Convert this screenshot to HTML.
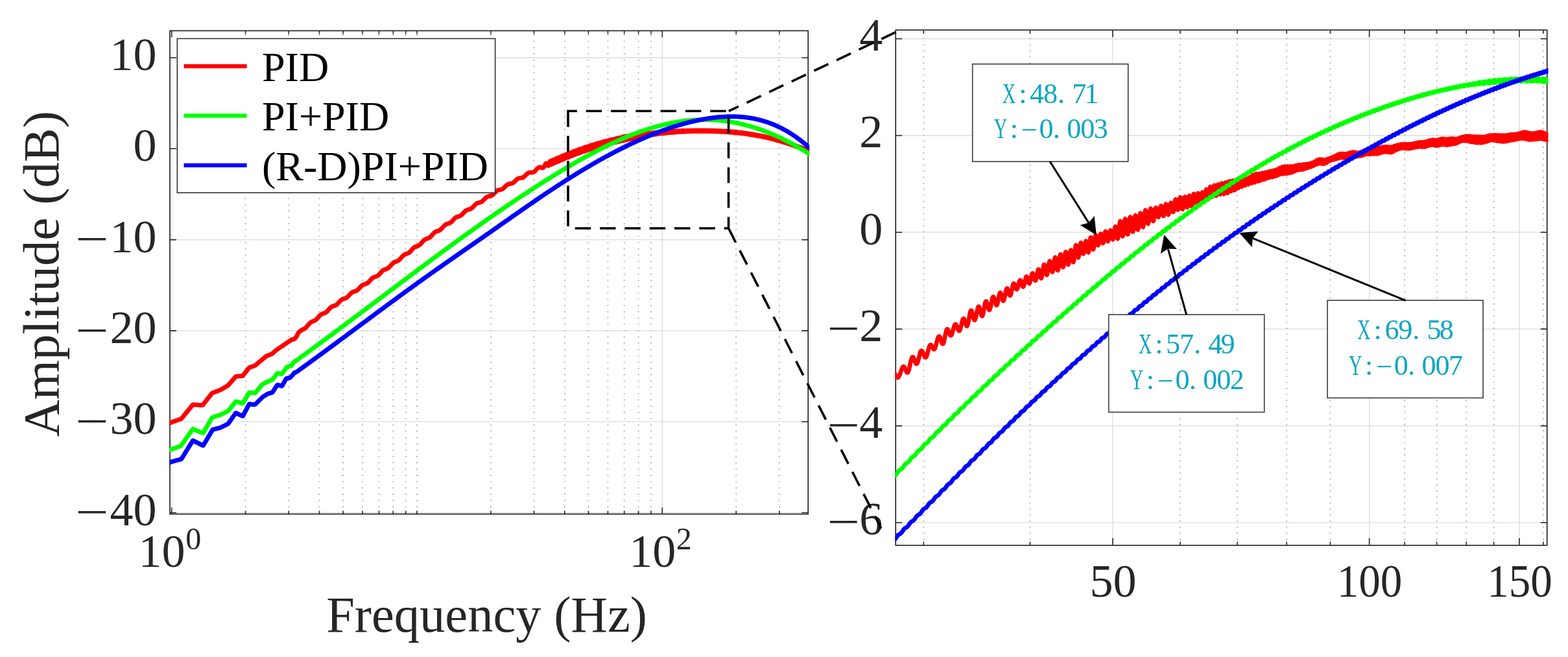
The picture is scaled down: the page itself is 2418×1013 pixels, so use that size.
<!DOCTYPE html>
<html><head><meta charset="utf-8"><title>Amplitude vs Frequency</title>
<style>html,body{margin:0;padding:0;background:#fff;overflow:hidden}svg{display:block}text{font-family:"Liberation Serif","Times New Roman",serif}</style></head><body>
<svg width="2418" height="1013" viewBox="0 0 2418 1013">
<rect x="0" y="0" width="2418" height="1013" fill="#fff"/>
<defs><clipPath id="cl"><rect x="261.2" y="47.4" width="987" height="745.2"/></clipPath>
<clipPath id="cr"><rect x="1380.4" y="46.3" width="1007.1" height="794.5"/></clipPath></defs>
<path d="M262 89H1246.2M262 229.3H1246.2M262 369.6H1246.2M262 509.9H1246.2M262 650.2H1246.2M262 790.5H1246.2M264.7 47.4V792.6M1021.3 47.4V792.6" stroke="#dcdcdc" stroke-width="1.3" fill="none"/>
<path d="M378.6 792.6V47.4M445.2 792.6V47.4M492.5 792.6V47.4M529.1 792.6V47.4M559.1 792.6V47.4M584.4 792.6V47.4M606.3 792.6V47.4M625.7 792.6V47.4M643 792.6V47.4M756.9 792.6V47.4M823.5 792.6V47.4M870.8 792.6V47.4M907.4 792.6V47.4M937.4 792.6V47.4M962.7 792.6V47.4M984.6 792.6V47.4M1004 792.6V47.4M1135.2 792.6V47.4M1201.8 792.6V47.4" stroke="#b4b4b4" stroke-width="1.9" stroke-dasharray="1.9 7.8" stroke-dashoffset="9.2" fill="none"/>
<path d="M264.7 792.6v-10M264.7 47.4v10M1021.3 792.6v-10M1021.3 47.4v10M378.6 792.6v-5M378.6 47.4v5M445.2 792.6v-5M445.2 47.4v5M492.5 792.6v-5M492.5 47.4v5M529.1 792.6v-5M529.1 47.4v5M559.1 792.6v-5M559.1 47.4v5M584.4 792.6v-5M584.4 47.4v5M606.3 792.6v-5M606.3 47.4v5M625.7 792.6v-5M625.7 47.4v5M643 792.6v-5M643 47.4v5M756.9 792.6v-5M756.9 47.4v5M823.5 792.6v-5M823.5 47.4v5M870.8 792.6v-5M870.8 47.4v5M907.4 792.6v-5M907.4 47.4v5M937.4 792.6v-5M937.4 47.4v5M962.7 792.6v-5M962.7 47.4v5M984.6 792.6v-5M984.6 47.4v5M1004 792.6v-5M1004 47.4v5M1135.2 792.6v-5M1135.2 47.4v5M1201.8 792.6v-5M1201.8 47.4v5M262 89h10M1246.2 89h-10M262 229.3h10M1246.2 229.3h-10M262 369.6h10M1246.2 369.6h-10M262 509.9h10M1246.2 509.9h-10M262 650.2h10M1246.2 650.2h-10M262 790.5h10M1246.2 790.5h-10" stroke="#262626" stroke-width="1.6" fill="none"/>
<rect x="262" y="47.4" width="984.2" height="745.2" stroke="#262626" stroke-width="1.7" fill="none"/>
<g clip-path="url(#cl)" fill="none" stroke-width="6.9" stroke-linejoin="round" stroke-linecap="round">
<path d="M260 652.1L260.5 652.1L261 652.1L261.5 652.1L262 652.1L262.5 651.9L263 651.7L263.5 651.5L264 651.3L264.5 651.2L265 651L265.5 650.8L266 650.6L266.5 650.4L267 650.2L267.5 650.1L268 649.9L268.5 649.7L269 649.5L269.5 649.3L270 649.1L270.5 649L271 648.8L271.5 648.6L272 648.4L272.5 648.2L273 648L273.5 647.9L274 647.7L274.5 647.5L275 647.3L275.5 647.1L276 647L276.5 646.8L277 646.6L277.5 646.4L278 646.2L278.5 646L279 645.9L279.5 645.7L280 645.2L280.5 644.6L281 644L281.5 643.4L282 642.8L282.5 642.2L283 641.6L283.5 640.9L284 640.3L284.5 639.7L285 639.1L285.5 638.5L286 637.9L286.5 637.3L287 636.7L287.5 636L288 635.4L288.5 634.8L289 634.2L289.5 633.6L290 633L290.5 632.4L291 631.7L291.5 631.1L292 630.5L292.5 629.9L293 629.3L293.5 628.7L294 628.1L294.5 627.5L295 626.8L295.5 626.2L296 625.6L296.5 625L297 624.4L297.5 623.9L298 623.9L298.5 624L299 624L299.5 624L300 624.1L300.5 624.1L301 624.1L301.5 624.2L302 624.2L302.5 624.2L303 624.3L303.5 624.3L304 624.3L304.5 624.4L305 624.4L305.5 624.4L306 624.5L306.5 624.5L307 624.5L307.5 624.6L308 624.6L308.5 624.6L309 624.7L309.5 624.7L310 624.7L310.5 624.8L311 624.8L311.5 624.8L312 624.9L312.5 624.6L313 624L313.5 623.4L314 622.7L314.5 622.1L315 621.5L315.5 620.8L316 620.2L316.5 619.6L317 618.9L317.5 618.3L318 617.7L318.5 617L319 616.4L319.5 615.8L320 615.1L320.5 614.5L321 613.8L321.5 613.2L322 612.6L322.5 611.9L323 611.3L323.5 610.7L324 610L324.5 609.4L325 608.8L325.5 608.1L326 607.5L326.5 606.9L327 606.2L327.5 605.9L328 605.8L328.5 605.6L329 605.4L329.5 605.2L330 605L330.5 604.8L331 604.6L331.5 604.4L332 604.2L332.5 604L333 603.8L333.5 603.7L334 603.5L334.5 603.3L335 603.1L335.5 602.9L336 602.7L336.5 602.5L337 602.3L337.5 602.1L338 601.9L338.5 601.7L339 601.5L339.5 601.4L340 601.1L340.5 600.8L341 600.6L341.5 600.3L342 600L342.5 599.7L343 599.4L343.5 599.1L344 598.8L344.5 598.5L345 598.2L345.5 597.9L346 597.6L346.5 597.3L347 597L347.5 596.8L348 596.5L348.5 596.2L349 595.9L349.5 595.6L350 595.3L350.5 595L351 594.7L351.5 594.4L352 594L352.5 593.4L353 592.8L353.5 592.2L354 591.6L354.5 591.1L355 590.5L355.5 589.9L356 589.3L356.5 588.7L357 588.2L357.5 587.6L358 587L358.5 586.4L359 585.8L359.5 585.3L360 584.7L360.5 584.1L361 583.5L361.5 582.9L362 582.4L362.5 581.8L363 581.2L363.5 580.6L364 580.5L364.5 580.4L365 580.4L365.5 580.3L366 580.3L366.5 580.2L367 580.2L367.5 580.1L368 580.1L368.5 580L369 580L369.5 580L370 579.9L370.5 579.9L371 579.8L371.5 579.8L372 579.7L372.5 579.7L373 579.6L373.5 579.6L374 579.5L374.5 579.4L375 578.7L375.5 578.1L376 577.4L376.5 576.8L377 576.1L377.5 575.5L378 574.8L378.5 574.2L379 573.6L379.5 572.9L380 572.3L380.5 571.6L381 571L381.5 570.3L382 569.7L382.5 569L383 568.4L383.5 567.7L384 567.1L384.5 566.6L385 566.5L385.5 566.3L386 566.1L386.5 566L387 565.8L387.5 565.6L388 565.5L388.5 565.3L389 565.1L389.5 564.9L390 564.8L390.5 564.6L391 564.4L391.5 564.3L392 564.1L392.5 563.9L393 563.8L393.5 563.5L394 563L394.5 562.6L395 562.2L395.5 561.8L396 561.4L396.5 561L397 560.5L397.5 560.1L398 559.7L398.5 559.3L399 558.9L399.5 558.5L400 558L400.5 557.6L401 557.2L401.5 556.8L402 556.4L402.5 556L403 555.6L403.5 555.1L404 554.7L404.5 554.3L405 553.9L405.5 553.5L406 553.1L406.5 552.6L407 552.2L407.5 551.8L408 551.4L408.5 551L409 550.6L409.5 550.1L410 549.7L410.5 549.3L411 548.9L411.5 548.7L412 548.5L412.5 548.3L413 548.1L413.5 548L414 547.8L414.5 547.6L415 547.4L415.5 547.2L416 547L416.5 546.8L417 546.6L417.5 546.4L418 546.2L418.5 546.1L419 545.8L419.5 545.4L420 545L420.5 544.5L421 544.1L421.5 543.7L422 543.2L422.5 542.8L423 542.4L423.5 542L424 541.5L424.5 541.1L425 540.7L425.5 540.3L426 539.9L426.5 539.5L427 539.2L427.5 538.8L428 538.5L428.5 538.1L429 537.8L429.5 537.5L430 537.1L430.5 536.8L431 536.4L431.5 536.1L432 535.7L432.5 535.4L433 535.1L433.5 534.7L434 534.4L434.5 534L435 533.7L435.5 533.3L436 533L436.5 532.7L437 532.3L437.5 532L438 531.6L438.5 531.3L439 530.9L439.5 530.6L440 530.3L440.5 529.9L441 529.6L441.5 529.2L442 528.9L442.5 528.5L443 528.2L443.5 527.9L444 527.5L444.5 527.2L445 526.8L445.5 526.5L446 526.1L446.5 525.8L447 525.5L447.5 525.1L448 524.8L448.5 524.4L449 524.1L449.5 523.7L450 523.4L450.5 523.4L451 523.4L451.5 523.4L452 523.5L452.5 523.3L453 523L453.5 522.8L454 522.4L454.5 522L455 521.6L455.5 521.1L456 520.5L456.5 519.8L457 519.1L457.5 518.3L458 517.4L458.5 516.5L459 515.5L459.5 514.5L460 513.3L460.5 512.8L461 512.3L461.5 511.8L462 511.3L462.5 510.8L463 510.4L463.5 510L464 509.6L464.5 509.3L465 508.9L465.5 508.7L466 508.4L466.5 508.2L467 507.9L467.5 507.7L468 507.5L468.5 507.3L469 507L469.5 506.7L470 506.5L470.5 506.1L471 505.7L471.5 505.2L472 504.8L472.5 504.2L473 503.7L473.5 503.1L474 502.5L474.5 501.9L475 501.3L475.5 500.7L476 500.1L476.5 499.5L477 499L477.5 498.5L478 498L478.5 497.6L479 497.2L479.5 496.8L480 496.5L480.5 496.2L481 496L481.5 495.8L482 495.6L482.5 495.4L483 495.3L483.5 495.1L484 494.9L484.5 494.7L485 494.5L485.5 494.2L486 493.9L486.5 493.6L487 493.2L487.5 492.8L488 492.3L488.5 491.8L489 491.3L489.5 490.7L490 490.1L490.5 489.6L491 489L491.5 488.4L492 487.8L492.5 487.3L493 486.7L493.5 486.2L494 485.8L494.5 485.4L495 485L495.5 484.7L496 484.4L496.5 484.1L497 483.9L497.5 483.7L498 483.6L498.5 483.4L499 483.2L499.5 483.1L500 482.9L500.5 482.7L501 482.5L501.5 482.3L502 482L502.5 481.7L503 481.3L503.5 480.9L504 480.4L504.5 480L505 479.4L505.5 478.9L506 478.3L506.5 477.8L507 477.2L507.5 476.6L508 476L508.5 475.5L509 475L509.5 474.5L510 474.1L510.5 473.7L511 473.3L511.5 473L512 472.7L512.5 472.5L513 472.3L513.5 472.1L514 472L514.5 471.8L515 471.7L515.5 471.5L516 471.4L516.5 471.2L517 471L517.5 470.8L518 470.5L518.5 470.2L519 469.8L519.5 469.4L520 469L520.5 468.5L521 468L521.5 467.5L522 466.9L522.5 466.3L523 465.8L523.5 465.2L524 464.7L524.5 464.1L525 463.6L525.5 463.2L526 462.7L526.5 462.3L527 462L527.5 461.7L528 461.4L528.5 461.2L529 461L529.5 460.8L530 460.7L530.5 460.5L531 460.4L531.5 460.3L532 460.1L532.5 459.9L533 459.7L533.5 459.5L534 459.2L534.5 458.9L535 458.6L535.5 458.2L536 457.8L536.5 457.3L537 456.8L537.5 456.3L538 455.7L538.5 455.1L539 454.6L539.5 454L540 453.5L540.5 452.9L541 452.4L541.5 452L542 451.5L542.5 451.2L543 450.8L543.5 450.5L544 450.2L544.5 450L545 449.8L545.5 449.6L546 449.5L546.5 449.4L547 449.2L547.5 449.1L548 448.9L548.5 448.8L549 448.6L549.5 448.3L550 448.1L550.5 447.8L551 447.4L551.5 447L552 446.6L552.5 446.1L553 445.6L553.5 445.1L554 444.5L554.5 444L555 443.4L555.5 442.9L556 442.3L556.5 441.8L557 441.3L557.5 440.8L558 440.4L558.5 440L559 439.6L559.5 439.3L560 439.1L560.5 438.8L561 438.6L561.5 438.5L562 438.3L562.5 438.2L563 438L563.5 437.9L564 437.7L564.5 437.6L565 437.4L565.5 437.1L566 436.8L566.5 436.5L567 436.2L567.5 435.8L568 435.3L568.5 434.9L569 434.4L569.5 433.8L570 433.3L570.5 432.7L571 432.1L571.5 431.6L572 431L572.5 430.5L573 430L573.5 429.5L574 429L574.5 428.6L575 428.3L575.5 428L576 427.7L576.5 427.5L577 427.3L577.5 427.1L578 426.9L578.5 426.8L579 426.6L579.5 426.5L580 426.3L580.5 426.1L581 425.9L581.5 425.7L582 425.4L582.5 425.1L583 424.7L583.5 424.3L584 423.9L584.5 423.4L585 422.9L585.5 422.3L586 421.8L586.5 421.2L587 420.6L587.5 420L588 419.5L588.5 418.9L589 418.4L589.5 417.9L590 417.5L590.5 417.1L591 416.7L591.5 416.4L592 416.1L592.5 415.9L593 415.6L593.5 415.5L594 415.3L594.5 415.1L595 415L595.5 414.8L596 414.7L596.5 414.5L597 414.3L597.5 414L598 413.7L598.5 413.4L599 413L599.5 412.6L600 412.2L600.5 411.7L601 411.2L601.5 410.6L602 410L602.5 409.5L603 408.9L603.5 408.3L604 407.7L604.5 407.2L605 406.7L605.5 406.2L606 405.7L606.5 405.3L607 405L607.5 404.6L608 404.3L608.5 404.1L609 403.9L609.5 403.7L610 403.5L610.5 403.4L611 403.2L611.5 403L612 402.9L612.5 402.7L613 402.5L613.5 402.2L614 401.9L614.5 401.6L615 401.2L615.5 400.8L616 400.4L616.5 399.9L617 399.3L617.5 398.8L618 398.2L618.5 397.6L619 397.1L619.5 396.5L620 395.9L620.5 395.4L621 394.8L621.5 394.3L622 393.9L622.5 393.5L623 393.1L623.5 392.8L624 392.5L624.5 392.3L625 392L625.5 391.8L626 391.7L626.5 391.5L627 391.4L627.5 391.2L628 391L628.5 390.8L629 390.6L629.5 390.4L630 390.1L630.5 389.7L631 389.4L631.5 389L632 388.5L632.5 388L633 387.5L633.5 386.9L634 386.4L634.5 385.8L635 385.2L635.5 384.6L636 384.1L636.5 383.5L637 383L637.5 382.5L638 382L638.5 381.6L639 381.3L639.5 380.9L640 380.7L640.5 380.4L641 380.2L641.5 380L642 379.8L642.5 379.7L643 379.5L643.5 379.4L644 379.2L644.5 379L645 378.8L645.5 378.5L646 378.2L646.5 377.9L647 377.5L647.5 377.1L648 376.7L648.5 376.2L649 375.7L649.5 375.1L650 374.6L650.5 374L651 373.4L651.5 372.8L652 372.2L652.5 371.7L653 371.2L653.5 370.7L654 370.3L654.5 369.8L655 369.5L655.5 369.2L656 368.9L656.5 368.6L657 368.4L657.5 368.2L658 368.1L658.5 367.9L659 367.8L659.5 367.6L660 367.4L660.5 367.3L661 367L661.5 366.8L662 366.5L662.5 366.2L663 365.8L663.5 365.4L664 365L664.5 364.5L665 364L665.5 363.4L666 362.9L666.5 362.3L667 361.7L667.5 361.1L668 360.6L668.5 360L669 359.5L669.5 359L670 358.6L670.5 358.2L671 357.8L671.5 357.5L672 357.2L672.5 357L673 356.8L673.5 356.6L674 356.4L674.5 356.3L675 356.2L675.5 356L676 355.9L676.5 355.7L677 355.5L677.5 355.2L678 354.9L678.5 354.6L679 354.3L679.5 353.9L680 353.4L680.5 353L681 352.4L681.5 351.9L682 351.4L682.5 350.8L683 350.2L683.5 349.6L684 349.1L684.5 348.6L685 348.1L685.5 347.6L686 347.1L686.5 346.8L687 346.4L687.5 346.1L688 345.8L688.5 345.6L689 345.4L689.5 345.2L690 345.1L690.5 344.9L691 344.8L691.5 344.7L692 344.5L692.5 344.3L693 344.1L693.5 343.9L694 343.6L694.5 343.3L695 343L695.5 342.6L696 342.1L696.5 341.7L697 341.2L697.5 340.7L698 340.1L698.5 339.5L699 339L699.5 338.4L700 337.9L700.5 337.4L701 336.9L701.5 336.4L702 336L702.5 335.6L703 335.2L703.5 334.9L704 334.7L704.5 334.5L705 334.3L705.5 334.1L706 334L706.5 333.8L707 333.7L707.5 333.6L708 333.4L708.5 333.3L709 333.1L709.5 332.9L710 332.6L710.5 332.3L711 332L711.5 331.6L712 331.1L712.5 330.7L713 330.2L713.5 329.7L714 329.1L714.5 328.6L715 328L715.5 327.5L716 327L716.5 326.4L717 326L717.5 325.5L718 325.1L718.5 324.7L719 324.4L719.5 324.1L720 323.8L720.5 323.6L721 323.4L721.5 323.3L722 323.2L722.5 323L723 322.9L723.5 322.8L724 322.7L724.5 322.5L725 322.3L725.5 322.1L726 321.9L726.5 321.6L727 321.2L727.5 320.9L728 320.5L728.5 320L729 319.5L729.5 319L730 318.5L730.5 318L731 317.4L731.5 316.9L732 316.3L732.5 315.8L733 315.4L733.5 314.9L734 314.5L734.5 314.1L735 313.8L735.5 313.5L736 313.3L736.5 313.1L737 312.9L737.5 312.8L738 312.7L738.5 312.6L739 312.4L739.5 312.3L740 312.2L740.5 312.1L741 311.9L741.5 311.7L742 311.5L742.5 311.2L743 310.9L743.5 310.5L744 310.1L744.5 309.7L745 309.2L745.5 308.7L746 308.2L746.5 307.7L747 307.1L747.5 306.6L748 306.1L748.5 305.6L749 305.1L749.5 304.7L750 304.3L750.5 303.9L751 303.6L751.5 303.4L752 303.1L752.5 302.9L753 302.8L753.5 302.6L754 302.5L754.5 302.4L755 302.3L755.5 302.2L756 302.1L756.5 302L757 301.8L757.5 301.7L758 301.4L758.5 301.2L759 300.8L759.5 300.5L760 300.1L760.5 299.7L761 299.2L761.5 298.7L762 298.2L762.5 297.7L763 297.2L763.5 296.7L764 296.2L764.5 295.7L765 295.2L765.5 294.8L766 294.4L766.5 294.1L767 293.8L767.5 293.5L768 293.3L768.5 293.1L769 293L769.5 292.9L770 292.8L770.5 292.7L771 292.6L771.5 292.5L772 292.4L772.5 292.3L773 292.2L773.5 292L774 291.8L774.5 291.5L775 291.2L775.5 290.9L776 290.5L776.5 290.1L777 289.6L777.5 289.2L778 288.7L778.5 288.2L779 287.7L779.5 287.2L780 286.7L780.5 286.2L781 285.8L781.5 285.3L782 285L782.5 284.6L783 284.4L783.5 284.1L784 283.9L784.5 283.7L785 283.6L785.5 283.5L786 283.4L786.5 283.3L787 283.3L787.5 283.2L788 283.1L788.5 283L789 282.9L789.5 282.7L790 282.5L790.5 282.3L791 282L791.5 281.7L792 281.3L792.5 280.9L793 280.5L793.5 280L794 279.5L794.5 279L795 278.5L795.5 278L796 277.6L796.5 277.1L797 276.7L797.5 276.3L798 275.9L798.5 275.6L799 275.3L799.5 275.1L800 274.9L800.5 274.8L801 274.6L801.5 274.5L802 274.5L802.5 274.4L803 274.4L803.5 274.3L804 274.3L804.5 274.2L805 274.1L805.5 274L806 273.8L806.5 273.6L807 273.3L807.5 273L808 272.6L808.5 272.2L809 271.8L809.5 271.3L810 270.9L810.5 270.3L811 269.8L811.5 269.3L812 268.8L812.5 268.3L813 267.9L813.5 267.5L814 267.1L814.5 266.8L815 266.5L815.5 266.3L816 266.1L816.5 266L817 266L817.5 265.9L818 265.9L818.5 265.9L819 265.9L819.5 266L820 266L820.5 265.9L821 265.9L821.5 265.8L822 265.7L822.5 265.5L823 265.2L823.5 264.9L824 264.6L824.5 264.2L825 263.7L825.5 263.2L826 262.7L826.5 262.1L827 261.6L827.5 261L828 260.5L828.5 260L829 259.5L829.5 259.1L830 258.7L830.5 258.4L831 258.1L831.5 257.9L832 257.8L832.5 257.7L833 257.8L833.5 257.9L834 258.1L834.5 258.3L835 258.5L835.5 258.7L836 258.9L836.5 259L837 258.9L837.5 258.7L838 258.4L838.5 257.8L839 257.1L839.5 256.2L840 255.2L840.5 254.2L841 253.3L841.5 252.5L842 252L842.5 251.9L843 252.2L843.5 252.8L844 253.7L844.5 254.6L845 255.3L845.5 255.5L846 255L846.5 253.7L847 251.8L847.5 250L848 248.9L848.5 249.2L849 251L849.5 253.1L850 253.7L850.5 251.7L851 248.7L851.5 247.1L852 248.2L852.5 250.8L853 252.4L853.5 251.3L854 248.4L854.5 246L855 246.1L855.5 248.4L856 250.6L856.5 250.6L857 248.2L857.5 245.3L858 244.3L858.5 245.9L859 248.5L859.5 249.6L860 248L860.5 244.9L861 243L861.5 243.7L862 246.2L862.5 248.1L863 247.5L863.5 244.8L864 242.1L864.5 241.7L865 243.8L865.5 246.2L866 246.7L866.5 244.6L867 241.6L867.5 240.2L868 241.5L868.5 244.1L869 245.5L869.5 244.3L870 241.4L870.5 239.1L871 239.4L871.5 241.8L872 244L872.5 243.8L873 241.2L873.5 238.4L874 237.7L874.5 239.5L875 242L875.5 242.9L876 241.1L876.5 238.1L877 236.3L877.5 237.3L878 239.9L878.5 241.6L879 240.8L879.5 237.9L880 235.4L880.5 235.4L881 237.7L881.5 240L882 240.2L882.5 237.8L883 234.9L883.5 233.9L884 235.4L884.5 238.1L885 239.2L885.5 237.7L886 234.7L886.5 232.7L887 233.4L887.5 236L888 237.9L888.5 237.3L889 234.6L889.5 232L890 231.7L890.5 233.8L891 236.3L891.5 236.7L892 234.5L892.5 231.6L893 230.3L893.5 231.7L894 234.4L894.5 235.7L895 234.4L895.5 231.4L896 229.3L896.5 229.8L897 232.3L897.5 234.4L898 234.1L898.5 231.4L899 228.7L899.5 228.2L900 230.3L900.5 232.8L901 233.4L901.5 231.4L902 228.4L902.5 227L903 228.3L903.5 231L904 232.5L904.5 231.3L905 228.3L905.5 226.1L906 226.5L906.5 229L907 231.2L907.5 230.9L908 228.3L908.5 225.6L909 225L909.5 227L910 229.6L910.5 230.3L911 228.3L911.5 225.3L912 223.9L912.5 225.1L913 227.8L913.5 229.4L914 228.2L914.5 225.3L915 223.1L915.5 223.4L916 225.9L916.5 228.1L917 227.9L917.5 225.4L918 222.6L918.5 222L919 224L919.5 226.6L920 227.4L920.5 225.4L921 222.4L921.5 221L922 222.2L922.5 224.9L923 226.5L923.5 225.3L924 222.4L924.5 220.2L925 220.6L925.5 223.1L926 225.3L926.5 225.1L927 222.5L927.5 219.8L928 219.3L928.5 221.3L929 223.9L929.5 224.6L930 222.6L930.5 219.6L931 218.3L931.5 219.6L932 222.3L932.5 223.8L933 222.6L933.5 219.6L934 217.5L934.5 218.1L935 220.6L935.5 222.8L936 222.4L936.5 219.8L937 217.1L937.5 216.8L938 218.9L938.5 221.5L939 222L939.5 219.9L940 216.9L940.5 215.7L941 217.3L941.5 220L942 221.3L942.5 219.9L943 217L943.5 215L944 215.8L944.5 218.4L945 220.4L945.5 219.9L946 217.1L946.5 214.6L947 214.5L947.5 216.8L948 219.3L948.5 219.6L949 217.3L949.5 214.4L950 213.5L950.5 215.2L951 217.9L951.5 219L952 217.4L952.5 214.4L953 212.7L953.5 213.7L954 216.4L954.5 218.3L955 217.4L955.5 214.6L956 212.2L956.5 212.5L957 214.9L957.5 217.3L958 217.3L958.5 214.8L959 212L959.5 211.4L960 213.4L960.5 216.1L961 216.9L961.5 215L962 212L962.5 210.6L963 212L963.5 214.7L964 216.3L964.5 215.1L965 212.2L965.5 210.1L966 210.7L966.5 213.3L967 215.5L967.5 215.1L968 212.4L968.5 209.8L969 209.6L969.5 211.9L970 214.4L970.5 214.8L971 212.6L971.5 209.7L972 208.8L972.5 210.5L973 213.3L973.5 214.4L974 212.8L974.5 209.8L975 208.2L975.5 209.2L976 212L976.5 213.8L977 212.9L977.5 210.1L978 207.8L978.5 208.1L979 210.6L979.5 213L980 212.9L980.5 210.3L981 207.7L981.5 207.3L982 209.3L982.5 211.9L983 212.5L983.5 210.5L984 207.8L984.5 206.7L985 208.2L985.5 210.7L986 211.9L986.5 210.6L987 208L987.5 206.4L988 207.2L988.5 209.5L989 211.2L989.5 210.5L990 208.2L990.5 206.3L991 206.4L991.5 208.4L992 210.3L992.5 210.3L993 208.4L993.5 206.3L994 205.8L994.5 207.4L995 209.3L995.5 209.9L996 208.4L996.5 206.3L997 205.4L997.5 206.5L998 208.4L998.5 209.3L999 208.4L999.5 206.4L1000 205.2L1000.5 205.7L1001 207.5L1001.5 208.7L1002 208.2L1002.5 206.5L1003 205.1L1003.5 205.2L1004 206.6L1004.5 208L1005 207.9L1005.5 206.6L1006 205.1L1006.5 204.8L1007 205.8L1007.5 207.2L1008 207.5L1008.5 206.5L1009 205.1L1009.5 204.5L1010 205.2L1010.5 206.5L1011 207.1L1011.5 206.4L1012 205L1012.5 204.2L1013 204.6L1013.5 205.8L1014 206.7L1014.5 206.3L1015 205L1015.5 204L1016 204.1L1016.5 205.2L1017 206.2L1017.5 206.1L1018 205L1018.5 203.8L1019 203.6L1019.5 204.6L1020 205.7L1020.5 205.9L1021 205L1021.5 203.7L1022 203.3L1022.5 204L1023 205.1L1023.5 205.6L1024 204.9L1024.5 203.7L1025 203L1025.5 203.5L1026 204.6L1026.5 205.3L1027 204.9L1027.5 203.7L1028 202.8L1028.5 203L1029 204.1L1029.5 204.9L1030 204.7L1030.5 203.7L1031 202.7L1031.5 202.7L1032 203.6L1032.5 204.5L1033 204.6L1033.5 203.7L1034 202.6L1034.5 202.4L1035 203.1L1035.5 204.1L1036 204.4L1036.5 203.7L1037 202.6L1037.5 202.2L1038 202.7L1038.5 203.7L1039 204.2L1039.5 203.7L1040 202.6L1040.5 202L1041 202.3L1041.5 203.3L1042 203.9L1042.5 203.6L1043 202.7L1043.5 201.9L1044 202L1044.5 202.9L1045 203.6L1045.5 203.5L1046 202.7L1046.5 201.8L1047 201.8L1047.5 202.5L1048 203.3L1048.5 203.4L1049 202.7L1049.5 201.8L1050 201.6L1050.5 202.2L1051 203L1051.5 203.3L1052 202.7L1052.5 201.8L1053 201.4L1053.5 201.9L1054 202.7L1054.5 203.1L1055 202.7L1055.5 201.9L1056 201.4L1056.5 201.6L1057 202.4L1057.5 203L1058 202.7L1058.5 201.9L1059 201.3L1059.5 201.4L1060 202.2L1060.5 202.8L1061 202.7L1061.5 202L1062 201.3L1062.5 201.3L1063 201.9L1063.5 202.6L1064 202.7L1064.5 202.1L1065 201.3L1065.5 201.1L1066 201.7L1066.5 202.4L1067 202.6L1067.5 202.1L1068 201.4L1068.5 201.1L1069 201.5L1069.5 202.3L1070 202.6L1070.5 202.2L1071 201.4L1071.5 201L1072 201.3L1072.5 202.1L1073 202.5L1073.5 202.3L1074 201.5L1074.5 201L1075 201.2L1075.5 201.9L1076 202.5L1076.5 202.3L1077 201.6L1077.5 201L1078 201.1L1078.5 201.8L1079 202.4L1079.5 202.4L1080 201.8L1080.5 201.1L1081 201L1081.5 201.6L1082 202.3L1082.5 202.5L1083 201.9L1083.5 201.2L1084 201L1084.5 201.5L1085 202.3L1085.5 202.5L1086 202L1086.5 201.3L1087 201L1087.5 201.4L1088 202.2L1088.5 202.5L1089 202.2L1089.5 201.4L1090 201L1090.5 201.3L1091 202.1L1091.5 202.6L1092 202.3L1092.5 201.6L1093 201.1L1093.5 201.3L1094 202L1094.5 202.6L1095 202.5L1095.5 201.8L1096 201.2L1096.5 201.3L1097 202L1097.5 202.6L1098 202.6L1098.5 202L1099 201.3L1099.5 201.3L1100 202L1100.5 202.6L1101 202.7L1101.5 202.2L1102 201.5L1102.5 201.4L1103 201.9L1103.5 202.7L1104 202.9L1104.5 202.4L1105 201.7L1105.5 201.5L1106 201.9L1106.5 202.7L1107 203L1107.5 202.6L1108 201.9L1108.5 201.6L1109 202L1109.5 202.7L1110 203.1L1110.5 202.8L1111 202.1L1111.5 201.7L1112 202L1112.5 202.8L1113 203.3L1113.5 203L1114 202.4L1114.5 201.9L1115 202.1L1115.5 202.8L1116 203.4L1116.5 203.3L1117 202.6L1117.5 202.1L1118 202.2L1118.5 202.9L1119 203.6L1119.5 203.5L1120 202.9L1120.5 202.3L1121 202.4L1121.5 203L1122 203.7L1122.5 203.8L1123 203.2L1123.5 202.6L1124 202.6L1124.5 203.2L1125 203.9L1125.5 204L1126 203.5L1126.5 202.9L1127 202.8L1127.5 203.3L1128 204L1128.5 204.3L1129 203.9L1129.5 203.2L1130 203L1130.5 203.5L1131 204.2L1131.5 204.6L1132 204.2L1132.5 203.6L1133 203.3L1133.5 203.7L1134 204.4L1134.5 204.9L1135 204.6L1135.5 203.9L1136 203.6L1136.5 203.9L1137 204.7L1137.5 205.1L1138 204.9L1138.5 204.3L1139 203.9L1139.5 204.2L1140 204.9L1140.5 205.5L1141 205.3L1141.5 204.7L1142 204.3L1142.5 204.5L1143 205.2L1143.5 205.8L1144 205.7L1144.5 205.1L1145 204.6L1145.5 204.8L1146 205.5L1146.5 206.1L1147 206.1L1147.5 205.6L1148 205.1L1148.5 205.1L1149 205.8L1149.5 206.5L1150 206.6L1150.5 206.1L1151 205.5L1151.5 205.5L1152 206.1L1152.5 206.8L1153 207L1153.5 206.6L1154 206L1154.5 205.9L1155 206.5L1155.5 207.2L1156 207.5L1156.5 207.1L1157 206.5L1157.5 206.3L1158 206.9L1158.5 207.6L1159 208L1159.5 207.6L1160 207L1160.5 206.8L1161 207.3L1161.5 208.1L1162 208.4L1162.5 208.1L1163 207.6L1163.5 207.3L1164 207.8L1164.5 208.5L1165 209L1165.5 208.7L1166 208.1L1166.5 207.9L1167 208.3L1167.5 209L1168 209.5L1168.5 209.3L1169 208.7L1169.5 208.4L1170 208.8L1170.5 209.5L1171 210.1L1171.5 209.9L1172 209.4L1172.5 209L1173 209.3L1173.5 210.1L1174 210.6L1174.5 210.6L1175 210L1175.5 209.7L1176 209.9L1176.5 210.7L1177 211.3L1177.5 211.2L1178 210.7L1178.5 210.3L1179 210.5L1179.5 211.3L1180 211.9L1180.5 211.9L1181 211.4L1181.5 211L1182 211.2L1182.5 211.9L1183 212.6L1183.5 212.6L1184 212.2L1184.5 211.7L1185 211.9L1185.5 212.6L1186 213.2L1186.5 213.4L1187 212.9L1187.5 212.5L1188 212.6L1188.5 213.2L1189 214L1189.5 214.1L1190 213.7L1190.5 213.3L1191 213.3L1191.5 214L1192 214.7L1192.5 214.9L1193 214.5L1193.5 214.1L1194 214.1L1194.5 214.7L1195 215.5L1195.5 215.7L1196 215.4L1196.5 214.9L1197 214.9L1197.5 215.5L1198 216.3L1198.5 216.6L1199 216.2L1199.5 215.8L1200 215.7L1200.5 216.3L1201 217.1L1201.5 217.4L1202 217.1L1202.5 216.6L1203 216.6L1203.5 217.2L1204 217.9L1204.5 218.3L1205 218L1205.5 217.6L1206 217.5L1206.5 218L1207 218.8L1207.5 219.2L1208 219L1208.5 218.5L1209 218.4L1209.5 218.9L1210 219.7L1210.5 220.1L1211 219.9L1211.5 219.4L1212 219.3L1212.5 219.9L1213 220.7L1213.5 221.1L1214 220.9L1214.5 220.4L1215 220.3L1215.5 220.8L1216 221.6L1216.5 222.1L1217 221.9L1217.5 221.4L1218 221.3L1218.5 221.8L1219 222.6L1219.5 223.1L1220 222.9L1220.5 222.5L1221 222.3L1221.5 222.8L1222 223.6L1222.5 224.1L1223 223.9L1223.5 223.5L1224 223.3L1224.5 223.8L1225 224.6L1225.5 225.1L1226 225L1226.5 224.6L1227 224.4L1227.5 224.9L1228 225.7L1228.5 226.2L1229 226.1L1229.5 225.6L1230 225.5L1230.5 225.9L1231 226.7L1231.5 227.3L1232 227.2L1232.5 226.7L1233 226.6L1233.5 227L1234 227.8L1234.5 228.4L1235 228.3L1235.5 227.9L1236 227.7L1236.5 228.1L1237 228.9L1237.5 229.5L1238 229.4L1238.5 229L1239 228.8L1239.5 229.3L1240 230.1L1240.5 230.6L1241 230.6L1241.5 230.2L1242 230L1242.5 230.4L1243 231.2L1243.5 231.8L1244 231.7L1244.5 231.3L1245 231.2L1245.5 231.6L1246 232.4L1246.5 232.9L1247 232.9L1247.5 232.5L1248 232.4" stroke="#ff0000"/>
<path d="M260 693.6L260.5 693.6L261 693.6L261.5 693.6L262 693.6L262.5 693.4L263 693.2L263.5 693L264 692.9L264.5 692.7L265 692.5L265.5 692.3L266 692.2L266.5 692L267 691.8L267.5 691.6L268 691.5L268.5 691.3L269 691.1L269.5 690.9L270 690.8L270.5 690.6L271 690.4L271.5 690.2L272 690.1L272.5 689.9L273 689.7L273.5 689.5L274 689.4L274.5 689.2L275 689L275.5 688.8L276 688.6L276.5 688.5L277 688.3L277.5 688.1L278 687.9L278.5 687.8L279 687.3L279.5 686.6L280 685.9L280.5 685.2L281 684.5L281.5 683.8L282 683.1L282.5 682.4L283 681.7L283.5 680.9L284 680.2L284.5 679.5L285 678.8L285.5 678.1L286 677.4L286.5 676.7L287 676L287.5 675.3L288 674.6L288.5 673.9L289 673.2L289.5 672.5L290 671.8L290.5 671.1L291 670.4L291.5 669.7L292 669L292.5 668.3L293 667.6L293.5 666.9L294 666.2L294.5 665.5L295 664.8L295.5 664.1L296 663.4L296.5 662.7L297 662L297.5 661.4L298 661.6L298.5 661.9L299 662.1L299.5 662.3L300 662.5L300.5 662.7L301 662.9L301.5 663.1L302 663.3L302.5 663.5L303 663.7L303.5 663.9L304 664.1L304.5 664.3L305 664.5L305.5 664.7L306 664.9L306.5 665.1L307 665.3L307.5 665.6L308 665.8L308.5 666L309 666.2L309.5 666.4L310 666.6L310.5 666.8L311 667L311.5 667.2L312 667.4L312.5 667.6L313 667.8L313.5 667.4L314 666.5L314.5 665.6L315 664.8L315.5 663.9L316 663L316.5 662.2L317 661.3L317.5 660.4L318 659.5L318.5 658.7L319 657.8L319.5 656.9L320 656.1L320.5 655.2L321 654.3L321.5 653.4L322 652.6L322.5 651.7L323 650.8L323.5 650L324 649.1L324.5 648.2L325 647.4L325.5 646.5L326 645.6L326.5 644.7L327 643.9L327.5 643.6L328 643.4L328.5 643.3L329 643.1L329.5 643L330 642.8L330.5 642.6L331 642.5L331.5 642.3L332 642.2L332.5 642L333 641.9L333.5 641.7L334 641.5L334.5 641.4L335 641.2L335.5 641.1L336 640.9L336.5 640.8L337 640.6L337.5 640.5L338 640.3L338.5 640.1L339 640L339.5 639.8L340 639.6L340.5 639.4L341 639.1L341.5 638.9L342 638.6L342.5 638.4L343 638.1L343.5 637.9L344 637.6L344.5 637.4L345 637.1L345.5 636.9L346 636.6L346.5 636.4L347 636.1L347.5 635.9L348 635.6L348.5 635.4L349 635.1L349.5 634.9L350 634.6L350.5 634.4L351 634.1L351.5 633.9L352 633.4L352.5 632.8L353 632.2L353.5 631.6L354 630.9L354.5 630.3L355 629.7L355.5 629.1L356 628.5L356.5 627.8L357 627.2L357.5 626.6L358 626L358.5 625.3L359 624.7L359.5 624.1L360 623.5L360.5 622.9L361 622.2L361.5 621.6L362 621L362.5 620.4L363 619.7L363.5 619.1L364 619.1L364.5 619.2L365 619.4L365.5 619.5L366 619.6L366.5 619.8L367 619.9L367.5 620L368 620.2L368.5 620.3L369 620.5L369.5 620.6L370 620.7L370.5 620.9L371 621L371.5 621.1L372 621.3L372.5 621.4L373 621.5L373.5 621.7L374 621.8L374.5 621.7L375 620.9L375.5 620L376 619.2L376.5 618.4L377 617.5L377.5 616.7L378 615.8L378.5 615L379 614.1L379.5 613.3L380 612.5L380.5 611.6L381 610.8L381.5 609.9L382 609.1L382.5 608.2L383 607.4L383.5 606.5L384 605.7L384.5 605.2L385 605.3L385.5 605.3L386 605.4L386.5 605.4L387 605.5L387.5 605.5L388 605.6L388.5 605.6L389 605.7L389.5 605.7L390 605.8L390.5 605.8L391 605.9L391.5 605.9L392 606L392.5 606L393 606.1L393.5 605.7L394 605.2L394.5 604.6L395 604L395.5 603.4L396 602.8L396.5 602.2L397 601.7L397.5 601.1L398 600.5L398.5 599.9L399 599.3L399.5 598.7L400 598.1L400.5 597.6L401 597L401.5 596.4L402 595.8L402.5 595.2L403 594.6L403.5 594.1L404 593.5L404.5 592.9L405 592.3L405.5 592.1L406 591.8L406.5 591.6L407 591.3L407.5 591.1L408 590.8L408.5 590.6L409 590.3L409.5 590.1L410 589.8L410.5 589.6L411 589.3L411.5 589.1L412 588.8L412.5 588.6L413 588.4L413.5 588.1L414 587.9L414.5 587.7L415 587.5L415.5 587.3L416 587.1L416.5 586.9L417 586.6L417.5 586.4L418 586.2L418.5 586L419 585.8L419.5 585.6L420 585.3L420.5 584.6L421 584L421.5 583.4L422 582.8L422.5 582.1L423 581.5L423.5 580.9L424 580.3L424.5 579.6L425 579L425.5 578.4L426 577.8L426.5 577.1L427 576.5L427.5 575.9L428 575.5L428.5 575.6L429 575.7L429.5 575.7L430 575.8L430.5 575.9L431 576L431.5 576L432 576.1L432.5 576.2L433 576.3L433.5 576.3L434 576.4L434.5 576.5L435 576.1L435.5 575.4L436 574.7L436.5 574L437 573.4L437.5 572.7L438 572L438.5 571.3L439 570.6L439.5 569.9L440 569.3L440.5 568.6L441 567.9L441.5 567.2L442 566.5L442.5 565.8L443 565.6L443.5 565.4L444 565.3L444.5 565.1L445 565L445.5 564.9L446 564.7L446.5 564.6L447 564.4L447.5 564.3L448 564.1L448.5 564L449 563.8L449.5 563.7L450 563L450.5 562.3L451 561.5L451.5 560.8L452 560.1L452.5 559.4L453 558.7L453.5 558L454 557.4L454.5 556.9L455 556.3L455.5 556.3L456 556.2L456.5 556L457 555.8L457.5 555.5L458 555.2L458.5 554.9L459 554.5L459.5 554.1L460 553.6L460.5 553.3L461 552.9L461.5 552.5L462 552.2L462.5 551.8L463 551.4L463.5 551.1L464 550.7L464.5 550.4L465 550L465.5 549.6L466 549.3L466.5 548.9L467 548.5L467.5 548.2L468 547.8L468.5 547.4L469 547.1L469.5 546.7L470 546.4L470.5 546L471 545.6L471.5 545.3L472 544.9L472.5 544.5L473 544.2L473.5 543.8L474 543.4L474.5 543.1L475 542.7L475.5 542.3L476 542L476.5 541.6L477 541.2L477.5 540.9L478 540.5L478.5 540.1L479 539.8L479.5 539.4L480 539.1L480.5 538.7L481 538.3L481.5 538L482 537.6L482.5 537.2L483 536.9L483.5 536.5L484 536.1L484.5 535.8L485 535.4L485.5 535L486 534.7L486.5 534.3L487 533.9L487.5 533.5L488 533.2L488.5 532.8L489 532.4L489.5 532.1L490 531.7L490.5 531.3L491 531L491.5 530.6L492 530.2L492.5 529.9L493 529.5L493.5 529.1L494 528.8L494.5 528.4L495 528L495.5 527.7L496 527.3L496.5 526.9L497 526.6L497.5 526.2L498 525.8L498.5 525.4L499 525.1L499.5 524.7L500 524.3L500.5 524L501 523.6L501.5 523.2L502 522.9L502.5 522.5L503 522.1L503.5 521.7L504 521.4L504.5 521L505 520.6L505.5 520.3L506 519.9L506.5 519.5L507 519.2L507.5 518.8L508 518.4L508.5 518L509 517.7L509.5 517.3L510 516.9L510.5 516.6L511 516.2L511.5 515.8L512 515.4L512.5 515.1L513 514.7L513.5 514.3L514 514L514.5 513.6L515 513.2L515.5 512.8L516 512.5L516.5 512.1L517 511.7L517.5 511.4L518 511L518.5 510.6L519 510.2L519.5 509.9L520 509.5L520.5 509.1L521 508.7L521.5 508.4L522 508L522.5 507.6L523 507.3L523.5 506.9L524 506.5L524.5 506.1L525 505.8L525.5 505.4L526 505L526.5 504.6L527 504.3L527.5 503.9L528 503.5L528.5 503.2L529 502.8L529.5 502.4L530 502L530.5 501.7L531 501.3L531.5 500.9L532 500.5L532.5 500.2L533 499.8L533.5 499.4L534 499L534.5 498.7L535 498.3L535.5 497.9L536 497.6L536.5 497.2L537 496.8L537.5 496.4L538 496.1L538.5 495.7L539 495.3L539.5 494.9L540 494.6L540.5 494.2L541 493.8L541.5 493.4L542 493.1L542.5 492.7L543 492.3L543.5 491.9L544 491.6L544.5 491.2L545 490.8L545.5 490.4L546 490.1L546.5 489.7L547 489.3L547.5 488.9L548 488.6L548.5 488.2L549 487.8L549.5 487.4L550 487.1L550.5 486.7L551 486.3L551.5 485.9L552 485.6L552.5 485.2L553 484.8L553.5 484.4L554 484.1L554.5 483.7L555 483.3L555.5 482.9L556 482.6L556.5 482.2L557 481.8L557.5 481.4L558 481.1L558.5 480.7L559 480.3L559.5 479.9L560 479.6L560.5 479.2L561 478.8L561.5 478.4L562 478.1L562.5 477.7L563 477.3L563.5 476.9L564 476.5L564.5 476.2L565 475.8L565.5 475.4L566 475L566.5 474.7L567 474.3L567.5 473.9L568 473.5L568.5 473.2L569 472.8L569.5 472.4L570 472L570.5 471.7L571 471.3L571.5 470.9L572 470.5L572.5 470.2L573 469.8L573.5 469.4L574 469L574.5 468.7L575 468.3L575.5 467.9L576 467.5L576.5 467.1L577 466.8L577.5 466.4L578 466L578.5 465.6L579 465.3L579.5 464.9L580 464.5L580.5 464.1L581 463.8L581.5 463.4L582 463L582.5 462.6L583 462.3L583.5 461.9L584 461.5L584.5 461.1L585 460.8L585.5 460.4L586 460L586.5 459.6L587 459.3L587.5 458.9L588 458.5L588.5 458.1L589 457.7L589.5 457.4L590 457L590.5 456.6L591 456.2L591.5 455.9L592 455.5L592.5 455.1L593 454.7L593.5 454.4L594 454L594.5 453.6L595 453.2L595.5 452.9L596 452.5L596.5 452.1L597 451.7L597.5 451.4L598 451L598.5 450.6L599 450.2L599.5 449.8L600 449.5L600.5 449.1L601 448.7L601.5 448.3L602 448L602.5 447.6L603 447.2L603.5 446.8L604 446.5L604.5 446.1L605 445.7L605.5 445.3L606 445L606.5 444.6L607 444.2L607.5 443.8L608 443.5L608.5 443.1L609 442.7L609.5 442.3L610 442L610.5 441.6L611 441.2L611.5 440.8L612 440.5L612.5 440.1L613 439.7L613.5 439.3L614 439L614.5 438.6L615 438.2L615.5 437.8L616 437.5L616.5 437.1L617 436.7L617.5 436.3L618 436L618.5 435.6L619 435.2L619.5 434.8L620 434.5L620.5 434.1L621 433.7L621.5 433.3L622 433L622.5 432.6L623 432.2L623.5 431.8L624 431.5L624.5 431.1L625 430.7L625.5 430.3L626 430L626.5 429.6L627 429.2L627.5 428.8L628 428.5L628.5 428.1L629 427.7L629.5 427.3L630 427L630.5 426.6L631 426.2L631.5 425.8L632 425.5L632.5 425.1L633 424.7L633.5 424.3L634 424L634.5 423.6L635 423.2L635.5 422.8L636 422.5L636.5 422.1L637 421.7L637.5 421.4L638 421L638.5 420.6L639 420.2L639.5 419.9L640 419.5L640.5 419.1L641 418.7L641.5 418.4L642 418L642.5 417.6L643 417.2L643.5 416.9L644 416.5L644.5 416.1L645 415.8L645.5 415.4L646 415L646.5 414.6L647 414.3L647.5 413.9L648 413.5L648.5 413.1L649 412.8L649.5 412.4L650 412L650.5 411.7L651 411.3L651.5 410.9L652 410.5L652.5 410.2L653 409.8L653.5 409.4L654 409.1L654.5 408.7L655 408.3L655.5 407.9L656 407.6L656.5 407.2L657 406.8L657.5 406.5L658 406.1L658.5 405.7L659 405.3L659.5 405L660 404.6L660.5 404.2L661 403.9L661.5 403.5L662 403.1L662.5 402.7L663 402.4L663.5 402L664 401.6L664.5 401.3L665 400.9L665.5 400.5L666 400.2L666.5 399.8L667 399.4L667.5 399L668 398.7L668.5 398.3L669 397.9L669.5 397.6L670 397.2L670.5 396.8L671 396.5L671.5 396.1L672 395.7L672.5 395.4L673 395L673.5 394.6L674 394.2L674.5 393.9L675 393.5L675.5 393.1L676 392.8L676.5 392.4L677 392L677.5 391.7L678 391.3L678.5 390.9L679 390.6L679.5 390.2L680 389.8L680.5 389.5L681 389.1L681.5 388.7L682 388.4L682.5 388L683 387.6L683.5 387.3L684 386.9L684.5 386.5L685 386.2L685.5 385.8L686 385.4L686.5 385.1L687 384.7L687.5 384.3L688 384L688.5 383.6L689 383.2L689.5 382.9L690 382.5L690.5 382.1L691 381.8L691.5 381.4L692 381L692.5 380.7L693 380.3L693.5 379.9L694 379.6L694.5 379.2L695 378.8L695.5 378.5L696 378.1L696.5 377.8L697 377.4L697.5 377L698 376.7L698.5 376.3L699 375.9L699.5 375.6L700 375.2L700.5 374.8L701 374.5L701.5 374.1L702 373.7L702.5 373.4L703 373L703.5 372.7L704 372.3L704.5 371.9L705 371.6L705.5 371.2L706 370.8L706.5 370.5L707 370.1L707.5 369.8L708 369.4L708.5 369L709 368.7L709.5 368.3L710 368L710.5 367.6L711 367.2L711.5 366.9L712 366.5L712.5 366.1L713 365.8L713.5 365.4L714 365.1L714.5 364.7L715 364.3L715.5 364L716 363.6L716.5 363.3L717 362.9L717.5 362.5L718 362.2L718.5 361.8L719 361.5L719.5 361.1L720 360.7L720.5 360.4L721 360L721.5 359.7L722 359.3L722.5 359L723 358.6L723.5 358.2L724 357.9L724.5 357.5L725 357.2L725.5 356.8L726 356.4L726.5 356.1L727 355.7L727.5 355.4L728 355L728.5 354.7L729 354.3L729.5 353.9L730 353.6L730.5 353.2L731 352.9L731.5 352.5L732 352.2L732.5 351.8L733 351.5L733.5 351.1L734 350.7L734.5 350.4L735 350L735.5 349.7L736 349.3L736.5 349L737 348.6L737.5 348.3L738 347.9L738.5 347.6L739 347.2L739.5 346.8L740 346.5L740.5 346.1L741 345.8L741.5 345.4L742 345.1L742.5 344.7L743 344.4L743.5 344L744 343.7L744.5 343.3L745 343L745.5 342.6L746 342.3L746.5 341.9L747 341.6L747.5 341.2L748 340.9L748.5 340.5L749 340.2L749.5 339.8L750 339.5L750.5 339.1L751 338.7L751.5 338.4L752 338L752.5 337.7L753 337.3L753.5 337L754 336.7L754.5 336.3L755 336L755.5 335.6L756 335.3L756.5 334.9L757 334.6L757.5 334.2L758 333.9L758.5 333.5L759 333.2L759.5 332.8L760 332.5L760.5 332.1L761 331.8L761.5 331.4L762 331.1L762.5 330.7L763 330.4L763.5 330L764 329.7L764.5 329.4L765 329L765.5 328.7L766 328.3L766.5 328L767 327.6L767.5 327.3L768 326.9L768.5 326.6L769 326.2L769.5 325.9L770 325.6L770.5 325.2L771 324.9L771.5 324.5L772 324.2L772.5 323.8L773 323.5L773.5 323.2L774 322.8L774.5 322.5L775 322.1L775.5 321.8L776 321.4L776.5 321.1L777 320.8L777.5 320.4L778 320.1L778.5 319.7L779 319.4L779.5 319.1L780 318.7L780.5 318.4L781 318L781.5 317.7L782 317.3L782.5 317L783 316.7L783.5 316.3L784 316L784.5 315.7L785 315.3L785.5 315L786 314.6L786.5 314.3L787 314L787.5 313.6L788 313.3L788.5 312.9L789 312.6L789.5 312.3L790 311.9L790.5 311.6L791 311.3L791.5 310.9L792 310.6L792.5 310.3L793 309.9L793.5 309.6L794 309.2L794.5 308.9L795 308.6L795.5 308.2L796 307.9L796.5 307.6L797 307.2L797.5 306.9L798 306.6L798.5 306.2L799 305.9L799.5 305.6L800 305.2L800.5 304.9L801 304.6L801.5 304.2L802 303.9L802.5 303.6L803 303.2L803.5 302.9L804 302.6L804.5 302.3L805 301.9L805.5 301.6L806 301.3L806.5 300.9L807 300.6L807.5 300.3L808 299.9L808.5 299.6L809 299.3L809.5 299L810 298.6L810.5 298.3L811 298L811.5 297.6L812 297.3L812.5 297L813 296.7L813.5 296.3L814 296L814.5 295.7L815 295.3L815.5 295L816 294.7L816.5 294.4L817 294L817.5 293.7L818 293.4L818.5 293.1L819 292.7L819.5 292.4L820 292.1L820.5 291.8L821 291.4L821.5 291.1L822 290.8L822.5 290.5L823 290.2L823.5 289.8L824 289.5L824.5 289.2L825 288.9L825.5 288.5L826 288.2L826.5 287.9L827 287.6L827.5 287.3L828 286.9L828.5 286.6L829 286.3L829.5 286L830 285.6L830.5 285.3L831 285L831.5 284.7L832 284.4L832.5 284.1L833 283.7L833.5 283.4L834 283.1L834.5 282.8L835 282.5L835.5 282.1L836 281.8L836.5 281.5L837 281.2L837.5 280.9L838 280.6L838.5 280.2L839 279.9L839.5 279.6L840 279.3L840.5 279L841 278.7L841.5 278.4L842 278L842.5 277.7L843 277.4L843.5 277.1L844 276.8L844.5 276.5L845 276.2L845.5 275.8L846 275.5L846.5 275.2L847 274.9L847.5 274.6L848 274.3L848.5 274L849 273.7L849.5 273.4L850 273L850.5 272.7L851 272.4L851.5 272.1L852 271.8L852.5 271.5L853 271.2L853.5 270.9L854 270.6L854.5 270.3L855 269.9L855.5 269.6L856 269.3L856.5 269L857 268.7L857.5 268.4L858 268.1L858.5 267.8L859 267.5L859.5 267.2L860 266.9L860.5 266.6L861 266.3L861.5 266L862 265.7L862.5 265.4L863 265.1L863.5 264.8L864 264.5L864.5 264.1L865 263.8L865.5 263.5L866 263.2L866.5 262.9L867 262.6L867.5 262.3L868 262L868.5 261.7L869 261.4L869.5 261.1L870 260.8L870.5 260.5L871 260.2L871.5 259.9L872 259.6L872.5 259.3L873 259.1L873.5 258.8L874 258.5L874.5 258.2L875 257.9L875.5 257.6L876 257.3L876.5 257L877 256.7L877.5 256.4L878 256.1L878.5 255.8L879 255.5L879.5 255.2L880 254.9L880.5 254.6L881 254.3L881.5 254L882 253.8L882.5 253.5L883 253.2L883.5 252.9L884 252.6L884.5 252.3L885 252L885.5 251.7L886 251.4L886.5 251.2L887 250.9L887.5 250.6L888 250.3L888.5 250L889 249.7L889.5 249.4L890 249.1L890.5 248.9L891 248.6L891.5 248.3L892 248L892.5 247.7L893 247.4L893.5 247.2L894 246.9L894.5 246.6L895 246.3L895.5 246L896 245.8L896.5 245.5L897 245.2L897.5 244.9L898 244.6L898.5 244.4L899 244.1L899.5 243.8L900 243.5L900.5 243.2L901 243L901.5 242.7L902 242.4L902.5 242.1L903 241.9L903.5 241.6L904 241.3L904.5 241.1L905 240.8L905.5 240.5L906 240.2L906.5 240L907 239.7L907.5 239.4L908 239.1L908.5 238.9L909 238.6L909.5 238.3L910 238.1L910.5 237.8L911 237.5L911.5 237.3L912 237L912.5 236.7L913 236.5L913.5 236.2L914 235.9L914.5 235.7L915 235.4L915.5 235.2L916 234.9L916.5 234.6L917 234.4L917.5 234.1L918 233.8L918.5 233.6L919 233.3L919.5 233.1L920 232.8L920.5 232.5L921 232.3L921.5 232L922 231.8L922.5 231.5L923 231.3L923.5 231L924 230.7L924.5 230.5L925 230.2L925.5 230L926 229.7L926.5 229.5L927 229.2L927.5 229L928 228.7L928.5 228.5L929 228.2L929.5 228L930 227.7L930.5 227.5L931 227.2L931.5 227L932 226.7L932.5 226.5L933 226.2L933.5 226L934 225.8L934.5 225.5L935 225.3L935.5 225L936 224.8L936.5 224.5L937 224.3L937.5 224.1L938 223.8L938.5 223.6L939 223.3L939.5 223.1L940 222.9L940.5 222.6L941 222.4L941.5 222.2L942 221.9L942.5 221.7L943 221.4L943.5 221.2L944 221L944.5 220.7L945 220.5L945.5 220.3L946 220.1L946.5 219.8L947 219.6L947.5 219.4L948 219.1L948.5 218.9L949 218.7L949.5 218.5L950 218.2L950.5 218L951 217.8L951.5 217.6L952 217.3L952.5 217.1L953 216.9L953.5 216.7L954 216.4L954.5 216.2L955 216L955.5 215.8L956 215.6L956.5 215.3L957 215.1L957.5 214.9L958 214.7L958.5 214.5L959 214.3L959.5 214L960 213.8L960.5 213.6L961 213.4L961.5 213.2L962 213L962.5 212.8L963 212.6L963.5 212.3L964 212.1L964.5 211.9L965 211.7L965.5 211.5L966 211.3L966.5 211.1L967 210.9L967.5 210.7L968 210.5L968.5 210.3L969 210.1L969.5 209.9L970 209.7L970.5 209.5L971 209.3L971.5 209.1L972 208.9L972.5 208.7L973 208.5L973.5 208.3L974 208.1L974.5 207.9L975 207.7L975.5 207.5L976 207.3L976.5 207.1L977 206.9L977.5 206.7L978 206.5L978.5 206.4L979 206.2L979.5 206L980 205.8L980.5 205.6L981 205.4L981.5 205.2L982 205L982.5 204.9L983 204.7L983.5 204.5L984 204.3L984.5 204.1L985 204L985.5 203.8L986 203.6L986.5 203.4L987 203.2L987.5 203.1L988 202.9L988.5 202.7L989 202.5L989.5 202.4L990 202.2L990.5 202L991 201.8L991.5 201.7L992 201.5L992.5 201.3L993 201.2L993.5 201L994 200.8L994.5 200.7L995 200.5L995.5 200.3L996 200.2L996.5 200L997 199.8L997.5 199.7L998 199.5L998.5 199.4L999 199.2L999.5 199L1000 198.9L1000.5 198.7L1001 198.6L1001.5 198.4L1002 198.2L1002.5 198.1L1003 197.9L1003.5 197.8L1004 197.6L1004.5 197.5L1005 197.3L1005.5 197.2L1006 197L1006.5 196.9L1007 196.7L1007.5 196.6L1008 196.4L1008.5 196.3L1009 196.2L1009.5 196L1010 195.9L1010.5 195.7L1011 195.6L1011.5 195.4L1012 195.3L1012.5 195.2L1013 195L1013.5 194.9L1014 194.8L1014.5 194.6L1015 194.5L1015.5 194.4L1016 194.2L1016.5 194.1L1017 194L1017.5 193.8L1018 193.7L1018.5 193.6L1019 193.4L1019.5 193.3L1020 193.2L1020.5 193.1L1021 192.9L1021.5 192.8L1022 192.7L1022.5 192.6L1023 192.4L1023.5 192.3L1024 192.2L1024.5 192.1L1025 192L1025.5 191.9L1026 191.7L1026.5 191.6L1027 191.5L1027.5 191.4L1028 191.3L1028.5 191.2L1029 191.1L1029.5 190.9L1030 190.8L1030.5 190.7L1031 190.6L1031.5 190.5L1032 190.4L1032.5 190.3L1033 190.2L1033.5 190.1L1034 190L1034.5 189.9L1035 189.8L1035.5 189.7L1036 189.6L1036.5 189.5L1037 189.4L1037.5 189.3L1038 189.2L1038.5 189.1L1039 189L1039.5 188.9L1040 188.8L1040.5 188.8L1041 188.7L1041.5 188.6L1042 188.5L1042.5 188.4L1043 188.3L1043.5 188.2L1044 188.1L1044.5 188.1L1045 188L1045.5 187.9L1046 187.8L1046.5 187.7L1047 187.7L1047.5 187.6L1048 187.5L1048.5 187.4L1049 187.4L1049.5 187.3L1050 187.2L1050.5 187.1L1051 187.1L1051.5 187L1052 186.9L1052.5 186.9L1053 186.8L1053.5 186.7L1054 186.7L1054.5 186.6L1055 186.5L1055.5 186.5L1056 186.4L1056.5 186.3L1057 186.3L1057.5 186.2L1058 186.2L1058.5 186.1L1059 186.1L1059.5 186L1060 185.9L1060.5 185.9L1061 185.8L1061.5 185.8L1062 185.7L1062.5 185.7L1063 185.6L1063.5 185.6L1064 185.5L1064.5 185.5L1065 185.5L1065.5 185.4L1066 185.4L1066.5 185.3L1067 185.3L1067.5 185.3L1068 185.2L1068.5 185.2L1069 185.1L1069.5 185.1L1070 185.1L1070.5 185L1071 185L1071.5 185L1072 185L1072.5 184.9L1073 184.9L1073.5 184.9L1074 184.8L1074.5 184.8L1075 184.8L1075.5 184.8L1076 184.7L1076.5 184.7L1077 184.7L1077.5 184.7L1078 184.7L1078.5 184.7L1079 184.6L1079.5 184.6L1080 184.6L1080.5 184.6L1081 184.6L1081.5 184.6L1082 184.6L1082.5 184.6L1083 184.6L1083.5 184.5L1084 184.5L1084.5 184.5L1085 184.5L1085.5 184.5L1086 184.5L1086.5 184.5L1087 184.5L1087.5 184.5L1088 184.5L1088.5 184.5L1089 184.5L1089.5 184.6L1090 184.6L1090.5 184.6L1091 184.6L1091.5 184.6L1092 184.6L1092.5 184.6L1093 184.6L1093.5 184.6L1094 184.7L1094.5 184.7L1095 184.7L1095.5 184.7L1096 184.7L1096.5 184.7L1097 184.8L1097.5 184.8L1098 184.8L1098.5 184.8L1099 184.9L1099.5 184.9L1100 184.9L1100.5 185L1101 185L1101.5 185L1102 185L1102.5 185.1L1103 185.1L1103.5 185.1L1104 185.2L1104.5 185.2L1105 185.3L1105.5 185.3L1106 185.3L1106.5 185.4L1107 185.4L1107.5 185.5L1108 185.5L1108.5 185.6L1109 185.6L1109.5 185.6L1110 185.7L1110.5 185.7L1111 185.8L1111.5 185.8L1112 185.9L1112.5 186L1113 186L1113.5 186.1L1114 186.1L1114.5 186.2L1115 186.2L1115.5 186.3L1116 186.4L1116.5 186.4L1117 186.5L1117.5 186.5L1118 186.6L1118.5 186.7L1119 186.7L1119.5 186.8L1120 186.9L1120.5 186.9L1121 187L1121.5 187.1L1122 187.2L1122.5 187.2L1123 187.3L1123.5 187.4L1124 187.5L1124.5 187.5L1125 187.6L1125.5 187.7L1126 187.8L1126.5 187.9L1127 187.9L1127.5 188L1128 188.1L1128.5 188.2L1129 188.3L1129.5 188.4L1130 188.5L1130.5 188.6L1131 188.6L1131.5 188.7L1132 188.8L1132.5 188.9L1133 189L1133.5 189.1L1134 189.2L1134.5 189.3L1135 189.4L1135.5 189.5L1136 189.6L1136.5 189.7L1137 189.8L1137.5 189.9L1138 190L1138.5 190.1L1139 190.2L1139.5 190.4L1140 190.5L1140.5 190.6L1141 190.7L1141.5 190.8L1142 190.9L1142.5 191L1143 191.1L1143.5 191.3L1144 191.4L1144.5 191.5L1145 191.6L1145.5 191.7L1146 191.9L1146.5 192L1147 192.1L1147.5 192.2L1148 192.4L1148.5 192.5L1149 192.6L1149.5 192.7L1150 192.9L1150.5 193L1151 193.1L1151.5 193.3L1152 193.4L1152.5 193.5L1153 193.7L1153.5 193.8L1154 193.9L1154.5 194.1L1155 194.2L1155.5 194.4L1156 194.5L1156.5 194.6L1157 194.8L1157.5 194.9L1158 195.1L1158.5 195.2L1159 195.4L1159.5 195.5L1160 195.7L1160.5 195.8L1161 196L1161.5 196.1L1162 196.3L1162.5 196.4L1163 196.6L1163.5 196.7L1164 196.9L1164.5 197.1L1165 197.2L1165.5 197.4L1166 197.5L1166.5 197.7L1167 197.9L1167.5 198L1168 198.2L1168.5 198.4L1169 198.5L1169.5 198.7L1170 198.9L1170.5 199L1171 199.2L1171.5 199.4L1172 199.6L1172.5 199.7L1173 199.9L1173.5 200.1L1174 200.3L1174.5 200.5L1175 200.6L1175.5 200.8L1176 201L1176.5 201.2L1177 201.4L1177.5 201.5L1178 201.7L1178.5 201.9L1179 202.1L1179.5 202.3L1180 202.5L1180.5 202.7L1181 202.9L1181.5 203.1L1182 203.3L1182.5 203.5L1183 203.6L1183.5 203.8L1184 204L1184.5 204.2L1185 204.4L1185.5 204.6L1186 204.8L1186.5 205L1187 205.2L1187.5 205.5L1188 205.7L1188.5 205.9L1189 206.1L1189.5 206.3L1190 206.5L1190.5 206.7L1191 206.9L1191.5 207.1L1192 207.3L1192.5 207.6L1193 207.8L1193.5 208L1194 208.2L1194.5 208.4L1195 208.6L1195.5 208.9L1196 209.1L1196.5 209.3L1197 209.5L1197.5 209.8L1198 210L1198.5 210.2L1199 210.4L1199.5 210.7L1200 210.9L1200.5 211.1L1201 211.4L1201.5 211.6L1202 211.8L1202.5 212.1L1203 212.3L1203.5 212.5L1204 212.8L1204.5 213L1205 213.2L1205.5 213.5L1206 213.7L1206.5 214L1207 214.2L1207.5 214.5L1208 214.7L1208.5 215L1209 215.2L1209.5 215.4L1210 215.7L1210.5 215.9L1211 216.2L1211.5 216.5L1212 216.7L1212.5 217L1213 217.2L1213.5 217.5L1214 217.7L1214.5 218L1215 218.2L1215.5 218.5L1216 218.8L1216.5 219L1217 219.3L1217.5 219.6L1218 219.8L1218.5 220.1L1219 220.4L1219.5 220.6L1220 220.9L1220.5 221.2L1221 221.4L1221.5 221.7L1222 222L1222.5 222.3L1223 222.5L1223.5 222.8L1224 223.1L1224.5 223.4L1225 223.6L1225.5 223.9L1226 224.2L1226.5 224.5L1227 224.8L1227.5 225L1228 225.3L1228.5 225.6L1229 225.9L1229.5 226.2L1230 226.5L1230.5 226.8L1231 227.1L1231.5 227.4L1232 227.6L1232.5 227.9L1233 228.2L1233.5 228.5L1234 228.8L1234.5 229.1L1235 229.4L1235.5 229.7L1236 230L1236.5 230.3L1237 230.6L1237.5 230.9L1238 231.2L1238.5 231.5L1239 231.8L1239.5 232.1L1240 232.5L1240.5 232.8L1241 233.1L1241.5 233.4L1242 233.7L1242.5 234L1243 234.3L1243.5 234.6L1244 235L1244.5 235.3L1245 235.6L1245.5 235.9L1246 236.2L1246.5 236.6L1247 236.9L1247.5 237.2L1248 237.5" stroke="#00ff00"/>
<path d="M260 712.8L260.5 712.8L261 712.8L261.5 712.8L262 712.8L262.5 712.6L263 712.5L263.5 712.4L264 712.2L264.5 712.1L265 711.9L265.5 711.8L266 711.6L266.5 711.5L267 711.4L267.5 711.2L268 711.1L268.5 710.9L269 710.8L269.5 710.7L270 710.5L270.5 710.4L271 710.2L271.5 710.1L272 710L272.5 709.8L273 709.7L273.5 709.5L274 709.4L274.5 709.3L275 709.1L275.5 709L276 708.8L276.5 708.7L277 708.6L277.5 708.4L278 708.3L278.5 708.1L279 708L279.5 707.9L280 707.3L280.5 706.5L281 705.7L281.5 704.9L282 704.1L282.5 703.3L283 702.5L283.5 701.7L284 700.9L284.5 700L285 699.2L285.5 698.4L286 697.6L286.5 696.8L287 696L287.5 695.2L288 694.4L288.5 693.6L289 692.8L289.5 692L290 691.2L290.5 690.3L291 689.5L291.5 688.7L292 687.9L292.5 687.1L293 686.3L293.5 685.5L294 684.7L294.5 683.9L295 683.1L295.5 682.3L296 681.5L296.5 680.7L297 679.8L297.5 679.2L298 679.5L298.5 679.8L299 680L299.5 680.2L300 680.5L300.5 680.8L301 681L301.5 681.2L302 681.5L302.5 681.8L303 682L303.5 682.2L304 682.5L304.5 682.8L305 683L305.5 683.2L306 683.5L306.5 683.8L307 684L307.5 684.2L308 684.5L308.5 684.8L309 685L309.5 685.2L310 685.5L310.5 685.8L311 686L311.5 686.2L312 686.5L312.5 686.8L313 687L313.5 686.6L314 685.8L314.5 684.9L315 684.1L315.5 683.3L316 682.4L316.5 681.6L317 680.8L317.5 679.9L318 679.1L318.5 678.3L319 677.4L319.5 676.6L320 675.8L320.5 674.9L321 674.1L321.5 673.2L322 672.4L322.5 671.6L323 670.7L323.5 669.9L324 669.1L324.5 668.2L325 667.4L325.5 666.6L326 665.7L326.5 664.9L327 664.1L327.5 663.2L328 662.4L328.5 662.3L329 662.1L329.5 662L330 661.9L330.5 661.8L331 661.6L331.5 661.5L332 661.4L332.5 661.3L333 661.1L333.5 661L334 660.9L334.5 660.8L335 660.6L335.5 660.5L336 660.4L336.5 660.3L337 660.1L337.5 660L338 659.9L338.5 659.8L339 659.6L339.5 659.5L340 659.4L340.5 659.1L341 658.9L341.5 658.6L342 658.4L342.5 658.1L343 657.9L343.5 657.6L344 657.4L344.5 657.1L345 656.9L345.5 656.6L346 656.4L346.5 656.1L347 655.9L347.5 655.6L348 655.4L348.5 655.1L349 654.9L349.5 654.6L350 654.4L350.5 654.1L351 653.9L351.5 653.6L352 653.1L352.5 652.4L353 651.7L353.5 651L354 650.3L354.5 649.5L355 648.8L355.5 648.1L356 647.4L356.5 646.7L357 646L357.5 645.3L358 644.6L358.5 643.9L359 643.2L359.5 642.5L360 641.8L360.5 641.1L361 640.4L361.5 639.7L362 639L362.5 638.3L363 637.5L363.5 636.8L364 636.9L364.5 637.1L365 637.3L365.5 637.6L366 637.8L366.5 638L367 638.3L367.5 638.5L368 638.7L368.5 639L369 639.2L369.5 639.4L370 639.7L370.5 639.9L371 640.1L371.5 640.4L372 640.6L372.5 640.8L373 641.1L373.5 641.3L374 641.5L374.5 641.5L375 640.6L375.5 639.6L376 638.7L376.5 637.7L377 636.8L377.5 635.8L378 634.9L378.5 633.9L379 633L379.5 632L380 631.1L380.5 630.1L381 629.2L381.5 628.2L382 627.3L382.5 626.3L383 625.4L383.5 624.4L384 623.5L384.5 622.9L385 623L385.5 623L386 623.1L386.5 623.1L387 623.2L387.5 623.3L388 623.3L388.5 623.4L389 623.4L389.5 623.5L390 623.5L390.5 623.6L391 623.7L391.5 623.7L392 623.8L392.5 623.8L393 623.9L393.5 623.6L394 623.1L394.5 622.6L395 622.1L395.5 621.6L396 621.1L396.5 620.6L397 620.1L397.5 619.6L398 619.1L398.5 618.6L399 618.1L399.5 617.6L400 617.1L400.5 616.6L401 616.1L401.5 615.6L402 615.1L402.5 614.6L403 614.1L403.5 613.6L404 613.1L404.5 612.6L405 612.1L405.5 611.8L406 611.5L406.5 611.2L407 610.8L407.5 610.5L408 610.2L408.5 609.9L409 609.6L409.5 609.3L410 608.9L410.5 608.6L411 608.3L411.5 608L412 607.7L412.5 607.4L413 607.1L413.5 606.9L414 606.8L414.5 606.7L415 606.5L415.5 606.4L416 606.3L416.5 606.1L417 606L417.5 605.9L418 605.7L418.5 605.6L419 605.4L419.5 605.3L420 605L420.5 604.3L421 603.5L421.5 602.8L422 602L422.5 601.3L423 600.5L423.5 599.8L424 599L424.5 598.3L425 597.5L425.5 596.8L426 596L426.5 595.3L427 594.5L427.5 593.8L428 593.4L428.5 593.5L429 593.6L429.5 593.8L430 593.9L430.5 594.1L431 594.2L431.5 594.4L432 594.5L432.5 594.7L433 594.8L433.5 595L434 595.1L434.5 595.2L435 594.8L435.5 593.9L436 593.1L436.5 592.2L437 591.3L437.5 590.5L438 589.6L438.5 588.7L439 587.9L439.5 587L440 586.2L440.5 585.3L441 584.4L441.5 583.6L442 583.3L442.5 583.2L443 583.2L443.5 583.1L444 583L444.5 582.9L445 582.8L445.5 582.7L446 582.7L446.5 582.6L447 582.5L447.5 582.4L448 581.8L448.5 581.2L449 580.6L449.5 580.1L450 579.5L450.5 578.9L451 578.3L451.5 577.7L452 577.1L452.5 576.6L453 576L453.5 575.5L454 575L454.5 574.6L455 574.2L455.5 574.1L456 574L456.5 573.8L457 573.6L457.5 573.4L458 573.1L458.5 572.8L459 572.4L459.5 572L460 571.5L460.5 571.1L461 570.8L461.5 570.4L462 570.1L462.5 569.7L463 569.3L463.5 569L464 568.6L464.5 568.3L465 567.9L465.5 567.5L466 567.2L466.5 566.8L467 566.5L467.5 566.1L468 565.7L468.5 565.4L469 565L469.5 564.6L470 564.3L470.5 563.9L471 563.6L471.5 563.2L472 562.8L472.5 562.5L473 562.1L473.5 561.8L474 561.4L474.5 561L475 560.7L475.5 560.3L476 559.9L476.5 559.6L477 559.2L477.5 558.8L478 558.5L478.5 558.1L479 557.8L479.5 557.4L480 557L480.5 556.7L481 556.3L481.5 555.9L482 555.6L482.5 555.2L483 554.8L483.5 554.5L484 554.1L484.5 553.8L485 553.4L485.5 553L486 552.7L486.5 552.3L487 551.9L487.5 551.6L488 551.2L488.5 550.8L489 550.5L489.5 550.1L490 549.7L490.5 549.4L491 549L491.5 548.6L492 548.3L492.5 547.9L493 547.5L493.5 547.2L494 546.8L494.5 546.4L495 546.1L495.5 545.7L496 545.3L496.5 545L497 544.6L497.5 544.2L498 543.9L498.5 543.5L499 543.1L499.5 542.8L500 542.4L500.5 542L501 541.7L501.5 541.3L502 540.9L502.5 540.6L503 540.2L503.5 539.8L504 539.5L504.5 539.1L505 538.7L505.5 538.4L506 538L506.5 537.6L507 537.3L507.5 536.9L508 536.5L508.5 536.1L509 535.8L509.5 535.4L510 535L510.5 534.7L511 534.3L511.5 533.9L512 533.6L512.5 533.2L513 532.8L513.5 532.5L514 532.1L514.5 531.7L515 531.4L515.5 531L516 530.6L516.5 530.2L517 529.9L517.5 529.5L518 529.1L518.5 528.8L519 528.4L519.5 528L520 527.7L520.5 527.3L521 526.9L521.5 526.5L522 526.2L522.5 525.8L523 525.4L523.5 525.1L524 524.7L524.5 524.3L525 524L525.5 523.6L526 523.2L526.5 522.8L527 522.5L527.5 522.1L528 521.7L528.5 521.4L529 521L529.5 520.6L530 520.3L530.5 519.9L531 519.5L531.5 519.1L532 518.8L532.5 518.4L533 518L533.5 517.7L534 517.3L534.5 516.9L535 516.5L535.5 516.2L536 515.8L536.5 515.4L537 515.1L537.5 514.7L538 514.3L538.5 514L539 513.6L539.5 513.2L540 512.8L540.5 512.5L541 512.1L541.5 511.7L542 511.4L542.5 511L543 510.6L543.5 510.2L544 509.9L544.5 509.5L545 509.1L545.5 508.8L546 508.4L546.5 508L547 507.6L547.5 507.3L548 506.9L548.5 506.5L549 506.2L549.5 505.8L550 505.4L550.5 505L551 504.7L551.5 504.3L552 503.9L552.5 503.6L553 503.2L553.5 502.8L554 502.4L554.5 502.1L555 501.7L555.5 501.3L556 501L556.5 500.6L557 500.2L557.5 499.8L558 499.5L558.5 499.1L559 498.7L559.5 498.4L560 498L560.5 497.6L561 497.2L561.5 496.9L562 496.5L562.5 496.1L563 495.8L563.5 495.4L564 495L564.5 494.7L565 494.3L565.5 493.9L566 493.5L566.5 493.2L567 492.8L567.5 492.4L568 492.1L568.5 491.7L569 491.3L569.5 490.9L570 490.6L570.5 490.2L571 489.8L571.5 489.5L572 489.1L572.5 488.7L573 488.3L573.5 488L574 487.6L574.5 487.2L575 486.9L575.5 486.5L576 486.1L576.5 485.8L577 485.4L577.5 485L578 484.6L578.5 484.3L579 483.9L579.5 483.5L580 483.2L580.5 482.8L581 482.4L581.5 482.1L582 481.7L582.5 481.3L583 480.9L583.5 480.6L584 480.2L584.5 479.8L585 479.5L585.5 479.1L586 478.7L586.5 478.4L587 478L587.5 477.6L588 477.2L588.5 476.9L589 476.5L589.5 476.1L590 475.8L590.5 475.4L591 475L591.5 474.7L592 474.3L592.5 473.9L593 473.6L593.5 473.2L594 472.8L594.5 472.4L595 472.1L595.5 471.7L596 471.3L596.5 471L597 470.6L597.5 470.2L598 469.9L598.5 469.5L599 469.1L599.5 468.8L600 468.4L600.5 468L601 467.7L601.5 467.3L602 466.9L602.5 466.6L603 466.2L603.5 465.8L604 465.5L604.5 465.1L605 464.7L605.5 464.4L606 464L606.5 463.6L607 463.3L607.5 462.9L608 462.5L608.5 462.2L609 461.8L609.5 461.4L610 461.1L610.5 460.7L611 460.3L611.5 460L612 459.6L612.5 459.2L613 458.9L613.5 458.5L614 458.1L614.5 457.8L615 457.4L615.5 457L616 456.7L616.5 456.3L617 455.9L617.5 455.6L618 455.2L618.5 454.8L619 454.5L619.5 454.1L620 453.7L620.5 453.4L621 453L621.5 452.6L622 452.3L622.5 451.9L623 451.6L623.5 451.2L624 450.8L624.5 450.5L625 450.1L625.5 449.7L626 449.4L626.5 449L627 448.6L627.5 448.3L628 447.9L628.5 447.6L629 447.2L629.5 446.8L630 446.5L630.5 446.1L631 445.7L631.5 445.4L632 445L632.5 444.7L633 444.3L633.5 443.9L634 443.6L634.5 443.2L635 442.8L635.5 442.5L636 442.1L636.5 441.8L637 441.4L637.5 441L638 440.7L638.5 440.3L639 440L639.5 439.6L640 439.2L640.5 438.9L641 438.5L641.5 438.2L642 437.8L642.5 437.4L643 437.1L643.5 436.7L644 436.4L644.5 436L645 435.6L645.5 435.3L646 434.9L646.5 434.6L647 434.2L647.5 433.8L648 433.5L648.5 433.1L649 432.8L649.5 432.4L650 432.1L650.5 431.7L651 431.3L651.5 431L652 430.6L652.5 430.3L653 429.9L653.5 429.6L654 429.2L654.5 428.8L655 428.5L655.5 428.1L656 427.8L656.5 427.4L657 427.1L657.5 426.7L658 426.4L658.5 426L659 425.6L659.5 425.3L660 424.9L660.5 424.6L661 424.2L661.5 423.9L662 423.5L662.5 423.2L663 422.8L663.5 422.5L664 422.1L664.5 421.7L665 421.4L665.5 421L666 420.7L666.5 420.3L667 420L667.5 419.6L668 419.3L668.5 418.9L669 418.6L669.5 418.2L670 417.9L670.5 417.5L671 417.1L671.5 416.8L672 416.4L672.5 416.1L673 415.7L673.5 415.4L674 415L674.5 414.7L675 414.3L675.5 414L676 413.6L676.5 413.3L677 412.9L677.5 412.6L678 412.2L678.5 411.9L679 411.5L679.5 411.2L680 410.8L680.5 410.5L681 410.1L681.5 409.8L682 409.4L682.5 409.1L683 408.7L683.5 408.4L684 408L684.5 407.7L685 407.3L685.5 407L686 406.6L686.5 406.3L687 405.9L687.5 405.6L688 405.2L688.5 404.9L689 404.5L689.5 404.2L690 403.8L690.5 403.5L691 403.1L691.5 402.8L692 402.4L692.5 402.1L693 401.7L693.5 401.4L694 401L694.5 400.7L695 400.3L695.5 400L696 399.6L696.5 399.3L697 398.9L697.5 398.6L698 398.2L698.5 397.9L699 397.5L699.5 397.2L700 396.8L700.5 396.5L701 396.1L701.5 395.8L702 395.4L702.5 395.1L703 394.7L703.5 394.4L704 394L704.5 393.7L705 393.3L705.5 393L706 392.7L706.5 392.3L707 392L707.5 391.6L708 391.3L708.5 390.9L709 390.6L709.5 390.2L710 389.9L710.5 389.5L711 389.2L711.5 388.8L712 388.5L712.5 388.1L713 387.8L713.5 387.4L714 387.1L714.5 386.7L715 386.4L715.5 386L716 385.7L716.5 385.3L717 385L717.5 384.7L718 384.3L718.5 384L719 383.6L719.5 383.3L720 382.9L720.5 382.6L721 382.2L721.5 381.9L722 381.5L722.5 381.2L723 380.8L723.5 380.5L724 380.1L724.5 379.8L725 379.4L725.5 379.1L726 378.7L726.5 378.4L727 378.1L727.5 377.7L728 377.4L728.5 377L729 376.7L729.5 376.3L730 376L730.5 375.6L731 375.3L731.5 374.9L732 374.6L732.5 374.2L733 373.9L733.5 373.5L734 373.2L734.5 372.8L735 372.5L735.5 372.1L736 371.8L736.5 371.4L737 371.1L737.5 370.8L738 370.4L738.5 370.1L739 369.7L739.5 369.4L740 369L740.5 368.7L741 368.3L741.5 368L742 367.6L742.5 367.3L743 366.9L743.5 366.6L744 366.2L744.5 365.9L745 365.5L745.5 365.2L746 364.8L746.5 364.5L747 364.1L747.5 363.8L748 363.4L748.5 363.1L749 362.7L749.5 362.4L750 362L750.5 361.7L751 361.3L751.5 361L752 360.6L752.5 360.3L753 360L753.5 359.6L754 359.3L754.5 358.9L755 358.6L755.5 358.2L756 357.9L756.5 357.5L757 357.2L757.5 356.8L758 356.5L758.5 356.1L759 355.8L759.5 355.4L760 355.1L760.5 354.7L761 354.4L761.5 354L762 353.7L762.5 353.3L763 353L763.5 352.6L764 352.3L764.5 351.9L765 351.6L765.5 351.2L766 350.9L766.5 350.5L767 350.2L767.5 349.8L768 349.5L768.5 349.1L769 348.8L769.5 348.4L770 348L770.5 347.7L771 347.3L771.5 347L772 346.6L772.5 346.3L773 345.9L773.5 345.6L774 345.2L774.5 344.9L775 344.5L775.5 344.2L776 343.8L776.5 343.5L777 343.1L777.5 342.8L778 342.4L778.5 342.1L779 341.7L779.5 341.4L780 341L780.5 340.7L781 340.3L781.5 340L782 339.6L782.5 339.3L783 338.9L783.5 338.6L784 338.2L784.5 337.9L785 337.5L785.5 337.2L786 336.8L786.5 336.5L787 336.1L787.5 335.8L788 335.4L788.5 335.1L789 334.7L789.5 334.4L790 334L790.5 333.7L791 333.3L791.5 333L792 332.6L792.5 332.3L793 331.9L793.5 331.6L794 331.2L794.5 330.9L795 330.5L795.5 330.2L796 329.8L796.5 329.5L797 329.1L797.5 328.8L798 328.4L798.5 328.1L799 327.7L799.5 327.4L800 327L800.5 326.7L801 326.3L801.5 326L802 325.6L802.5 325.3L803 324.9L803.5 324.6L804 324.2L804.5 323.9L805 323.5L805.5 323.2L806 322.8L806.5 322.5L807 322.1L807.5 321.8L808 321.5L808.5 321.1L809 320.8L809.5 320.4L810 320.1L810.5 319.7L811 319.4L811.5 319L812 318.7L812.5 318.3L813 318L813.5 317.6L814 317.3L814.5 316.9L815 316.6L815.5 316.3L816 315.9L816.5 315.6L817 315.2L817.5 314.9L818 314.5L818.5 314.2L819 313.8L819.5 313.5L820 313.2L820.5 312.8L821 312.5L821.5 312.1L822 311.8L822.5 311.4L823 311.1L823.5 310.8L824 310.4L824.5 310.1L825 309.7L825.5 309.4L826 309L826.5 308.7L827 308.4L827.5 308L828 307.7L828.5 307.3L829 307L829.5 306.7L830 306.3L830.5 306L831 305.6L831.5 305.3L832 305L832.5 304.6L833 304.3L833.5 303.9L834 303.6L834.5 303.3L835 302.9L835.5 302.6L836 302.2L836.5 301.9L837 301.6L837.5 301.2L838 300.9L838.5 300.6L839 300.2L839.5 299.9L840 299.5L840.5 299.2L841 298.9L841.5 298.5L842 298.2L842.5 297.9L843 297.5L843.5 297.2L844 296.9L844.5 296.5L845 296.2L845.5 295.9L846 295.5L846.5 295.2L847 294.9L847.5 294.5L848 294.2L848.5 293.9L849 293.5L849.5 293.2L850 292.9L850.5 292.5L851 292.2L851.5 291.9L852 291.6L852.5 291.2L853 290.9L853.5 290.6L854 290.2L854.5 289.9L855 289.6L855.5 289.3L856 288.9L856.5 288.6L857 288.3L857.5 287.9L858 287.6L858.5 287.3L859 287L859.5 286.6L860 286.3L860.5 286L861 285.7L861.5 285.3L862 285L862.5 284.7L863 284.4L863.5 284L864 283.7L864.5 283.4L865 283.1L865.5 282.7L866 282.4L866.5 282.1L867 281.8L867.5 281.5L868 281.1L868.5 280.8L869 280.5L869.5 280.2L870 279.9L870.5 279.5L871 279.2L871.5 278.9L872 278.6L872.5 278.3L873 277.9L873.5 277.6L874 277.3L874.5 277L875 276.7L875.5 276.4L876 276L876.5 275.7L877 275.4L877.5 275.1L878 274.8L878.5 274.5L879 274.2L879.5 273.8L880 273.5L880.5 273.2L881 272.9L881.5 272.6L882 272.3L882.5 272L883 271.7L883.5 271.4L884 271L884.5 270.7L885 270.4L885.5 270.1L886 269.8L886.5 269.5L887 269.2L887.5 268.9L888 268.6L888.5 268.3L889 268L889.5 267.6L890 267.3L890.5 267L891 266.7L891.5 266.4L892 266.1L892.5 265.8L893 265.5L893.5 265.2L894 264.9L894.5 264.6L895 264.3L895.5 264L896 263.7L896.5 263.4L897 263.1L897.5 262.8L898 262.5L898.5 262.2L899 261.9L899.5 261.6L900 261.3L900.5 261L901 260.7L901.5 260.4L902 260.1L902.5 259.8L903 259.5L903.5 259.2L904 258.9L904.5 258.6L905 258.3L905.5 258L906 257.7L906.5 257.4L907 257.1L907.5 256.8L908 256.5L908.5 256.2L909 255.9L909.5 255.7L910 255.4L910.5 255.1L911 254.8L911.5 254.5L912 254.2L912.5 253.9L913 253.6L913.5 253.3L914 253L914.5 252.8L915 252.5L915.5 252.2L916 251.9L916.5 251.6L917 251.3L917.5 251L918 250.7L918.5 250.5L919 250.2L919.5 249.9L920 249.6L920.5 249.3L921 249L921.5 248.7L922 248.5L922.5 248.2L923 247.9L923.5 247.6L924 247.3L924.5 247.1L925 246.8L925.5 246.5L926 246.2L926.5 245.9L927 245.7L927.5 245.4L928 245.1L928.5 244.8L929 244.5L929.5 244.3L930 244L930.5 243.7L931 243.4L931.5 243.2L932 242.9L932.5 242.6L933 242.3L933.5 242.1L934 241.8L934.5 241.5L935 241.3L935.5 241L936 240.7L936.5 240.4L937 240.2L937.5 239.9L938 239.6L938.5 239.4L939 239.1L939.5 238.8L940 238.6L940.5 238.3L941 238L941.5 237.8L942 237.5L942.5 237.2L943 237L943.5 236.7L944 236.4L944.5 236.2L945 235.9L945.5 235.6L946 235.4L946.5 235.1L947 234.9L947.5 234.6L948 234.3L948.5 234.1L949 233.8L949.5 233.6L950 233.3L950.5 233L951 232.8L951.5 232.5L952 232.3L952.5 232L953 231.7L953.5 231.5L954 231.2L954.5 231L955 230.7L955.5 230.5L956 230.2L956.5 230L957 229.7L957.5 229.5L958 229.2L958.5 229L959 228.7L959.5 228.5L960 228.2L960.5 228L961 227.7L961.5 227.5L962 227.2L962.5 227L963 226.7L963.5 226.5L964 226.2L964.5 226L965 225.7L965.5 225.5L966 225.3L966.5 225L967 224.8L967.5 224.5L968 224.3L968.5 224L969 223.8L969.5 223.6L970 223.3L970.5 223.1L971 222.8L971.5 222.6L972 222.4L972.5 222.1L973 221.9L973.5 221.6L974 221.4L974.5 221.2L975 220.9L975.5 220.7L976 220.5L976.5 220.2L977 220L977.5 219.8L978 219.5L978.5 219.3L979 219.1L979.5 218.8L980 218.6L980.5 218.4L981 218.2L981.5 217.9L982 217.7L982.5 217.5L983 217.2L983.5 217L984 216.8L984.5 216.6L985 216.3L985.5 216.1L986 215.9L986.5 215.7L987 215.4L987.5 215.2L988 215L988.5 214.8L989 214.6L989.5 214.3L990 214.1L990.5 213.9L991 213.7L991.5 213.5L992 213.2L992.5 213L993 212.8L993.5 212.6L994 212.4L994.5 212.2L995 211.9L995.5 211.7L996 211.5L996.5 211.3L997 211.1L997.5 210.9L998 210.7L998.5 210.5L999 210.2L999.5 210L1000 209.8L1000.5 209.6L1001 209.4L1001.5 209.2L1002 209L1002.5 208.8L1003 208.6L1003.5 208.4L1004 208.2L1004.5 208L1005 207.8L1005.5 207.6L1006 207.4L1006.5 207.2L1007 207L1007.5 206.8L1008 206.6L1008.5 206.4L1009 206.2L1009.5 206L1010 205.8L1010.5 205.6L1011 205.4L1011.5 205.2L1012 205L1012.5 204.8L1013 204.6L1013.5 204.4L1014 204.2L1014.5 204L1015 203.8L1015.5 203.6L1016 203.4L1016.5 203.3L1017 203.1L1017.5 202.9L1018 202.7L1018.5 202.5L1019 202.3L1019.5 202.1L1020 201.9L1020.5 201.8L1021 201.6L1021.5 201.4L1022 201.2L1022.5 201L1023 200.8L1023.5 200.7L1024 200.5L1024.5 200.3L1025 200.1L1025.5 199.9L1026 199.8L1026.5 199.6L1027 199.4L1027.5 199.2L1028 199.1L1028.5 198.9L1029 198.7L1029.5 198.5L1030 198.4L1030.5 198.2L1031 198L1031.5 197.9L1032 197.7L1032.5 197.5L1033 197.4L1033.5 197.2L1034 197L1034.5 196.9L1035 196.7L1035.5 196.5L1036 196.4L1036.5 196.2L1037 196L1037.5 195.9L1038 195.7L1038.5 195.5L1039 195.4L1039.5 195.2L1040 195.1L1040.5 194.9L1041 194.8L1041.5 194.6L1042 194.4L1042.5 194.3L1043 194.1L1043.5 194L1044 193.8L1044.5 193.7L1045 193.5L1045.5 193.4L1046 193.2L1046.5 193.1L1047 192.9L1047.5 192.8L1048 192.6L1048.5 192.5L1049 192.3L1049.5 192.2L1050 192L1050.5 191.9L1051 191.8L1051.5 191.6L1052 191.5L1052.5 191.3L1053 191.2L1053.5 191.1L1054 190.9L1054.5 190.8L1055 190.6L1055.5 190.5L1056 190.4L1056.5 190.2L1057 190.1L1057.5 190L1058 189.8L1058.5 189.7L1059 189.6L1059.5 189.4L1060 189.3L1060.5 189.2L1061 189L1061.5 188.9L1062 188.8L1062.5 188.7L1063 188.5L1063.5 188.4L1064 188.3L1064.5 188.2L1065 188.1L1065.5 187.9L1066 187.8L1066.5 187.7L1067 187.6L1067.5 187.5L1068 187.3L1068.5 187.2L1069 187.1L1069.5 187L1070 186.9L1070.5 186.8L1071 186.7L1071.5 186.5L1072 186.4L1072.5 186.3L1073 186.2L1073.5 186.1L1074 186L1074.5 185.9L1075 185.8L1075.5 185.7L1076 185.6L1076.5 185.5L1077 185.4L1077.5 185.3L1078 185.2L1078.5 185.1L1079 185L1079.5 184.9L1080 184.8L1080.5 184.7L1081 184.6L1081.5 184.5L1082 184.4L1082.5 184.3L1083 184.2L1083.5 184.1L1084 184L1084.5 183.9L1085 183.8L1085.5 183.7L1086 183.7L1086.5 183.6L1087 183.5L1087.5 183.4L1088 183.3L1088.5 183.2L1089 183.2L1089.5 183.1L1090 183L1090.5 182.9L1091 182.8L1091.5 182.8L1092 182.7L1092.5 182.6L1093 182.5L1093.5 182.5L1094 182.4L1094.5 182.3L1095 182.2L1095.5 182.2L1096 182.1L1096.5 182L1097 182L1097.5 181.9L1098 181.8L1098.5 181.8L1099 181.7L1099.5 181.6L1100 181.6L1100.5 181.5L1101 181.4L1101.5 181.4L1102 181.3L1102.5 181.3L1103 181.2L1103.5 181.2L1104 181.1L1104.5 181L1105 181L1105.5 180.9L1106 180.9L1106.5 180.8L1107 180.8L1107.5 180.7L1108 180.7L1108.5 180.6L1109 180.6L1109.5 180.6L1110 180.5L1110.5 180.5L1111 180.4L1111.5 180.4L1112 180.4L1112.5 180.3L1113 180.3L1113.5 180.2L1114 180.2L1114.5 180.2L1115 180.1L1115.5 180.1L1116 180.1L1116.5 180.1L1117 180L1117.5 180L1118 180L1118.5 180L1119 179.9L1119.5 179.9L1120 179.9L1120.5 179.9L1121 179.9L1121.5 179.8L1122 179.8L1122.5 179.8L1123 179.8L1123.5 179.8L1124 179.8L1124.5 179.8L1125 179.7L1125.5 179.7L1126 179.7L1126.5 179.7L1127 179.7L1127.5 179.7L1128 179.7L1128.5 179.7L1129 179.7L1129.5 179.7L1130 179.7L1130.5 179.7L1131 179.7L1131.5 179.7L1132 179.8L1132.5 179.8L1133 179.8L1133.5 179.8L1134 179.8L1134.5 179.8L1135 179.8L1135.5 179.9L1136 179.9L1136.5 179.9L1137 179.9L1137.5 179.9L1138 180L1138.5 180L1139 180L1139.5 180L1140 180.1L1140.5 180.1L1141 180.1L1141.5 180.2L1142 180.2L1142.5 180.2L1143 180.3L1143.5 180.3L1144 180.4L1144.5 180.4L1145 180.5L1145.5 180.5L1146 180.5L1146.5 180.6L1147 180.6L1147.5 180.7L1148 180.7L1148.5 180.8L1149 180.9L1149.5 180.9L1150 181L1150.5 181L1151 181.1L1151.5 181.2L1152 181.2L1152.5 181.3L1153 181.4L1153.5 181.4L1154 181.5L1154.5 181.6L1155 181.6L1155.5 181.7L1156 181.8L1156.5 181.9L1157 182L1157.5 182L1158 182.1L1158.5 182.2L1159 182.3L1159.5 182.4L1160 182.5L1160.5 182.6L1161 182.6L1161.5 182.7L1162 182.8L1162.5 182.9L1163 183L1163.5 183.1L1164 183.2L1164.5 183.3L1165 183.4L1165.5 183.6L1166 183.7L1166.5 183.8L1167 183.9L1167.5 184L1168 184.1L1168.5 184.2L1169 184.3L1169.5 184.5L1170 184.6L1170.5 184.7L1171 184.8L1171.5 185L1172 185.1L1172.5 185.2L1173 185.4L1173.5 185.5L1174 185.6L1174.5 185.8L1175 185.9L1175.5 186L1176 186.2L1176.5 186.3L1177 186.5L1177.5 186.6L1178 186.8L1178.5 186.9L1179 187.1L1179.5 187.2L1180 187.4L1180.5 187.6L1181 187.7L1181.5 187.9L1182 188L1182.5 188.2L1183 188.4L1183.5 188.5L1184 188.7L1184.5 188.9L1185 189.1L1185.5 189.2L1186 189.4L1186.5 189.6L1187 189.8L1187.5 190L1188 190.2L1188.5 190.3L1189 190.5L1189.5 190.7L1190 190.9L1190.5 191.1L1191 191.3L1191.5 191.5L1192 191.7L1192.5 191.9L1193 192.1L1193.5 192.3L1194 192.5L1194.5 192.8L1195 193L1195.5 193.2L1196 193.4L1196.5 193.6L1197 193.8L1197.5 194.1L1198 194.3L1198.5 194.5L1199 194.7L1199.5 195L1200 195.2L1200.5 195.4L1201 195.7L1201.5 195.9L1202 196.2L1202.5 196.4L1203 196.6L1203.5 196.9L1204 197.1L1204.5 197.4L1205 197.6L1205.5 197.9L1206 198.2L1206.5 198.4L1207 198.7L1207.5 198.9L1208 199.2L1208.5 199.5L1209 199.8L1209.5 200L1210 200.3L1210.5 200.6L1211 200.9L1211.5 201.1L1212 201.4L1212.5 201.7L1213 202L1213.5 202.3L1214 202.6L1214.5 202.9L1215 203.2L1215.5 203.5L1216 203.8L1216.5 204.1L1217 204.4L1217.5 204.7L1218 205L1218.5 205.3L1219 205.6L1219.5 205.9L1220 206.2L1220.5 206.6L1221 206.9L1221.5 207.2L1222 207.5L1222.5 207.9L1223 208.2L1223.5 208.5L1224 208.9L1224.5 209.2L1225 209.5L1225.5 209.9L1226 210.2L1226.5 210.6L1227 210.9L1227.5 211.3L1228 211.6L1228.5 212L1229 212.3L1229.5 212.7L1230 213.1L1230.5 213.4L1231 213.8L1231.5 214.2L1232 214.5L1232.5 214.9L1233 215.3L1233.5 215.7L1234 216.1L1234.5 216.4L1235 216.8L1235.5 217.2L1236 217.6L1236.5 218L1237 218.4L1237.5 218.8L1238 219.2L1238.5 219.6L1239 220L1239.5 220.4L1240 220.8L1240.5 221.3L1241 221.7L1241.5 222.1L1242 222.5L1242.5 222.9L1243 223.4L1243.5 223.8L1244 224.2L1244.5 224.6L1245 225.1L1245.5 225.5L1246 226L1246.5 226.4L1247 226.9L1247.5 227.3L1248 227.7" stroke="#0000ff"/>
</g>
<path d="M876 171.3V352H1123.5V171.3Z" stroke="#000" stroke-width="3.6" fill="none" stroke-dasharray="24.4 13.9" stroke-linecap="butt"/>
<rect x="273.3" y="59.5" width="490.3" height="237.7" fill="#fff" stroke="#262626" stroke-width="1.5"/>
<path d="M283.6 102.1H380.6" stroke="#ff0000" stroke-width="6.3"/>
<path d="M283.6 178.3H380.6" stroke="#00ff00" stroke-width="6.3"/>
<path d="M283.6 254.8H380.6" stroke="#0000ff" stroke-width="6.3"/>
<g font-size="64" fill="#000">
<text x="404" y="125">PID</text>
<text x="404" y="201.4">PI+PID</text>
<text x="404" y="278">(R-D)PI+PID</text>
</g>
<g fill="#262626" font-size="72" text-anchor="end">
<text x="241.4" y="108">10</text>
<text x="241.4" y="248.3">0</text>
<text x="241.4" y="388.6">10</text>
<text x="241.4" y="528.9">20</text>
<text x="241.4" y="669.2">30</text>
<text x="241.4" y="809.5">40</text>
</g>
<text x="0" y="0" font-size="70" fill="#262626" transform="translate(141.8 392.4) scale(1.3 1)" text-anchor="middle">&#8722;</text>
<text x="0" y="0" font-size="70" fill="#262626" transform="translate(141.8 532.6) scale(1.3 1)" text-anchor="middle">&#8722;</text>
<text x="0" y="0" font-size="70" fill="#262626" transform="translate(141.8 673) scale(1.3 1)" text-anchor="middle">&#8722;</text>
<text x="0" y="0" font-size="70" fill="#262626" transform="translate(141.8 813.2) scale(1.3 1)" text-anchor="middle">&#8722;</text>
<text x="285.6" y="874.4" fill="#262626" font-size="72" text-anchor="end">10</text>
<text x="286.2" y="847" fill="#262626" font-size="48" text-anchor="start">0</text>
<text x="1042.2" y="874.4" fill="#262626" font-size="72" text-anchor="end">10</text>
<text x="1042.8" y="847" fill="#262626" font-size="48" text-anchor="start">2</text>
<text x="750.6" y="974.2" font-size="78.5" fill="#262626" text-anchor="middle">Frequency (Hz)</text>
<text transform="translate(89.6 422.2) rotate(-90)" x="0" y="0" font-size="79" fill="#262626" text-anchor="middle">Amplitude (dB)</text>
<path d="M1381.2 59.8H2385.7M1381.2 209H2385.7M1381.2 358.2H2385.7M1381.2 507.4H2385.7M1381.2 656.6H2385.7M1381.2 805.8H2385.7M1715.9 46.3V840.8M2111.6 46.3V840.8M2343 46.3V840.8" stroke="#dcdcdc" stroke-width="1.3" fill="none"/>
<path d="M1424.3 840.8V46.3M1588.5 840.8V46.3M1820 840.8V46.3M1908 840.8V46.3M1984.2 840.8V46.3M2051.4 840.8V46.3M2166 840.8V46.3M2215.6 840.8V46.3M2261.3 840.8V46.3M2303.6 840.8V46.3M2379.9 840.8V46.3" stroke="#b4b4b4" stroke-width="1.9" stroke-dasharray="1.9 7.4" stroke-dashoffset="0.9" fill="none"/>
<path d="M1715.9 840.8v-11M1715.9 46.3v11M2111.6 840.8v-11M2111.6 46.3v11M2343 840.8v-11M2343 46.3v11M1424.3 840.8v-5.5M1424.3 46.3v5.5M1588.5 840.8v-5.5M1588.5 46.3v5.5M1820 840.8v-5.5M1820 46.3v5.5M1908 840.8v-5.5M1908 46.3v5.5M1984.2 840.8v-5.5M1984.2 46.3v5.5M2051.4 840.8v-5.5M2051.4 46.3v5.5M2166 840.8v-5.5M2166 46.3v5.5M2215.6 840.8v-5.5M2215.6 46.3v5.5M2261.3 840.8v-5.5M2261.3 46.3v5.5M2303.6 840.8v-5.5M2303.6 46.3v5.5M2379.9 840.8v-5.5M2379.9 46.3v5.5M1381.2 59.8h10M2385.7 59.8h-10M1381.2 209h10M2385.7 209h-10M1381.2 358.2h10M2385.7 358.2h-10M1381.2 507.4h10M2385.7 507.4h-10M1381.2 656.6h10M2385.7 656.6h-10M1381.2 805.8h10M2385.7 805.8h-10" stroke="#262626" stroke-width="1.6" fill="none"/>
<rect x="1381.2" y="46.3" width="1004.5" height="794.5" stroke="#262626" stroke-width="1.7" fill="none"/>
<g clip-path="url(#cr)" fill="none" stroke-width="6.6" stroke-linejoin="round" stroke-linecap="round">
<path d="M1379.2 575.6L1379.6 576.1L1380 576.6L1380.4 577.3L1380.8 578L1381.2 578.7L1381.6 579.4L1382 580.1L1382.4 580.7L1382.8 581.3L1383.2 581.7L1383.6 582L1384 582.2L1384.4 582.2L1384.8 582L1385.2 581.8L1385.6 581.3L1386 580.8L1386.4 580.1L1386.8 579.3L1387.2 578.4L1387.6 577.4L1388 576.3L1388.4 575.2L1388.8 574.1L1389.2 572.9L1389.6 571.8L1390 570.6L1390.4 569.6L1390.8 568.5L1391.2 567.6L1391.6 566.8L1392 566.1L1392.4 565.6L1392.8 565.2L1393.2 565.1L1393.6 565.1L1394 565.3L1394.4 565.7L1394.8 566.2L1395.2 567L1395.6 567.8L1396 568.7L1396.4 569.7L1396.8 570.7L1397.2 571.7L1397.6 572.6L1398 573.4L1398.4 574L1398.8 574.5L1399.2 574.6L1399.6 574.6L1400 574.3L1400.4 573.7L1400.8 572.8L1401.2 571.7L1401.6 570.3L1402 568.8L1402.4 567L1402.8 565.2L1403.2 563.3L1403.6 561.4L1404 559.5L1404.4 557.7L1404.8 556L1405.2 554.4L1405.6 553.1L1406 552L1406.4 551.2L1406.8 550.6L1407.2 550.3L1407.6 550.3L1408 550.5L1408.4 551L1408.8 551.6L1409.2 552.5L1409.6 553.5L1410 554.6L1410.4 555.7L1410.8 556.8L1411.2 557.9L1411.6 558.9L1412 559.8L1412.4 560.5L1412.8 560.9L1413.2 561.1L1413.6 561.1L1414 560.8L1414.4 560.3L1414.8 559.5L1415.2 558.4L1415.6 557.2L1416 555.8L1416.4 554.2L1416.8 552.6L1417.2 550.9L1417.6 549.2L1418 547.6L1418.4 546L1418.8 544.6L1419.2 543.4L1419.6 542.3L1420 541.5L1420.4 541L1420.8 540.7L1421.2 540.6L1421.6 540.8L1422 541.2L1422.4 541.8L1422.8 542.6L1423.2 543.5L1423.6 544.5L1424 545.6L1424.4 546.7L1424.8 547.7L1425.2 548.7L1425.6 549.5L1426 550.2L1426.4 550.8L1426.8 551.1L1427.2 551.2L1427.6 551L1428 550.7L1428.4 550.1L1428.8 549.3L1429.2 548.2L1429.6 547L1430 545.7L1430.4 544.2L1430.8 542.7L1431.2 541.1L1431.6 539.5L1432 538L1432.4 536.6L1432.8 535.3L1433.2 534.2L1433.6 533.2L1434 532.5L1434.4 532L1434.8 531.7L1435.2 531.7L1435.6 531.8L1436 532.2L1436.4 532.7L1436.8 533.4L1437.2 534.2L1437.6 535L1438 535.8L1438.4 536.6L1438.8 537.3L1439.2 537.9L1439.6 538.4L1440 538.6L1440.4 538.7L1440.8 538.5L1441.2 538.1L1441.6 537.5L1442 536.7L1442.4 535.6L1442.8 534.4L1443.2 533L1443.6 531.5L1444 529.9L1444.4 528.3L1444.8 526.6L1445.2 525.1L1445.6 523.6L1446 522.2L1446.4 521L1446.8 520L1447.2 519.3L1447.6 518.8L1448 518.5L1448.4 518.5L1448.8 518.8L1449.2 519.4L1449.6 520.1L1450 521.1L1450.4 522.3L1450.8 523.5L1451.2 524.8L1451.6 526.1L1452 527.3L1452.4 528.4L1452.8 529.3L1453.2 529.9L1453.6 530.3L1454 530.3L1454.4 530L1454.8 529.3L1455.2 528.3L1455.6 526.9L1456 525.3L1456.4 523.4L1456.8 521.4L1457.2 519.3L1457.6 517.2L1458 515.1L1458.4 513.2L1458.8 511.5L1459.2 510L1459.6 508.8L1460 508L1460.4 507.5L1460.8 507.3L1461.2 507.5L1461.6 508L1462 508.7L1462.4 509.6L1462.8 510.7L1463.2 511.8L1463.6 513L1464 514.1L1464.4 515.1L1464.8 516L1465.2 516.7L1465.6 517.1L1466 517.4L1466.4 517.3L1466.8 517.1L1467.2 516.5L1467.6 515.8L1468 514.8L1468.4 513.6L1468.8 512.3L1469.2 510.9L1469.6 509.4L1470 507.8L1470.4 506.3L1470.8 504.9L1471.2 503.6L1471.6 502.4L1472 501.4L1472.4 500.6L1472.8 500.1L1473.2 499.9L1473.6 499.8L1474 500.1L1474.4 500.6L1474.8 501.3L1475.2 502.1L1475.6 503.1L1476 504.2L1476.4 505.4L1476.8 506.5L1477.2 507.6L1477.6 508.5L1478 509.3L1478.4 509.9L1478.8 510.2L1479.2 510.3L1479.6 510.1L1480 509.6L1480.4 508.8L1480.8 507.7L1481.2 506.4L1481.6 504.9L1482 503.2L1482.4 501.5L1482.8 499.7L1483.2 497.9L1483.6 496.2L1484 494.7L1484.4 493.4L1484.8 492.3L1485.2 491.6L1485.6 491.2L1486 491.1L1486.4 491.3L1486.8 491.9L1487.2 492.8L1487.6 493.9L1488 495.2L1488.4 496.5L1488.8 498L1489.2 499.3L1489.6 500.6L1490 501.6L1490.4 502.4L1490.8 502.8L1491.2 502.9L1491.6 502.5L1492 501.8L1492.4 500.6L1492.8 499.1L1493.2 497.3L1493.6 495.2L1494 493L1494.4 490.6L1494.8 488.2L1495.2 485.9L1495.6 483.9L1496 482L1496.4 480.5L1496.8 479.4L1497.2 478.8L1497.6 478.6L1498 478.8L1498.4 479.4L1498.8 480.4L1499.2 481.8L1499.6 483.3L1500 485L1500.4 486.8L1500.8 488.5L1501.2 490.1L1501.6 491.5L1502 492.6L1502.4 493.3L1502.8 493.7L1503.2 493.6L1503.6 493.1L1504 492.3L1504.4 491L1504.8 489.4L1505.2 487.6L1505.6 485.6L1506 483.5L1506.4 481.4L1506.8 479.3L1507.2 477.4L1507.6 475.7L1508 474.4L1508.4 473.4L1508.8 472.7L1509.2 472.5L1509.6 472.8L1510 473.4L1510.4 474.4L1510.8 475.7L1511.2 477.2L1511.6 478.9L1512 480.7L1512.4 482.4L1512.8 484.1L1513.2 485.4L1513.6 486.5L1514 487.2L1514.4 487.5L1514.8 487.3L1515.2 486.7L1515.6 485.6L1516 484.1L1516.4 482.2L1516.8 480.1L1517.2 477.8L1517.6 475.4L1518 473L1518.4 470.8L1518.8 468.8L1519.2 467.1L1519.6 465.8L1520 464.9L1520.4 464.5L1520.8 464.5L1521.2 465L1521.6 465.8L1522 467L1522.4 468.5L1522.8 470.1L1523.2 471.8L1523.6 473.4L1524 474.9L1524.4 476.2L1524.8 477.2L1525.2 477.9L1525.6 478.1L1526 477.9L1526.4 477.3L1526.8 476.3L1527.2 474.9L1527.6 473.3L1528 471.3L1528.4 469.3L1528.8 467.1L1529.2 465L1529.6 463L1530 461.2L1530.4 459.7L1530.8 458.6L1531.2 457.8L1531.6 457.5L1532 457.6L1532.4 458.1L1532.8 458.9L1533.2 460.1L1533.6 461.5L1534 463.1L1534.4 464.7L1534.8 466.3L1535.2 467.8L1535.6 469L1536 470L1536.4 470.6L1536.8 470.7L1537.2 470.5L1537.6 469.8L1538 468.6L1538.4 467.1L1538.8 465.3L1539.2 463.3L1539.6 461.2L1540 459L1540.4 457L1540.8 455.1L1541.2 453.5L1541.6 452.3L1542 451.5L1542.4 451.2L1542.8 451.4L1543.2 451.9L1543.6 452.9L1544 454.3L1544.4 455.8L1544.8 457.5L1545.2 459.2L1545.6 460.8L1546 462.1L1546.4 463.2L1546.8 463.9L1547.2 464.1L1547.6 463.9L1548 463.2L1548.4 462.1L1548.8 460.6L1549.2 458.8L1549.6 456.8L1550 454.7L1550.4 452.5L1550.8 450.5L1551.2 448.6L1551.6 447L1552 445.8L1552.4 445L1552.8 444.6L1553.2 444.6L1553.6 445.1L1554 445.9L1554.4 447L1554.8 448.3L1555.2 449.8L1555.6 451.3L1556 452.7L1556.4 453.9L1556.8 454.9L1557.2 455.5L1557.6 455.7L1558 455.5L1558.4 454.9L1558.8 453.9L1559.2 452.5L1559.6 450.8L1560 448.9L1560.4 446.9L1560.8 444.8L1561.2 442.9L1561.6 441.1L1562 439.6L1562.4 438.4L1562.8 437.5L1563.2 437.1L1563.6 437.1L1564 437.5L1564.4 438.2L1564.8 439.1L1565.2 440.3L1565.6 441.5L1566 442.8L1566.4 444L1566.8 445L1567.2 445.8L1567.6 446.2L1568 446.3L1568.4 446.1L1568.8 445.4L1569.2 444.5L1569.6 443.2L1570 441.7L1570.4 440L1570.8 438.3L1571.2 436.6L1571.6 435.1L1572 433.8L1572.4 432.8L1572.8 432.1L1573.2 431.9L1573.6 432.1L1574 432.6L1574.4 433.5L1574.8 434.7L1575.2 436L1575.6 437.5L1576 438.9L1576.4 440.2L1576.8 441.2L1577.2 442L1577.6 442.4L1578 442.3L1578.4 441.8L1578.8 440.9L1579.2 439.6L1579.6 438L1580 436.2L1580.4 434.3L1580.8 432.3L1581.2 430.5L1581.6 428.9L1582 427.7L1582.4 426.8L1582.8 426.4L1583.2 426.5L1583.6 427.1L1584 428L1584.4 429.3L1584.8 430.8L1585.2 432.3L1585.6 433.9L1586 435.2L1586.4 436.3L1586.8 437L1587.2 437.2L1587.6 436.9L1588 436.2L1588.4 435L1588.8 433.5L1589.2 431.6L1589.6 429.7L1590 427.7L1590.4 425.8L1590.8 424.1L1591.2 422.7L1591.6 421.8L1592 421.4L1592.4 421.4L1592.8 421.8L1593.2 422.7L1593.6 424L1594 425.5L1594.4 427.1L1594.8 428.7L1595.2 430.2L1595.6 431.5L1596 432.3L1596.4 432.8L1596.8 432.7L1597.2 432.1L1597.6 431L1598 429.5L1598.4 427.5L1598.8 425.3L1599.2 423.1L1599.6 420.8L1600 418.8L1600.4 417.1L1600.8 415.9L1601.2 415.3L1601.6 415.3L1602 416L1602.4 417.2L1602.8 418.8L1603.2 420.8L1603.6 422.9L1604 425L1604.4 426.8L1604.8 428.3L1605.2 429.1L1605.6 429.3L1606 428.8L1606.4 427.5L1606.8 425.6L1607.2 423.2L1607.6 420.5L1608 417.5L1608.4 414.7L1608.8 412.1L1609.2 410L1609.6 408.6L1610 407.8L1610.4 407.9L1610.8 408.7L1611.2 410.2L1611.6 412.2L1612 414.6L1612.4 417.1L1612.8 419.5L1613.2 421.6L1613.6 423.1L1614 424L1614.4 424.1L1614.8 423.4L1615.2 421.9L1615.6 419.8L1616 417.1L1616.4 414.2L1616.8 411.2L1617.2 408.4L1617.6 406L1618 404.1L1618.4 403L1618.8 402.6L1619.2 403L1619.6 404.2L1620 406L1620.4 408.2L1620.8 410.7L1621.2 413.3L1621.6 415.6L1622 417.5L1622.4 418.8L1622.8 419.4L1623.2 419.1L1623.6 418L1624 416L1624.4 413.5L1624.8 410.4L1625.2 407.2L1625.6 404L1626 401.1L1626.4 398.8L1626.8 397.3L1627.2 396.7L1627.6 397.1L1628 398.4L1628.4 400.6L1628.8 403.4L1629.2 406.5L1629.6 409.7L1630 412.6L1630.4 414.9L1630.8 416.4L1631.2 416.9L1631.6 416.4L1632 414.8L1632.4 412.4L1632.8 409.2L1633.2 405.6L1633.6 401.9L1634 398.5L1634.4 395.6L1634.8 393.4L1635.2 392.3L1635.6 392.2L1636 393.1L1636.4 395L1636.8 397.6L1637.2 400.6L1637.6 403.8L1638 406.8L1638.4 409.3L1638.8 411.1L1639.2 412L1639.6 411.8L1640 410.6L1640.4 408.4L1640.8 405.4L1641.2 402L1641.6 398.4L1642 395L1642.4 392L1642.8 389.8L1643.2 388.6L1643.6 388.4L1644 389.3L1644.4 391.1L1644.8 393.7L1645.2 396.8L1645.6 400L1646 403L1646.4 405.5L1646.8 407.2L1647.2 408L1647.6 407.7L1648 406.4L1648.4 404.2L1648.8 401.2L1649.2 397.9L1649.6 394.4L1650 391.2L1650.4 388.5L1650.8 386.5L1651.2 385.6L1651.6 385.7L1652 386.8L1652.4 388.8L1652.8 391.5L1653.2 394.6L1653.6 397.7L1654 400.5L1654.4 402.7L1654.8 404L1655.2 404.2L1655.6 403.3L1656 401.2L1656.4 398.2L1656.8 394.5L1657.2 390.5L1657.6 386.5L1658 383L1658.4 380.2L1658.8 378.5L1659.2 377.9L1659.6 378.6L1660 380.4L1660.4 383L1660.8 386.2L1661.2 389.5L1661.6 392.6L1662 395.1L1662.4 396.7L1662.8 397.2L1663.2 396.6L1663.6 394.8L1664 392.2L1664.4 388.9L1664.8 385.3L1665.2 381.7L1665.6 378.6L1666 376.2L1666.4 374.7L1666.8 374.2L1667.2 374.8L1667.6 376.2L1668 378.5L1668.4 381.2L1668.8 384L1669.2 386.8L1669.6 389.1L1670 390.7L1670.4 391.5L1670.8 391.4L1671.2 390.3L1671.6 388.3L1672 385.8L1672.4 382.7L1672.8 379.6L1673.2 376.6L1673.6 374.1L1674 372.4L1674.4 371.5L1674.8 371.6L1675.2 372.7L1675.6 374.7L1676 377.3L1676.4 380.3L1676.8 383.3L1677.2 386L1677.6 388.1L1678 389.2L1678.4 389.3L1678.8 388.2L1679.2 386L1679.6 383L1680 379.5L1680.4 375.7L1680.8 372.1L1681.2 369.1L1681.6 367L1682 366L1682.4 366.1L1682.8 367.4L1683.2 369.6L1683.6 372.5L1684 375.8L1684.4 379L1684.8 381.7L1685.2 383.7L1685.6 384.6L1686 384.5L1686.4 383.2L1686.8 380.9L1687.2 377.9L1687.6 374.5L1688 371L1688.4 367.8L1688.8 365.3L1689.2 363.5L1689.6 362.7L1690 363L1690.4 364.2L1690.8 366.2L1691.2 368.7L1691.6 371.4L1692 374L1692.4 376.1L1692.8 377.7L1693.2 378.4L1693.6 378.3L1694 377.2L1694.4 375.4L1694.8 372.9L1695.2 370.1L1695.6 367.3L1696 364.6L1696.4 362.5L1696.8 361L1697.2 360.4L1697.6 360.7L1698 361.8L1698.4 363.6L1698.8 365.9L1699.2 368.5L1699.6 371L1700 373L1700.4 374.5L1700.8 375.1L1701.2 374.8L1701.6 373.6L1702 371.6L1702.4 369L1702.8 366.1L1703.2 363.1L1703.6 360.5L1704 358.4L1704.4 357.2L1704.8 356.8L1705.2 357.4L1705.6 358.8L1706 360.9L1706.4 363.5L1706.8 366.1L1707.2 368.5L1707.6 370.5L1708 371.7L1708.4 372.2L1708.8 371.7L1709.2 370.4L1709.6 368.4L1710 366L1710.4 363.3L1710.8 360.6L1711.2 358.3L1711.6 356.4L1712 355.4L1712.4 355.1L1712.8 355.6L1713.2 356.9L1713.6 358.7L1714 361L1714.4 363.4L1714.8 365.7L1715.2 367.5L1715.6 368.8L1716 369.3L1716.4 368.9L1716.8 367.6L1717.2 365.5L1717.6 362.9L1718 359.8L1718.4 356.7L1718.8 353.8L1719.2 351.5L1719.6 349.9L1720 349.3L1720.4 349.8L1720.8 351.3L1721.2 353.7L1721.6 356.6L1722 359.9L1722.4 363L1722.8 365.6L1723.2 367.4L1723.6 368.1L1724 367.6L1724.4 365.8L1724.8 363L1725.2 359.3L1725.6 355.1L1726 350.8L1726.4 346.9L1726.8 343.8L1727.2 341.8L1727.6 341L1728 341.6L1728.4 343.5L1728.8 346.5L1729.2 350.1L1729.6 354.1L1730 357.9L1730.4 361.1L1730.8 363.3L1731.2 364.4L1731.6 364.1L1732 362.4L1732.4 359.6L1732.8 355.9L1733.2 351.7L1733.6 347.4L1734 343.4L1734.4 340.3L1734.8 338.2L1735.2 337.3L1735.6 337.9L1736 339.7L1736.4 342.6L1736.8 346.2L1737.2 350.2L1737.6 354.1L1738 357.6L1738.4 360.1L1738.8 361.5L1739.2 361.5L1739.6 360.3L1740 357.8L1740.4 354.3L1740.8 350.2L1741.2 345.9L1741.6 341.8L1742 338.3L1742.4 335.8L1742.8 334.6L1743.2 334.6L1743.6 335.9L1744 338.4L1744.4 341.6L1744.8 345.3L1745.2 349.1L1745.6 352.6L1746 355.3L1746.4 356.9L1746.8 357.5L1747.2 356.7L1747.6 354.8L1748 351.9L1748.4 348.3L1748.8 344.4L1749.2 340.5L1749.6 337L1750 334.3L1750.4 332.6L1750.8 332L1751.2 332.7L1751.6 334.4L1752 337.1L1752.4 340.4L1752.8 344L1753.2 347.5L1753.6 350.5L1754 352.9L1754.4 354.1L1754.8 354.3L1755.2 353.2L1755.6 351L1756 347.9L1756.4 344.1L1756.8 340.1L1757.2 336.2L1757.6 332.9L1758 330.3L1758.4 328.8L1758.8 328.6L1759.2 329.5L1759.6 331.6L1760 334.5L1760.4 338L1760.8 341.7L1761.2 345.1L1761.6 347.9L1762 349.7L1762.4 350.4L1762.8 349.9L1763.2 348.1L1763.6 345.3L1764 341.8L1764.4 337.8L1764.8 333.7L1765.2 330L1765.6 327L1766 325L1766.4 324L1766.8 324.3L1767.2 325.7L1767.6 328L1768 331L1768.4 334.4L1768.8 337.8L1769.2 340.8L1769.6 343.2L1770 344.7L1770.4 345.1L1770.8 344.4L1771.2 342.8L1771.6 340.2L1772 337L1772.4 333.4L1772.8 329.8L1773.2 326.6L1773.6 324L1774 322.2L1774.4 321.5L1774.8 321.8L1775.2 323.1L1775.6 325.3L1776 328.1L1776.4 331.3L1776.8 334.4L1777.2 337.2L1777.6 339.3L1778 340.6L1778.4 340.9L1778.8 340.2L1779.2 338.6L1779.6 336.1L1780 333.2L1780.4 330L1780.8 326.9L1781.2 324.1L1781.6 322L1782 320.6L1782.4 320.1L1782.8 320.4L1783.2 321.6L1783.6 323.4L1784 325.7L1784.4 328.1L1784.8 330.4L1785.2 332.5L1785.6 333.9L1786 334.7L1786.4 334.8L1786.8 334L1787.2 332.6L1787.6 330.5L1788 328.1L1788.4 325.5L1788.8 322.9L1789.2 320.6L1789.6 318.8L1790 317.7L1790.4 317.4L1790.8 317.9L1791.2 319.2L1791.6 321.2L1792 323.6L1792.4 326.2L1792.8 328.7L1793.2 330.8L1793.6 332.4L1794 333.1L1794.4 333L1794.8 331.9L1795.2 330L1795.6 327.5L1796 324.5L1796.4 321.6L1796.8 318.8L1797.2 316.6L1797.6 315.2L1798 314.7L1798.4 315.2L1798.8 316.6L1799.2 318.7L1799.6 321.3L1800 324.1L1800.4 326.8L1800.8 329L1801.2 330.5L1801.6 331.2L1802 330.8L1802.4 329.5L1802.8 327.4L1803.2 324.8L1803.6 321.8L1804 318.8L1804.4 316.2L1804.8 314.2L1805.2 312.9L1805.6 312.6L1806 313.1L1806.4 314.5L1806.8 316.6L1807.2 319L1807.6 321.6L1808 323.9L1808.4 325.7L1808.8 326.8L1809.2 326.9L1809.6 326.2L1810 324.5L1810.4 322L1810.8 319.1L1811.2 315.9L1811.6 312.8L1812 310.2L1812.4 308.3L1812.8 307.3L1813.2 307.3L1813.6 308.4L1814 310.3L1814.4 312.9L1814.8 315.8L1815.2 318.7L1815.6 321.1L1816 322.9L1816.4 323.6L1816.8 323.2L1817.2 321.8L1817.6 319.4L1818 316.3L1818.4 313L1818.8 309.7L1819.2 307L1819.6 305.1L1820 304.2L1820.4 304.6L1820.8 306.1L1821.2 308.5L1821.6 311.6L1822 314.9L1822.4 318L1822.8 320.6L1823.2 322.2L1823.6 322.7L1824 322L1824.4 320.2L1824.8 317.5L1825.2 314.3L1825.6 311L1826 307.9L1826.4 305.4L1826.8 303.9L1827.2 303.4L1827.6 304.1L1828 305.7L1828.4 308.2L1828.8 311.1L1829.2 314.1L1829.6 316.7L1830 318.7L1830.4 319.7L1830.8 319.6L1831.2 318.4L1831.6 316.3L1832 313.4L1832.4 310.2L1832.8 307L1833.2 304.3L1833.6 302.5L1834 301.6L1834.4 302L1834.8 303.4L1835.2 305.8L1835.6 308.8L1836 311.9L1836.4 314.7L1836.8 316.8L1837.2 318L1837.6 317.9L1838 316.6L1838.4 314.3L1838.8 311.2L1839.2 307.7L1839.6 304.4L1840 301.6L1840.4 299.8L1840.8 299L1841.2 299.4L1841.6 300.9L1842 303.2L1842.4 305.9L1842.8 308.6L1843.2 310.9L1843.6 312.5L1844 313.1L1844.4 312.6L1844.8 311.2L1845.2 309L1845.6 306.3L1846 303.5L1846.4 301L1846.8 299L1847.2 298L1847.6 297.9L1848 298.7L1848.4 300.4L1848.8 302.7L1849.2 305.2L1849.6 307.5L1850 309.4L1850.4 310.6L1850.8 310.8L1851.2 310L1851.6 308.3L1852 306L1852.4 303.3L1852.8 300.7L1853.2 298.5L1853.6 297.1L1854 296.6L1854.4 297.2L1854.8 298.8L1855.2 301L1855.6 303.7L1856 306.3L1856.4 308.4L1856.8 309.6L1857.2 309.6L1857.6 308.5L1858 306.4L1858.4 303.4L1858.8 300.1L1859.2 296.8L1859.6 294.1L1860 292.4L1860.4 291.9L1860.8 292.6L1861.2 294.4L1861.6 296.9L1862 299.7L1862.4 302.4L1862.8 304.4L1863.2 305.4L1863.6 305.2L1864 303.7L1864.4 301.2L1864.8 298L1865.2 294.6L1865.6 291.5L1866 289.2L1866.4 288L1866.8 288.2L1867.2 289.7L1867.6 292.2L1868 295.3L1868.4 298.5L1868.8 301.2L1869.2 303L1869.6 303.4L1870 302.5L1870.4 300.3L1870.8 297.1L1871.2 293.5L1871.6 290L1872 287.3L1872.4 285.8L1872.8 285.6L1873.2 287L1873.6 289.5L1874 292.8L1874.4 296.2L1874.8 299.2L1875.2 301.2L1875.6 301.8L1876 300.9L1876.4 298.7L1876.8 295.5L1877.2 291.9L1877.6 288.5L1878 285.8L1878.4 284.3L1878.8 284.3L1879.2 285.6L1879.6 288.2L1880 291.4L1880.4 294.7L1880.8 297.5L1881.2 299.2L1881.6 299.6L1882 298.5L1882.4 296.1L1882.8 292.8L1883.2 289.1L1883.6 285.8L1884 283.4L1884.4 282.3L1884.8 282.8L1885.2 284.7L1885.6 287.8L1886 291.5L1886.4 295L1886.8 297.7L1887.2 299.1L1887.6 298.8L1888 296.9L1888.4 293.8L1888.8 289.9L1889.2 286L1889.6 282.8L1890 281.1L1890.4 281L1890.8 282.6L1891.2 285.5L1891.6 289.3L1892 293.1L1892.4 296.1L1892.8 297.8L1893.2 297.7L1893.6 295.9L1894 292.7L1894.4 288.7L1894.8 284.7L1895.2 281.4L1895.6 279.4L1896 279.2L1896.4 280.6L1896.8 283.4L1897.2 287L1897.6 290.6L1898 293.4L1898.4 294.9L1898.8 294.8L1899.2 293L1899.6 290L1900 286.4L1900.4 282.8L1900.8 280L1901.2 278.5L1901.6 278.7L1902 280.4L1902.4 283.3L1902.8 286.7L1903.2 289.9L1903.6 292.3L1904 293.3L1904.4 292.6L1904.8 290.5L1905.2 287.3L1905.6 283.6L1906 280.3L1906.4 278L1906.8 277.1L1907.2 277.9L1907.6 280L1908 283.1L1908.4 286.3L1908.8 288.9L1909.2 290.4L1909.6 290.3L1910 288.7L1910.4 285.9L1910.8 282.5L1911.2 279.2L1911.6 276.8L1912 275.7L1912.4 276.2L1912.8 278L1913.2 280.8L1913.6 283.7L1914 286.3L1914.4 287.8L1914.8 287.9L1915.2 286.8L1915.6 284.5L1916 281.8L1916.4 279.1L1916.8 277.2L1917.2 276.3L1917.6 276.7L1918 278.2L1918.4 280.5L1918.8 282.9L1919.2 284.9L1919.6 286L1920 286L1920.4 284.8L1920.8 282.8L1921.2 280.3L1921.6 277.9L1922 276.2L1922.4 275.6L1922.8 276.1L1923.2 277.6L1923.6 279.7L1924 281.9L1924.4 283.7L1924.8 284.4L1925.2 284L1925.6 282.3L1926 279.8L1926.4 277L1926.8 274.6L1927.2 273.2L1927.6 273L1928 274.1L1928.4 276.3L1928.8 278.9L1929.2 281.3L1929.6 282.7L1930 282.7L1930.4 281.2L1930.8 278.6L1931.2 275.3L1931.6 272.3L1932 270.3L1932.4 269.8L1932.8 270.8L1933.2 273.2L1933.6 276.3L1934 279.1L1934.4 281L1934.8 281.3L1935.2 279.8L1935.6 277.1L1936 273.7L1936.4 270.5L1936.8 268.4L1937.2 268L1937.6 269.3L1938 271.9L1938.4 275.1L1938.8 278L1939.2 279.8L1939.6 279.8L1940 278.2L1940.4 275.4L1940.8 272L1941.2 269.1L1941.6 267.5L1942 267.5L1942.4 269.1L1942.8 271.8L1943.2 274.9L1943.6 277.4L1944 278.5L1944.4 278L1944.8 276L1945.2 273L1945.6 269.9L1946 267.6L1946.4 266.8L1946.8 267.5L1947.2 269.7L1947.6 272.5L1948 275.2L1948.4 276.8L1948.8 277L1949.2 275.5L1949.6 272.9L1950 269.8L1950.4 267.3L1950.8 265.9L1951.2 266L1951.6 267.6L1952 270.2L1952.4 272.7L1952.8 274.6L1953.2 275.1L1953.6 274L1954 271.7L1954.4 268.9L1954.8 266.3L1955.2 264.7L1955.6 264.6L1956 265.9L1956.4 268.3L1956.8 271L1957.2 273.1L1957.6 273.9L1958 273.2L1958.4 271.2L1958.8 268.4L1959.2 265.8L1959.6 264.1L1960 263.8L1960.4 265L1960.8 267.3L1961.2 270L1961.6 272.2L1962 273.2L1962.4 272.6L1962.8 270.7L1963.2 267.9L1963.6 265.1L1964 263.3L1964.4 262.8L1964.8 263.9L1965.2 266.2L1965.6 268.8L1966 271L1966.4 272L1966.8 271.4L1967.2 269.4L1967.6 266.6L1968 263.8L1968.4 261.9L1968.8 261.4L1969.2 262.4L1969.6 264.6L1970 267.2L1970.4 269.3L1970.8 270.2L1971.2 269.5L1971.6 267.4L1972 264.4L1972.4 261.5L1972.8 259.5L1973.2 259L1973.6 260.2L1974 262.6L1974.4 265.4L1974.8 267.6L1975.2 268.5L1975.6 267.7L1976 265.4L1976.4 262.2L1976.8 259.2L1977.2 257.4L1977.6 257.2L1978 258.9L1978.4 261.7L1978.8 264.9L1979.2 267.2L1979.6 268L1980 266.9L1980.4 264.3L1980.8 261L1981.2 258.1L1981.6 256.5L1982 256.8L1982.4 258.9L1982.8 262.1L1983.2 265.3L1983.6 267.4L1984 267.7L1984.4 266.1L1984.8 263.2L1985.2 259.9L1985.6 257.3L1986 256.3L1986.4 257.1L1986.8 259.5L1987.2 262.7L1987.6 265.5L1988 267L1988.4 266.7L1988.8 264.8L1989.2 261.9L1989.6 258.9L1990 256.9L1990.4 256.5L1990.8 257.8L1991.2 260.3L1991.6 263.2L1992 265.3L1992.4 266.1L1992.8 265.2L1993.2 263L1993.6 260.2L1994 257.6L1994.4 256.3L1994.8 256.4L1995.2 258L1995.6 260.4L1996 262.6L1996.4 264L1996.8 264L1997.2 262.6L1997.6 260.1L1998 257.5L1998.4 255.6L1998.8 254.9L1999.2 255.6L1999.6 257.5L2000 259.7L2000.4 261.6L2000.8 262.3L2001.2 261.7L2001.6 259.9L2002 257.5L2002.4 255.4L2002.8 254.2L2003.2 254.3L2003.6 255.8L2004 258L2004.4 260.2L2004.8 261.6L2005.2 261.7L2005.6 260.5L2006 258.3L2006.4 256L2006.8 254.3L2007.2 253.9L2007.6 254.8L2008 256.8L2008.4 259L2008.8 260.8L2009.2 261.4L2009.6 260.6L2010 258.6L2010.4 256.3L2010.8 254.2L2011.2 253.3L2011.6 253.7L2012 255.3L2012.4 257.4L2012.8 259.2L2013.2 260.1L2013.6 259.7L2014 258.2L2014.4 256L2014.8 254L2015.2 252.8L2015.6 252.8L2016 253.9L2016.4 255.7L2016.8 257.5L2017.2 258.6L2017.6 258.5L2018 257.4L2018.4 255.6L2018.8 253.7L2019.2 252.4L2019.6 252.1L2020 252.9L2020.4 254.4L2020.8 256L2021.2 257.1L2021.6 257.3L2022 256.4L2022.4 254.8L2022.8 252.9L2023.2 251.5L2023.6 251L2024 251.5L2024.4 252.7L2024.8 254.2L2025.2 255.3L2025.6 255.5L2026 254.8L2026.4 253.1L2026.8 251.2L2027.2 249.6L2027.6 248.9L2028 249.2L2028.4 250.4L2028.8 252L2029.2 253.2L2029.6 253.6L2030 252.9L2030.4 251.2L2030.8 249.1L2031.2 247.3L2031.6 246.5L2032 246.9L2032.4 248.3L2032.8 250.2L2033.2 251.7L2033.6 252.3L2034 251.7L2034.4 250L2034.8 247.8L2035.2 246.1L2035.6 245.4L2036 246.1L2036.4 247.8L2036.8 249.9L2037.2 251.7L2037.6 252.4L2038 251.8L2038.4 250.1L2038.8 248.1L2039.2 246.5L2039.6 246L2040 246.8L2040.4 248.5L2040.8 250.6L2041.2 252.2L2041.6 252.6L2042 251.9L2042.4 250.1L2042.8 248.1L2043.2 246.6L2043.6 246.2L2044 246.9L2044.4 248.4L2044.8 250.1L2045.2 251.2L2045.6 251.2L2046 250.2L2046.4 248.4L2046.8 246.6L2047.2 245.3L2047.6 245L2048 245.7L2048.4 247L2048.8 248.2L2049.2 248.9L2049.6 248.7L2050 247.6L2050.4 246L2050.8 244.5L2051.2 243.5L2051.6 243.5L2052 244.3L2052.4 245.5L2052.8 246.6L2053.2 247.1L2053.6 246.8L2054 245.6L2054.4 244.1L2054.8 242.7L2055.2 242L2055.6 242.2L2056 243.3L2056.4 244.7L2056.8 245.8L2057.2 246.1L2057.6 245.5L2058 244L2058.4 242.2L2058.8 240.7L2059.2 240.3L2059.6 240.9L2060 242.4L2060.4 244L2060.8 245.1L2061.2 245L2061.6 243.7L2062 241.6L2062.4 239.6L2062.8 238.4L2063.2 238.4L2063.6 239.7L2064 241.6L2064.4 243.3L2064.8 244L2065.2 243.3L2065.6 241.5L2066 239.2L2066.4 237.5L2066.8 236.9L2067.2 237.8L2067.6 239.7L2068 241.7L2068.4 243.1L2068.8 243.2L2069.2 242L2069.6 239.9L2070 237.9L2070.4 236.9L2070.8 237.2L2071.2 238.7L2071.6 240.9L2072 242.8L2072.4 243.6L2072.8 243L2073.2 241.2L2073.6 239.1L2074 237.5L2074.4 237.2L2074.8 238.3L2075.2 240.4L2075.6 242.6L2076 243.9L2076.4 243.7L2076.8 242.1L2077.2 239.8L2077.6 237.6L2078 236.6L2078.4 237.2L2078.8 239L2079.2 241.3L2079.6 243L2080 243.3L2080.4 241.9L2080.8 239.4L2081.2 236.9L2081.6 235.4L2082 235.4L2082.4 237L2082.8 239.3L2083.2 241.3L2083.6 242L2084 241.1L2084.4 238.9L2084.8 236.3L2085.2 234.6L2085.6 234.4L2086 235.8L2086.4 238.1L2086.8 240.3L2087.2 241.4L2087.6 240.9L2088 239.1L2088.4 236.8L2088.8 235.1L2089.2 234.8L2089.6 235.9L2090 238L2090.4 240.1L2090.8 241.3L2091.2 241.1L2091.6 239.6L2092 237.6L2092.4 236L2092.8 235.4L2093.2 236.2L2093.6 237.9L2094 239.8L2094.4 241L2094.8 241L2095.2 239.7L2095.6 237.7L2096 236L2096.4 235.2L2096.8 235.8L2097.2 237.4L2097.6 239.3L2098 240.5L2098.4 240.5L2098.8 239.1L2099.2 236.9L2099.6 234.9L2100 234L2100.4 234.5L2100.8 236.1L2101.2 238.2L2101.6 239.5L2102 239.4L2102.4 237.8L2102.8 235.3L2103.2 233.1L2103.6 232.1L2104 232.6L2104.4 234.5L2104.8 236.7L2105.2 238.2L2105.6 238.1L2106 236.5L2106.4 234L2106.8 231.9L2107.2 231L2107.6 231.8L2108 233.8L2108.4 236.2L2108.8 237.8L2109.2 237.8L2109.6 236.2L2110 233.9L2110.4 231.8L2110.8 231.1L2111.2 231.9L2111.6 234L2112 236.4L2112.4 237.9L2112.8 237.8L2113.2 236.1L2113.6 233.6L2114 231.4L2114.4 230.6L2114.8 231.4L2115.2 233.6L2115.6 236L2116 237.5L2116.4 237.2L2116.8 235.3L2117.2 232.5L2117.6 230.1L2118 229.3L2118.4 230.4L2118.8 232.9L2119.2 235.6L2119.6 237.3L2120 237L2120.4 234.8L2120.8 231.8L2121.2 229.4L2121.6 228.7L2122 230.1L2122.4 232.9L2122.8 235.8L2123.2 237.4L2123.6 236.9L2124 234.4L2124.4 231.3L2124.8 228.8L2125.2 228.2L2125.6 229.8L2126 232.6L2126.4 235.3L2126.8 236.6L2127.2 235.8L2127.6 233.2L2128 230L2128.4 227.8L2128.8 227.4L2129.2 229L2129.6 231.7L2130 234.2L2130.4 235.3L2130.8 234.3L2131.2 231.8L2131.6 228.8L2132 226.8L2132.4 226.7L2132.8 228.5L2133.2 231.2L2133.6 233.5L2134 234.4L2134.4 233.3L2134.8 230.8L2135.2 228L2135.6 226.3L2136 226.4L2136.4 228.4L2136.8 231.2L2137.2 233.5L2137.6 234.2L2138 233L2138.4 230.4L2138.8 227.7L2139.2 226.2L2139.6 226.8L2140 229L2140.4 232L2140.8 234.3L2141.2 234.9L2141.6 233.4L2142 230.6L2142.4 227.9L2142.8 226.7L2143.2 227.5L2143.6 230L2144 233L2144.4 235L2144.8 235.1L2145.2 233.2L2145.6 230.2L2146 227.5L2146.4 226.5L2146.8 227.5L2147.2 230L2147.6 232.7L2148 234.2L2148.4 233.8L2148.8 231.5L2149.2 228.5L2149.6 226.1L2150 225.3L2150.4 226.5L2150.8 228.8L2151.2 231.1L2151.6 232.1L2152 231.4L2152.4 229.1L2152.8 226.4L2153.2 224.4L2153.6 224.1L2154 225.4L2154.4 227.6L2154.8 229.6L2155.2 230.3L2155.6 229.4L2156 227.2L2156.4 224.9L2156.8 223.4L2157.2 223.4L2157.6 224.9L2158 227L2158.4 228.8L2158.8 229.2L2159.2 228.1L2159.6 225.9L2160 223.8L2160.4 222.6L2160.8 223L2161.2 224.7L2161.6 226.9L2162 228.5L2162.4 228.6L2162.8 227.3L2163.2 225.1L2163.6 223.1L2164 222.3L2164.4 223L2164.8 225L2165.2 227.3L2165.6 228.7L2166 228.6L2166.4 226.9L2166.8 224.6L2167.2 222.7L2167.6 222.3L2168 223.5L2168.4 225.7L2168.8 228L2169.2 229.2L2169.6 228.6L2170 226.6L2170.4 224.1L2170.8 222.4L2171.2 222.4L2171.6 223.9L2172 226.4L2172.4 228.5L2172.8 229.2L2173.2 228.2L2173.6 225.9L2174 223.4L2174.4 222.1L2174.8 222.4L2175.2 224.3L2175.6 226.7L2176 228.4L2176.4 228.6L2176.8 227.1L2177.2 224.7L2177.6 222.5L2178 221.6L2178.4 222.3L2178.8 224.3L2179.2 226.5L2179.6 227.8L2180 227.5L2180.4 225.7L2180.8 223.3L2181.2 221.4L2181.6 220.9L2182 222L2182.4 224.1L2182.8 226.1L2183.2 227L2183.6 226.2L2184 224.1L2184.4 221.7L2184.8 220.1L2185.2 220.1L2185.6 221.7L2186 224L2186.4 225.9L2186.8 226.4L2187.2 225.1L2187.6 222.8L2188 220.4L2188.4 219.3L2188.8 219.9L2189.2 222L2189.6 224.5L2190 226.2L2190.4 226.2L2190.8 224.5L2191.2 221.9L2191.6 219.8L2192 219.2L2192.4 220.4L2192.8 222.9L2193.2 225.4L2193.6 226.7L2194 226L2194.4 223.8L2194.8 221.1L2195.2 219.3L2195.6 219.2L2196 221L2196.4 223.7L2196.8 225.9L2197.2 226.5L2197.6 225.1L2198 222.4L2198.4 219.7L2198.8 218.3L2199.2 218.9L2199.6 221.1L2200 223.7L2200.4 225.4L2200.8 225.2L2201.2 223.2L2201.6 220.3L2202 218L2202.4 217.2L2202.8 218.4L2203.2 220.8L2203.6 223.2L2204 224.3L2204.4 223.4L2204.8 221L2205.2 218.2L2205.6 216.3L2206 216.3L2206.4 218.1L2206.8 220.7L2207.2 222.9L2207.6 223.4L2208 221.9L2208.4 219.3L2208.8 216.7L2209.2 215.6L2209.6 216.5L2210 219L2210.4 221.8L2210.8 223.7L2211.2 223.5L2211.6 221.5L2212 218.6L2212.4 216.4L2212.8 216L2213.2 217.8L2213.6 220.8L2214 223.6L2214.4 224.8L2214.8 223.7L2215.2 220.9L2215.6 217.8L2216 216L2216.4 216.4L2216.8 218.9L2217.2 222L2217.6 224.3L2218 224.4L2218.4 222.2L2218.8 218.8L2219.2 215.9L2219.6 214.8L2220 216.1L2220.4 219.1L2220.8 222L2221.2 223.5L2221.6 222.5L2222 219.6L2222.4 216.3L2222.8 214L2223.2 214.1L2223.6 216.3L2224 219.6L2224.4 222.2L2224.8 222.7L2225.2 221L2225.6 217.9L2226 215L2226.4 213.8L2226.8 215L2227.2 218L2227.6 221.3L2228 223.2L2228.4 222.8L2228.8 220.3L2229.2 217.1L2229.6 214.8L2230 214.7L2230.4 216.9L2230.8 220.2L2231.2 222.9L2231.6 223.8L2232 222.2L2232.4 219.1L2232.8 215.9L2233.2 214.4L2233.6 215.3L2234 218.1L2234.4 221.3L2234.8 223.2L2235.2 222.8L2235.6 220.2L2236 216.8L2236.4 214.2L2236.8 213.8L2237.2 215.7L2237.6 218.9L2238 221.6L2238.4 222.5L2238.8 221.1L2239.2 218L2239.6 215L2240 213.5L2240.4 214.4L2240.8 217L2241.2 220.1L2241.6 222L2242 221.7L2242.4 219.6L2242.8 216.6L2243.2 214.5L2243.6 214.2L2244 215.9L2244.4 218.5L2244.8 220.8L2245.2 221.5L2245.6 220.2L2246 217.7L2246.4 215.3L2246.8 214L2247.2 214.5L2247.6 216.4L2248 218.6L2248.4 219.8L2248.8 219.4L2249.2 217.6L2249.6 215.1L2250 213.2L2250.4 212.9L2250.8 214L2251.2 216L2251.6 217.7L2252 218.1L2252.4 217L2252.8 214.8L2253.2 212.6L2253.6 211.6L2254 212.1L2254.4 213.9L2254.8 216L2255.2 217.2L2255.6 216.9L2256 215.1L2256.4 212.7L2256.8 211L2257.2 210.8L2257.6 212.2L2258 214.5L2258.4 216.5L2258.8 217.1L2259.2 215.8L2259.6 213.3L2260 210.9L2260.4 209.9L2260.8 210.7L2261.2 213.1L2261.6 215.8L2262 217.3L2262.4 216.8L2262.8 214.5L2263.2 211.7L2263.6 209.8L2264 210L2264.4 212.1L2264.8 215.2L2265.2 217.6L2265.6 218L2266 216.3L2266.4 213.4L2266.8 210.8L2267.2 210L2267.6 211.5L2268 214.6L2268.4 217.6L2268.8 219L2269.2 218.1L2269.6 215.3L2270 212.3L2270.4 210.5L2270.8 211.1L2271.2 213.7L2271.6 217L2272 219.3L2272.4 219.3L2272.8 217L2273.2 213.8L2273.6 211.2L2274 210.7L2274.4 212.7L2274.8 216L2275.2 218.9L2275.6 219.9L2276 218.3L2276.4 215.1L2276.8 211.9L2277.2 210.5L2277.6 211.6L2278 214.6L2278.4 218L2278.8 220L2279.2 219.3L2279.6 216.5L2280 213L2280.4 210.8L2280.8 211L2281.2 213.5L2281.6 217.1L2282 219.7L2282.4 220.1L2282.8 217.9L2283.2 214.5L2283.6 211.7L2284 210.9L2284.4 212.7L2284.8 215.9L2285.2 219L2285.6 220.2L2286 218.9L2286.4 215.8L2286.8 212.6L2287.2 211L2287.6 211.8L2288 214.5L2288.4 217.7L2288.8 219.5L2289.2 219L2289.6 216.4L2290 213.1L2290.4 210.8L2290.8 210.7L2291.2 212.8L2291.6 215.8L2292 218.1L2292.4 218.3L2292.8 216.3L2293.2 213.1L2293.6 210.4L2294 209.5L2294.4 210.9L2294.8 213.7L2295.2 216.3L2295.6 217.2L2296 216L2296.4 213.1L2296.8 210.2L2297.2 208.7L2297.6 209.5L2298 211.9L2298.4 214.7L2298.8 216.3L2299.2 215.8L2299.6 213.5L2300 210.6L2300.4 208.6L2300.8 208.7L2301.2 210.8L2301.6 213.6L2302 215.7L2302.4 216L2302.8 214.2L2303.2 211.3L2303.6 208.9L2304 208.4L2304.4 210L2304.8 212.9L2305.2 215.5L2305.6 216.5L2306 215.2L2306.4 212.4L2306.8 209.6L2307.2 208.4L2307.6 209.5L2308 212.5L2308.4 215.7L2308.8 217.4L2309.2 216.6L2309.6 213.9L2310 210.6L2310.4 208.6L2310.8 209.1L2311.2 211.9L2311.6 215.4L2312 217.8L2312.4 217.7L2312.8 215.1L2313.2 211.5L2313.6 208.8L2314 208.7L2314.4 211.1L2314.8 214.7L2315.2 217.6L2315.6 218.2L2316 216.1L2316.4 212.5L2316.8 209.5L2317.2 208.6L2317.6 210.5L2318 214L2318.4 217.2L2318.8 218.4L2319.2 216.9L2319.6 213.5L2320 210.2L2320.4 208.7L2320.8 209.9L2321.2 213.1L2321.6 216.5L2322 218.2L2322.4 217.2L2322.8 214.1L2323.2 210.6L2323.6 208.5L2324 209L2324.4 211.8L2324.8 215.2L2325.2 217.4L2325.6 217L2326 214.2L2326.4 210.5L2326.8 207.9L2327.2 207.9L2327.6 210.3L2328 213.7L2328.4 216.3L2328.8 216.5L2329.2 214.1L2329.6 210.6L2330 207.8L2330.4 207.2L2330.8 209.2L2331.2 212.6L2331.6 215.4L2332 216.1L2332.4 214.3L2332.8 211.1L2333.2 208.1L2333.6 207.2L2334 208.7L2334.4 211.8L2334.8 214.6L2335.2 215.7L2335.6 214.4L2336 211.4L2336.4 208.4L2336.8 207L2337.2 208L2337.6 210.7L2338 213.6L2338.4 215L2338.8 214.1L2339.2 211.3L2339.6 208.2L2340 206.4L2340.4 206.9L2340.8 209.4L2341.2 212.4L2341.6 214.2L2342 213.7L2342.4 211L2342.8 207.7L2343.2 205.5L2343.6 205.7L2344 208.1L2344.4 211.3L2344.8 213.6L2345.2 213.4L2345.6 210.9L2346 207.3L2346.4 204.7L2346.8 204.5L2347.2 206.8L2347.6 210.4L2348 213.2L2348.4 213.5L2348.8 211.1L2349.2 207.3L2349.6 204.3L2350 203.7L2350.4 206L2350.8 209.9L2351.2 213.2L2351.6 214L2352 211.8L2352.4 208L2352.8 204.6L2353.2 203.8L2353.6 206L2354 210L2354.4 213.6L2354.8 214.8L2355.2 212.9L2355.6 209.2L2356 205.7L2356.4 204.6L2356.8 206.5L2357.2 210.4L2357.6 214L2358 215.5L2358.4 213.9L2358.8 210.3L2359.2 206.8L2359.6 205.4L2360 206.9L2360.4 210.4L2360.8 214L2361.2 215.5L2361.6 214.2L2362 210.8L2362.4 207.3L2362.8 205.6L2363.2 206.8L2363.6 210L2364 213.4L2364.4 215.1L2364.8 214L2365.2 210.8L2365.6 207.3L2366 205.4L2366.4 206.3L2366.8 209.4L2367.2 212.9L2367.6 214.8L2368 213.9L2368.4 210.8L2368.8 207L2369.2 204.9L2369.6 205.6L2370 208.7L2370.4 212.4L2370.8 214.6L2371.2 213.8L2371.6 210.5L2372 206.5L2372.4 204.1L2372.8 204.6L2373.2 207.8L2373.6 211.7L2374 214.1L2374.4 213.5L2374.8 210.1L2375.2 205.9L2375.6 203.4L2376 203.9L2376.4 207.2L2376.8 211.3L2377.2 213.9L2377.6 213.4L2378 210.3L2378.4 206.3L2378.8 203.9L2379.2 204.4L2379.6 207.7L2380 211.8L2380.4 214.5L2380.8 214.3L2381.2 211.4L2381.6 207.7L2382 205.4L2382.4 205.9L2382.8 209L2383.2 213L2383.6 215.5L2384 215.3L2384.4 212.6L2384.8 209L2385.2 206.7L2385.6 207.1L2386 210L2386.4 213.7L2386.8 216.1L2387.2 215.8L2387.6 213" stroke="#ff0000"/>
<path d="M1379.2 734.1L1379.6 733.8L1380 733.6L1380.4 733.3L1380.8 733L1381.2 732.6L1381.6 732.1L1382 731.7L1382.4 731.1L1382.8 730.6L1383.2 730L1383.6 729.4L1384 728.8L1384.4 728.2L1384.8 727.6L1385.2 727L1385.6 726.5L1386 726L1386.4 725.6L1386.8 725.2L1387.2 724.9L1387.6 724.6L1388 724.4L1388.4 724.1L1388.8 723.9L1389.2 723.7L1389.6 723.5L1390 723.2L1390.4 722.9L1390.8 722.6L1391.2 722.2L1391.6 721.8L1392 721.3L1392.4 720.8L1392.8 720.2L1393.2 719.6L1393.6 719L1394 718.4L1394.4 717.8L1394.8 717.2L1395.2 716.7L1395.6 716.1L1396 715.7L1396.4 715.3L1396.8 714.9L1397.2 714.6L1397.6 714.3L1398 714.1L1398.4 713.9L1398.8 713.7L1399.2 713.5L1399.6 713.2L1400 713L1400.4 712.7L1400.8 712.3L1401.2 711.9L1401.6 711.5L1402 711L1402.4 710.4L1402.8 709.9L1403.2 709.3L1403.6 708.6L1404 708L1404.4 707.4L1404.8 706.9L1405.2 706.3L1405.6 705.9L1406 705.4L1406.4 705L1406.8 704.7L1407.2 704.4L1407.6 704.2L1408 704L1408.4 703.8L1408.8 703.6L1409.2 703.3L1409.6 703.1L1410 702.8L1410.4 702.5L1410.8 702.1L1411.2 701.7L1411.6 701.2L1412 700.7L1412.4 700.1L1412.8 699.5L1413.2 698.9L1413.6 698.3L1414 697.7L1414.4 697.1L1414.8 696.6L1415.2 696.1L1415.6 695.6L1416 695.3L1416.4 694.9L1416.8 694.6L1417.2 694.4L1417.6 694.1L1418 693.9L1418.4 693.7L1418.8 693.5L1419.2 693.3L1419.6 693L1420 692.7L1420.4 692.4L1420.8 692L1421.2 691.5L1421.6 691L1422 690.4L1422.4 689.8L1422.8 689.2L1423.2 688.6L1423.6 688L1424 687.4L1424.4 686.9L1424.8 686.4L1425.2 685.9L1425.6 685.5L1426 685.2L1426.4 684.9L1426.8 684.7L1427.2 684.4L1427.6 684.2L1428 684L1428.4 683.8L1428.8 683.6L1429.2 683.4L1429.6 683L1430 682.7L1430.4 682.3L1430.8 681.8L1431.2 681.3L1431.6 680.7L1432 680.1L1432.4 679.5L1432.8 678.9L1433.2 678.3L1433.6 677.7L1434 677.2L1434.4 676.7L1434.8 676.3L1435.2 675.9L1435.6 675.6L1436 675.3L1436.4 675L1436.8 674.8L1437.2 674.6L1437.6 674.4L1438 674.2L1438.4 674L1438.8 673.7L1439.2 673.4L1439.6 673.1L1440 672.6L1440.4 672.2L1440.8 671.6L1441.2 671.1L1441.6 670.5L1442 669.9L1442.4 669.2L1442.8 668.6L1443.2 668.1L1443.6 667.6L1444 667.1L1444.4 666.7L1444.8 666.3L1445.2 666L1445.6 665.7L1446 665.5L1446.4 665.3L1446.8 665.1L1447.2 665L1447.6 664.7L1448 664.5L1448.4 664.2L1448.8 663.9L1449.2 663.5L1449.6 663L1450 662.5L1450.4 662L1450.8 661.4L1451.2 660.8L1451.6 660.2L1452 659.6L1452.4 659L1452.8 658.5L1453.2 658L1453.6 657.5L1454 657.2L1454.4 656.8L1454.8 656.6L1455.2 656.3L1455.6 656.1L1456 655.9L1456.4 655.8L1456.8 655.6L1457.2 655.3L1457.6 655.1L1458 654.8L1458.4 654.4L1458.8 654L1459.2 653.5L1459.6 652.9L1460 652.4L1460.4 651.8L1460.8 651.1L1461.2 650.5L1461.6 650L1462 649.4L1462.4 648.9L1462.8 648.5L1463.2 648.1L1463.6 647.7L1464 647.4L1464.4 647.2L1464.8 647L1465.2 646.8L1465.6 646.7L1466 646.5L1466.4 646.3L1466.8 646L1467.2 645.7L1467.6 645.3L1468 644.9L1468.4 644.4L1468.8 643.9L1469.2 643.3L1469.6 642.7L1470 642.1L1470.4 641.5L1470.8 640.9L1471.2 640.4L1471.6 639.9L1472 639.4L1472.4 639L1472.8 638.7L1473.2 638.4L1473.6 638.2L1474 638L1474.4 637.8L1474.8 637.7L1475.2 637.5L1475.6 637.3L1476 637L1476.4 636.7L1476.8 636.3L1477.2 635.9L1477.6 635.4L1478 634.9L1478.4 634.3L1478.8 633.7L1479.2 633.1L1479.6 632.5L1480 631.9L1480.4 631.4L1480.8 630.9L1481.2 630.4L1481.6 630.1L1482 629.8L1482.4 629.5L1482.8 629.3L1483.2 629.1L1483.6 628.9L1484 628.8L1484.4 628.6L1484.8 628.3L1485.2 628.1L1485.6 627.8L1486 627.4L1486.4 626.9L1486.8 626.4L1487.2 625.9L1487.6 625.3L1488 624.7L1488.4 624.1L1488.8 623.5L1489.2 622.9L1489.6 622.4L1490 621.9L1490.4 621.5L1490.8 621.2L1491.2 620.9L1491.6 620.6L1492 620.5L1492.4 620.3L1492.8 620.1L1493.2 619.9L1493.6 619.7L1494 619.5L1494.4 619.2L1494.8 618.9L1495.2 618.5L1495.6 618L1496 617.5L1496.4 616.9L1496.8 616.3L1497.2 615.7L1497.6 615.1L1498 614.5L1498.4 614L1498.8 613.5L1499.2 613L1499.6 612.7L1500 612.4L1500.4 612.1L1500.8 611.9L1501.2 611.7L1501.6 611.6L1502 611.4L1502.4 611.2L1502.8 611L1503.2 610.7L1503.6 610.4L1504 610L1504.4 609.6L1504.8 609L1505.2 608.5L1505.6 607.9L1506 607.3L1506.4 606.7L1506.8 606.1L1507.2 605.5L1507.6 605L1508 604.6L1508.4 604.2L1508.8 603.9L1509.2 603.7L1509.6 603.4L1510 603.3L1510.4 603.1L1510.8 603L1511.2 602.8L1511.6 602.6L1512 602.3L1512.4 602L1512.8 601.6L1513.2 601.2L1513.6 600.6L1514 600.1L1514.4 599.5L1514.8 598.9L1515.2 598.3L1515.6 597.7L1516 597.1L1516.4 596.6L1516.8 596.2L1517.2 595.8L1517.6 595.5L1518 595.3L1518.4 595.1L1518.8 594.9L1519.2 594.8L1519.6 594.6L1520 594.4L1520.4 594.2L1520.8 593.9L1521.2 593.6L1521.6 593.2L1522 592.8L1522.4 592.3L1522.8 591.7L1523.2 591.1L1523.6 590.5L1524 589.9L1524.4 589.3L1524.8 588.8L1525.2 588.3L1525.6 587.9L1526 587.5L1526.4 587.2L1526.8 587L1527.2 586.8L1527.6 586.6L1528 586.5L1528.4 586.3L1528.8 586.2L1529.2 585.9L1529.6 585.6L1530 585.3L1530.4 584.9L1530.8 584.4L1531.2 583.9L1531.6 583.3L1532 582.7L1532.4 582.1L1532.8 581.5L1533.2 580.9L1533.6 580.4L1534 580L1534.4 579.6L1534.8 579.2L1535.2 579L1535.6 578.8L1536 578.6L1536.4 578.5L1536.8 578.3L1537.2 578.1L1537.6 578L1538 577.7L1538.4 577.4L1538.8 577L1539.2 576.6L1539.6 576.1L1540 575.5L1540.4 574.9L1540.8 574.3L1541.2 573.7L1541.6 573.1L1542 572.6L1542.4 572.1L1542.8 571.7L1543.2 571.3L1543.6 571.1L1544 570.8L1544.4 570.7L1544.8 570.5L1545.2 570.4L1545.6 570.2L1546 570L1546.4 569.8L1546.8 569.5L1547.2 569.2L1547.6 568.8L1548 568.3L1548.4 567.7L1548.8 567.1L1549.2 566.5L1549.6 565.9L1550 565.3L1550.4 564.8L1550.8 564.3L1551.2 563.9L1551.6 563.5L1552 563.2L1552.4 563L1552.8 562.8L1553.2 562.6L1553.6 562.5L1554 562.4L1554.4 562.2L1554.8 562L1555.2 561.7L1555.6 561.4L1556 561L1556.4 560.5L1556.8 559.9L1557.2 559.3L1557.6 558.7L1558 558.1L1558.4 557.5L1558.8 557L1559.2 556.5L1559.6 556.1L1560 555.7L1560.4 555.4L1560.8 555.2L1561.2 555L1561.6 554.9L1562 554.7L1562.4 554.6L1562.8 554.4L1563.2 554.2L1563.6 553.9L1564 553.6L1564.4 553.2L1564.8 552.7L1565.2 552.1L1565.6 551.6L1566 550.9L1566.4 550.3L1566.8 549.8L1567.2 549.2L1567.6 548.7L1568 548.3L1568.4 548L1568.8 547.7L1569.2 547.5L1569.6 547.3L1570 547.2L1570.4 547.1L1570.8 546.9L1571.2 546.7L1571.6 546.5L1572 546.2L1572.4 545.9L1572.8 545.4L1573.2 544.9L1573.6 544.4L1574 543.8L1574.4 543.1L1574.8 542.5L1575.2 542L1575.6 541.4L1576 541L1576.4 540.6L1576.8 540.3L1577.2 540L1577.6 539.8L1578 539.7L1578.4 539.6L1578.8 539.5L1579.2 539.3L1579.6 539.1L1580 538.9L1580.4 538.5L1580.8 538.1L1581.2 537.7L1581.6 537.1L1582 536.6L1582.4 536L1582.8 535.3L1583.2 534.8L1583.6 534.2L1584 533.7L1584.4 533.3L1584.8 532.9L1585.2 532.7L1585.6 532.5L1586 532.3L1586.4 532.2L1586.8 532.1L1587.2 531.9L1587.6 531.8L1588 531.5L1588.4 531.2L1588.8 530.9L1589.2 530.4L1589.6 529.9L1590 529.3L1590.4 528.7L1590.8 528.1L1591.2 527.5L1591.6 527L1592 526.5L1592.4 526L1592.8 525.7L1593.2 525.4L1593.6 525.2L1594 525L1594.4 524.9L1594.8 524.8L1595.2 524.6L1595.6 524.5L1596 524.3L1596.4 524L1596.8 523.6L1597.2 523.2L1597.6 522.7L1598 522.1L1598.4 521.5L1598.8 520.9L1599.2 520.3L1599.6 519.8L1600 519.2L1600.4 518.8L1600.8 518.4L1601.2 518.1L1601.6 517.9L1602 517.8L1602.4 517.6L1602.8 517.5L1603.2 517.4L1603.6 517.2L1604 517L1604.4 516.8L1604.8 516.4L1605.2 516L1605.6 515.5L1606 514.9L1606.4 514.3L1606.8 513.7L1607.2 513.1L1607.6 512.5L1608 512L1608.4 511.6L1608.8 511.2L1609.2 510.9L1609.6 510.7L1610 510.6L1610.4 510.5L1610.8 510.4L1611.2 510.2L1611.6 510.1L1612 509.9L1612.4 509.6L1612.8 509.2L1613.2 508.8L1613.6 508.3L1614 507.7L1614.4 507.1L1614.8 506.5L1615.2 505.9L1615.6 505.3L1616 504.8L1616.4 504.4L1616.8 504.1L1617.2 503.8L1617.6 503.6L1618 503.5L1618.4 503.4L1618.8 503.3L1619.2 503.1L1619.6 503L1620 502.7L1620.4 502.4L1620.8 502.1L1621.2 501.6L1621.6 501.1L1622 500.5L1622.4 499.9L1622.8 499.3L1623.2 498.7L1623.6 498.2L1624 497.7L1624.4 497.3L1624.8 497L1625.2 496.7L1625.6 496.6L1626 496.4L1626.4 496.3L1626.8 496.2L1627.2 496.1L1627.6 495.9L1628 495.7L1628.4 495.3L1628.8 494.9L1629.2 494.4L1629.6 493.9L1630 493.3L1630.4 492.7L1630.8 492.1L1631.2 491.5L1631.6 491L1632 490.6L1632.4 490.2L1632.8 489.9L1633.2 489.7L1633.6 489.6L1634 489.5L1634.4 489.4L1634.8 489.2L1635.2 489.1L1635.6 488.9L1636 488.6L1636.4 488.2L1636.8 487.8L1637.2 487.3L1637.6 486.7L1638 486.1L1638.4 485.5L1638.8 484.9L1639.2 484.4L1639.6 483.9L1640 483.5L1640.4 483.2L1640.8 482.9L1641.2 482.8L1641.6 482.6L1642 482.5L1642.4 482.4L1642.8 482.3L1643.2 482.1L1643.6 481.9L1644 481.6L1644.4 481.1L1644.8 480.7L1645.2 480.1L1645.6 479.5L1646 478.9L1646.4 478.3L1646.8 477.7L1647.2 477.2L1647.6 476.8L1648 476.5L1648.4 476.2L1648.8 476L1649.2 475.9L1649.6 475.8L1650 475.7L1650.4 475.6L1650.8 475.4L1651.2 475.2L1651.6 474.9L1652 474.5L1652.4 474L1652.8 473.5L1653.2 472.9L1653.6 472.3L1654 471.7L1654.4 471.1L1654.8 470.6L1655.2 470.2L1655.6 469.8L1656 469.5L1656.4 469.3L1656.8 469.2L1657.2 469.1L1657.6 469L1658 468.9L1658.4 468.8L1658.8 468.6L1659.2 468.3L1659.6 467.9L1660 467.4L1660.4 466.9L1660.8 466.3L1661.2 465.7L1661.6 465.1L1662 464.5L1662.4 464L1662.8 463.6L1663.2 463.2L1663.6 462.9L1664 462.7L1664.4 462.6L1664.8 462.5L1665.2 462.4L1665.6 462.3L1666 462.2L1666.4 462L1666.8 461.7L1667.2 461.3L1667.6 460.9L1668 460.3L1668.4 459.8L1668.8 459.2L1669.2 458.5L1669.6 458L1670 457.4L1670.4 457L1670.8 456.6L1671.2 456.3L1671.6 456.1L1672 456L1672.4 455.9L1672.8 455.8L1673.2 455.7L1673.6 455.6L1674 455.4L1674.4 455.1L1674.8 454.7L1675.2 454.3L1675.6 453.8L1676 453.2L1676.4 452.6L1676.8 452L1677.2 451.4L1677.6 450.9L1678 450.4L1678.4 450.1L1678.8 449.8L1679.2 449.6L1679.6 449.5L1680 449.4L1680.4 449.3L1680.8 449.2L1681.2 449.1L1681.6 448.9L1682 448.6L1682.4 448.2L1682.8 447.7L1683.2 447.2L1683.6 446.6L1684 446L1684.4 445.4L1684.8 444.9L1685.2 444.4L1685.6 443.9L1686 443.6L1686.4 443.3L1686.8 443.2L1687.2 443.1L1687.6 443L1688 442.9L1688.4 442.8L1688.8 442.6L1689.2 442.4L1689.6 442.1L1690 441.7L1690.4 441.2L1690.8 440.7L1691.2 440.1L1691.6 439.5L1692 438.9L1692.4 438.3L1692.8 437.8L1693.2 437.5L1693.6 437.1L1694 436.9L1694.4 436.8L1694.8 436.7L1695.2 436.6L1695.6 436.5L1696 436.4L1696.4 436.2L1696.8 436L1697.2 435.6L1697.6 435.2L1698 434.7L1698.4 434.1L1698.8 433.5L1699.2 432.9L1699.6 432.3L1700 431.8L1700.4 431.4L1700.8 431L1701.2 430.8L1701.6 430.6L1702 430.5L1702.4 430.4L1702.8 430.3L1703.2 430.2L1703.6 430.1L1704 429.9L1704.4 429.6L1704.8 429.2L1705.2 428.7L1705.6 428.2L1706 427.6L1706.4 427L1706.8 426.4L1707.2 425.9L1707.6 425.4L1708 425L1708.4 424.7L1708.8 424.5L1709.2 424.3L1709.6 424.2L1710 424.2L1710.4 424.1L1710.8 424L1711.2 423.8L1711.6 423.6L1712 423.2L1712.4 422.8L1712.8 422.3L1713.2 421.7L1713.6 421.1L1714 420.5L1714.4 419.9L1714.8 419.4L1715.2 419L1715.6 418.6L1716 418.4L1716.4 418.2L1716.8 418.2L1717.2 418.1L1717.6 418L1718 417.9L1718.4 417.8L1718.8 417.6L1719.2 417.2L1719.6 416.8L1720 416.3L1720.4 415.8L1720.8 415.2L1721.2 414.6L1721.6 414L1722 413.5L1722.4 413L1722.8 412.7L1723.2 412.4L1723.6 412.2L1724 412.1L1724.4 412.1L1724.8 412L1725.2 411.9L1725.6 411.8L1726 411.6L1726.4 411.3L1726.8 410.9L1727.2 410.4L1727.6 409.9L1728 409.3L1728.4 408.7L1728.8 408.1L1729.2 407.6L1729.6 407.1L1730 406.7L1730.4 406.5L1730.8 406.3L1731.2 406.2L1731.6 406.1L1732 406.1L1732.4 406L1732.8 405.9L1733.2 405.7L1733.6 405.4L1734 405L1734.4 404.5L1734.8 404L1735.2 403.4L1735.6 402.8L1736 402.2L1736.4 401.7L1736.8 401.2L1737.2 400.9L1737.6 400.6L1738 400.4L1738.4 400.3L1738.8 400.3L1739.2 400.2L1739.6 400.1L1740 400L1740.4 399.8L1740.8 399.5L1741.2 399.1L1741.6 398.7L1742 398.1L1742.4 397.5L1742.8 396.9L1743.2 396.3L1743.6 395.8L1744 395.4L1744.4 395L1744.8 394.8L1745.2 394.6L1745.6 394.5L1746 394.5L1746.4 394.4L1746.8 394.3L1747.2 394.2L1747.6 394L1748 393.7L1748.4 393.3L1748.8 392.8L1749.2 392.3L1749.6 391.7L1750 391.1L1750.4 390.5L1750.8 390L1751.2 389.6L1751.6 389.2L1752 389L1752.4 388.8L1752.8 388.8L1753.2 388.7L1753.6 388.7L1754 388.6L1754.4 388.5L1754.8 388.2L1755.2 387.9L1755.6 387.5L1756 387L1756.4 386.4L1756.8 385.8L1757.2 385.2L1757.6 384.7L1758 384.2L1758.4 383.8L1758.8 383.5L1759.2 383.3L1759.6 383.2L1760 383.1L1760.4 383.1L1760.8 383L1761.2 382.9L1761.6 382.8L1762 382.5L1762.4 382.2L1762.8 381.7L1763.2 381.2L1763.6 380.6L1764 380L1764.4 379.4L1764.8 378.9L1765.2 378.4L1765.6 378.1L1766 377.8L1766.4 377.7L1766.8 377.6L1767.2 377.5L1767.6 377.5L1768 377.4L1768.4 377.3L1768.8 377.1L1769.2 376.8L1769.6 376.5L1770 376L1770.4 375.4L1770.8 374.8L1771.2 374.2L1771.6 373.7L1772 373.2L1772.4 372.8L1772.8 372.4L1773.2 372.2L1773.6 372.1L1774 372.1L1774.4 372L1774.8 372L1775.2 371.9L1775.6 371.8L1776 371.5L1776.4 371.2L1776.8 370.7L1777.2 370.2L1777.6 369.6L1778 369L1778.4 368.4L1778.8 367.9L1779.2 367.5L1779.6 367.1L1780 366.9L1780.4 366.7L1780.8 366.7L1781.2 366.6L1781.6 366.6L1782 366.6L1782.4 366.4L1782.8 366.2L1783.2 365.9L1783.6 365.5L1784 365L1784.4 364.4L1784.8 363.9L1785.2 363.3L1785.6 362.7L1786 362.3L1786.4 361.9L1786.8 361.6L1787.2 361.4L1787.6 361.4L1788 361.3L1788.4 361.3L1788.8 361.3L1789.2 361.2L1789.6 361L1790 360.7L1790.4 360.3L1790.8 359.8L1791.2 359.3L1791.6 358.7L1792 358.1L1792.4 357.5L1792.8 357.1L1793.2 356.7L1793.6 356.4L1794 356.2L1794.4 356.1L1794.8 356.1L1795.2 356.1L1795.6 356L1796 356L1796.4 355.8L1796.8 355.5L1797.2 355.2L1797.6 354.7L1798 354.1L1798.4 353.6L1798.8 353L1799.2 352.4L1799.6 351.9L1800 351.5L1800.4 351.2L1800.8 351L1801.2 350.9L1801.6 350.9L1802 350.9L1802.4 350.9L1802.8 350.8L1803.2 350.6L1803.6 350.4L1804 350L1804.4 349.6L1804.8 349L1805.2 348.4L1805.6 347.8L1806 347.3L1806.4 346.8L1806.8 346.4L1807.2 346.1L1807.6 345.9L1808 345.8L1808.4 345.8L1808.8 345.8L1809.2 345.8L1809.6 345.7L1810 345.6L1810.4 345.3L1810.8 344.9L1811.2 344.5L1811.6 343.9L1812 343.3L1812.4 342.7L1812.8 342.2L1813.2 341.7L1813.6 341.3L1814 341L1814.4 340.9L1814.8 340.8L1815.2 340.8L1815.6 340.8L1816 340.8L1816.4 340.7L1816.8 340.5L1817.2 340.2L1817.6 339.9L1818 339.4L1818.4 338.8L1818.8 338.2L1819.2 337.6L1819.6 337.1L1820 336.6L1820.4 336.3L1820.8 336L1821.2 335.9L1821.6 335.8L1822 335.8L1822.4 335.8L1822.8 335.8L1823.2 335.7L1823.6 335.5L1824 335.2L1824.4 334.8L1824.8 334.3L1825.2 333.7L1825.6 333.2L1826 332.6L1826.4 332.1L1826.8 331.6L1827.2 331.3L1827.6 331.1L1828 331L1828.4 331L1828.8 331L1829.2 331L1829.6 330.9L1830 330.8L1830.4 330.6L1830.8 330.2L1831.2 329.8L1831.6 329.3L1832 328.7L1832.4 328.1L1832.8 327.6L1833.2 327.1L1833.6 326.7L1834 326.4L1834.4 326.2L1834.8 326.2L1835.2 326.1L1835.6 326.2L1836 326.1L1836.4 326.1L1836.8 325.9L1837.2 325.7L1837.6 325.3L1838 324.8L1838.4 324.3L1838.8 323.7L1839.2 323.1L1839.6 322.6L1840 322.1L1840.4 321.8L1840.8 321.6L1841.2 321.4L1841.6 321.4L1842 321.4L1842.4 321.4L1842.8 321.4L1843.2 321.3L1843.6 321.1L1844 320.8L1844.4 320.4L1844.8 319.8L1845.2 319.3L1845.6 318.7L1846 318.1L1846.4 317.6L1846.8 317.2L1847.2 317L1847.6 316.8L1848 316.7L1848.4 316.7L1848.8 316.7L1849.2 316.7L1849.6 316.7L1850 316.5L1850.4 316.3L1850.8 315.9L1851.2 315.4L1851.6 314.9L1852 314.3L1852.4 313.7L1852.8 313.2L1853.2 312.8L1853.6 312.4L1854 312.2L1854.4 312.1L1854.8 312.1L1855.2 312.1L1855.6 312.1L1856 312.1L1856.4 312L1856.8 311.8L1857.2 311.5L1857.6 311L1858 310.5L1858.4 309.9L1858.8 309.4L1859.2 308.8L1859.6 308.3L1860 308L1860.4 307.7L1860.8 307.6L1861.2 307.5L1861.6 307.6L1862 307.6L1862.4 307.6L1862.8 307.5L1863.2 307.3L1863.6 307.1L1864 306.7L1864.4 306.2L1864.8 305.6L1865.2 305L1865.6 304.5L1866 304L1866.4 303.6L1866.8 303.3L1867.2 303.1L1867.6 303.1L1868 303.1L1868.4 303.1L1868.8 303.1L1869.2 303.1L1869.6 302.9L1870 302.7L1870.4 302.3L1870.8 301.8L1871.2 301.3L1871.6 300.7L1872 300.1L1872.4 299.6L1872.8 299.2L1873.2 298.9L1873.6 298.7L1874 298.7L1874.4 298.7L1874.8 298.7L1875.2 298.7L1875.6 298.7L1876 298.6L1876.4 298.3L1876.8 298L1877.2 297.5L1877.6 297L1878 296.4L1878.4 295.9L1878.8 295.3L1879.2 294.9L1879.6 294.6L1880 294.4L1880.4 294.3L1880.8 294.3L1881.2 294.3L1881.6 294.4L1882 294.4L1882.4 294.3L1882.8 294.1L1883.2 293.7L1883.6 293.3L1884 292.7L1884.4 292.2L1884.8 291.6L1885.2 291.1L1885.6 290.6L1886 290.3L1886.4 290.1L1886.8 290L1887.2 290L1887.6 290.1L1888 290.1L1888.4 290.1L1888.8 290L1889.2 289.8L1889.6 289.5L1890 289L1890.4 288.5L1890.8 287.9L1891.2 287.4L1891.6 286.9L1892 286.4L1892.4 286.1L1892.8 285.9L1893.2 285.8L1893.6 285.8L1894 285.9L1894.4 285.9L1894.8 285.9L1895.2 285.8L1895.6 285.6L1896 285.3L1896.4 284.8L1896.8 284.3L1897.2 283.8L1897.6 283.2L1898 282.7L1898.4 282.2L1898.8 281.9L1899.2 281.7L1899.6 281.7L1900 281.7L1900.4 281.7L1900.8 281.8L1901.2 281.8L1901.6 281.7L1902 281.5L1902.4 281.1L1902.8 280.7L1903.2 280.2L1903.6 279.6L1904 279L1904.4 278.5L1904.8 278.1L1905.2 277.8L1905.6 277.6L1906 277.6L1906.4 277.6L1906.8 277.7L1907.2 277.7L1907.6 277.7L1908 277.6L1908.4 277.4L1908.8 277L1909.2 276.5L1909.6 276L1910 275.4L1910.4 274.9L1910.8 274.4L1911.2 274L1911.6 273.8L1912 273.6L1912.4 273.6L1912.8 273.6L1913.2 273.7L1913.6 273.7L1914 273.7L1914.4 273.6L1914.8 273.3L1915.2 272.9L1915.6 272.4L1916 271.9L1916.4 271.3L1916.8 270.8L1917.2 270.3L1917.6 270L1918 269.8L1918.4 269.6L1918.8 269.6L1919.2 269.7L1919.6 269.8L1920 269.8L1920.4 269.7L1920.8 269.6L1921.2 269.3L1921.6 268.9L1922 268.4L1922.4 267.8L1922.8 267.2L1923.2 266.7L1923.6 266.3L1924 266L1924.4 265.8L1924.8 265.8L1925.2 265.8L1925.6 265.8L1926 265.9L1926.4 265.9L1926.8 265.8L1927.2 265.6L1927.6 265.3L1928 264.8L1928.4 264.3L1928.8 263.8L1929.2 263.2L1929.6 262.7L1930 262.3L1930.4 262.1L1930.8 262L1931.2 261.9L1931.6 262L1932 262.1L1932.4 262.1L1932.8 262.1L1933.2 262L1933.6 261.7L1934 261.3L1934.4 260.8L1934.8 260.3L1935.2 259.7L1935.6 259.2L1936 258.8L1936.4 258.4L1936.8 258.3L1937.2 258.2L1937.6 258.2L1938 258.3L1938.4 258.4L1938.8 258.4L1939.2 258.3L1939.6 258.1L1940 257.8L1940.4 257.4L1940.8 256.8L1941.2 256.3L1941.6 255.7L1942 255.3L1942.4 254.9L1942.8 254.6L1943.2 254.5L1943.6 254.5L1944 254.6L1944.4 254.7L1944.8 254.7L1945.2 254.7L1945.6 254.6L1946 254.3L1946.4 253.9L1946.8 253.4L1947.2 252.9L1947.6 252.3L1948 251.8L1948.4 251.4L1948.8 251.1L1949.2 250.9L1949.6 250.9L1950 250.9L1950.4 251L1950.8 251.1L1951.2 251.1L1951.6 251L1952 250.8L1952.4 250.5L1952.8 250L1953.2 249.5L1953.6 248.9L1954 248.4L1954.4 247.9L1954.8 247.6L1955.2 247.4L1955.6 247.3L1956 247.3L1956.4 247.4L1956.8 247.5L1957.2 247.6L1957.6 247.5L1958 247.3L1958.4 247L1958.8 246.6L1959.2 246.1L1959.6 245.6L1960 245L1960.4 244.5L1960.8 244.2L1961.2 243.9L1961.6 243.8L1962 243.8L1962.4 243.9L1962.8 244L1963.2 244.1L1963.6 244.1L1964 243.9L1964.4 243.7L1964.8 243.3L1965.2 242.8L1965.6 242.2L1966 241.7L1966.4 241.2L1966.8 240.8L1967.2 240.5L1967.6 240.4L1968 240.4L1968.4 240.5L1968.8 240.6L1969.2 240.6L1969.6 240.6L1970 240.5L1970.4 240.3L1970.8 239.9L1971.2 239.5L1971.6 238.9L1972 238.4L1972.4 237.9L1972.8 237.5L1973.2 237.2L1973.6 237L1974 237L1974.4 237.1L1974.8 237.2L1975.2 237.3L1975.6 237.3L1976 237.2L1976.4 237L1976.8 236.6L1977.2 236.2L1977.6 235.6L1978 235.1L1978.4 234.6L1978.8 234.2L1979.2 233.9L1979.6 233.7L1980 233.7L1980.4 233.8L1980.8 233.9L1981.2 234L1981.6 234L1982 233.9L1982.4 233.7L1982.8 233.4L1983.2 232.9L1983.6 232.4L1984 231.8L1984.4 231.3L1984.8 230.9L1985.2 230.6L1985.6 230.5L1986 230.4L1986.4 230.5L1986.8 230.6L1987.2 230.7L1987.6 230.8L1988 230.7L1988.4 230.5L1988.8 230.1L1989.2 229.7L1989.6 229.1L1990 228.6L1990.4 228.1L1990.8 227.7L1991.2 227.4L1991.6 227.3L1992 227.2L1992.4 227.3L1992.8 227.4L1993.2 227.6L1993.6 227.6L1994 227.5L1994.4 227.3L1994.8 226.9L1995.2 226.4L1995.6 225.9L1996 225.4L1996.4 224.9L1996.8 224.5L1997.2 224.2L1997.6 224.1L1998 224.1L1998.4 224.2L1998.8 224.3L1999.2 224.4L1999.6 224.5L2000 224.4L2000.4 224.1L2000.8 223.7L2001.2 223.3L2001.6 222.7L2002 222.2L2002.4 221.7L2002.8 221.3L2003.2 221.1L2003.6 221L2004 221.1L2004.4 221.2L2004.8 221.3L2005.2 221.4L2005.6 221.4L2006 221.3L2006.4 221L2006.8 220.6L2007.2 220.1L2007.6 219.6L2008 219L2008.4 218.6L2008.8 218.3L2009.2 218.1L2009.6 218L2010 218.1L2010.4 218.2L2010.8 218.3L2011.2 218.4L2011.6 218.4L2012 218.2L2012.4 217.9L2012.8 217.5L2013.2 217L2013.6 216.4L2014 215.9L2014.4 215.5L2014.8 215.2L2015.2 215.1L2015.6 215.1L2016 215.2L2016.4 215.3L2016.8 215.4L2017.2 215.5L2017.6 215.4L2018 215.2L2018.4 214.8L2018.8 214.4L2019.2 213.9L2019.6 213.3L2020 212.8L2020.4 212.5L2020.8 212.2L2021.2 212.2L2021.6 212.2L2022 212.3L2022.4 212.5L2022.8 212.6L2023.2 212.6L2023.6 212.5L2024 212.2L2024.4 211.8L2024.8 211.3L2025.2 210.8L2025.6 210.3L2026 209.8L2026.4 209.5L2026.8 209.3L2027.2 209.3L2027.6 209.4L2028 209.5L2028.4 209.7L2028.8 209.8L2029.2 209.7L2029.6 209.5L2030 209.2L2030.4 208.8L2030.8 208.2L2031.2 207.7L2031.6 207.2L2032 206.9L2032.4 206.6L2032.8 206.5L2033.2 206.6L2033.6 206.7L2034 206.8L2034.4 207L2034.8 207L2035.2 206.9L2035.6 206.6L2036 206.2L2036.4 205.7L2036.8 205.2L2037.2 204.7L2037.6 204.3L2038 204L2038.4 203.8L2038.8 203.8L2039.2 203.9L2039.6 204.1L2040 204.2L2040.4 204.3L2040.8 204.2L2041.2 204L2041.6 203.7L2042 203.2L2042.4 202.7L2042.8 202.2L2043.2 201.7L2043.6 201.4L2044 201.2L2044.4 201.1L2044.8 201.2L2045.2 201.3L2045.6 201.5L2046 201.6L2046.4 201.6L2046.8 201.5L2047.2 201.2L2047.6 200.8L2048 200.3L2048.4 199.7L2048.8 199.2L2049.2 198.8L2049.6 198.6L2050 198.5L2050.4 198.5L2050.8 198.7L2051.2 198.8L2051.6 199L2052 199L2052.4 198.9L2052.8 198.7L2053.2 198.3L2053.6 197.8L2054 197.3L2054.4 196.8L2054.8 196.4L2055.2 196.1L2055.6 195.9L2056 195.9L2056.4 196.1L2056.8 196.2L2057.2 196.4L2057.6 196.5L2058 196.4L2058.4 196.2L2058.8 195.9L2059.2 195.4L2059.6 194.9L2060 194.3L2060.4 193.9L2060.8 193.6L2061.2 193.4L2061.6 193.4L2062 193.5L2062.4 193.7L2062.8 193.9L2063.2 194L2063.6 193.9L2064 193.8L2064.4 193.4L2064.8 193L2065.2 192.5L2065.6 191.9L2066 191.5L2066.4 191.2L2066.8 191L2067.2 190.9L2067.6 191L2068 191.2L2068.4 191.4L2068.8 191.5L2069.2 191.5L2069.6 191.3L2070 191L2070.4 190.6L2070.8 190.1L2071.2 189.6L2071.6 189.1L2072 188.8L2072.4 188.6L2072.8 188.5L2073.2 188.6L2073.6 188.8L2074 189L2074.4 189.1L2074.8 189.1L2075.2 189L2075.6 188.7L2076 188.2L2076.4 187.7L2076.8 187.2L2077.2 186.7L2077.6 186.4L2078 186.2L2078.4 186.2L2078.8 186.3L2079.2 186.4L2079.6 186.6L2080 186.8L2080.4 186.8L2080.8 186.6L2081.2 186.3L2081.6 185.9L2082 185.4L2082.4 184.8L2082.8 184.4L2083.2 184.1L2083.6 183.9L2084 183.9L2084.4 184L2084.8 184.1L2085.2 184.3L2085.6 184.5L2086 184.5L2086.4 184.3L2086.8 184L2087.2 183.5L2087.6 183L2088 182.5L2088.4 182.1L2088.8 181.8L2089.2 181.6L2089.6 181.6L2090 181.7L2090.4 181.9L2090.8 182.1L2091.2 182.2L2091.6 182.2L2092 182L2092.4 181.7L2092.8 181.2L2093.2 180.7L2093.6 180.2L2094 179.8L2094.4 179.5L2094.8 179.4L2095.2 179.4L2095.6 179.5L2096 179.7L2096.4 179.9L2096.8 180L2097.2 180L2097.6 179.8L2098 179.4L2098.4 178.9L2098.8 178.4L2099.2 177.9L2099.6 177.5L2100 177.3L2100.4 177.2L2100.8 177.2L2101.2 177.4L2101.6 177.6L2102 177.8L2102.4 177.9L2102.8 177.8L2103.2 177.5L2103.6 177.1L2104 176.7L2104.4 176.1L2104.8 175.7L2105.2 175.3L2105.6 175.1L2106 175.1L2106.4 175.2L2106.8 175.3L2107.2 175.6L2107.6 175.7L2108 175.7L2108.4 175.6L2108.8 175.3L2109.2 174.9L2109.6 174.4L2110 173.9L2110.4 173.4L2110.8 173.1L2111.2 173L2111.6 173L2112 173.1L2112.4 173.3L2112.8 173.5L2113.2 173.7L2113.6 173.7L2114 173.5L2114.4 173.1L2114.8 172.7L2115.2 172.2L2115.6 171.7L2116 171.3L2116.4 171L2116.8 170.9L2117.2 171L2117.6 171.2L2118 171.4L2118.4 171.6L2118.8 171.7L2119.2 171.6L2119.6 171.3L2120 170.9L2120.4 170.5L2120.8 169.9L2121.2 169.5L2121.6 169.1L2122 169L2122.4 168.9L2122.8 169.1L2123.2 169.3L2123.6 169.5L2124 169.6L2124.4 169.7L2124.8 169.5L2125.2 169.2L2125.6 168.8L2126 168.2L2126.4 167.8L2126.8 167.3L2127.2 167.1L2127.6 167L2128 167L2128.4 167.2L2128.8 167.4L2129.2 167.6L2129.6 167.7L2130 167.7L2130.4 167.4L2130.8 167.1L2131.2 166.6L2131.6 166.1L2132 165.6L2132.4 165.3L2132.8 165.1L2133.2 165.1L2133.6 165.2L2134 165.4L2134.4 165.6L2134.8 165.8L2135.2 165.8L2135.6 165.7L2136 165.4L2136.4 164.9L2136.8 164.4L2137.2 163.9L2137.6 163.5L2138 163.3L2138.4 163.2L2138.8 163.3L2139.2 163.5L2139.6 163.7L2140 163.9L2140.4 164L2140.8 163.9L2141.2 163.7L2141.6 163.3L2142 162.8L2142.4 162.3L2142.8 161.8L2143.2 161.5L2143.6 161.4L2144 161.4L2144.4 161.5L2144.8 161.8L2145.2 162L2145.6 162.1L2146 162.1L2146.4 162L2146.8 161.6L2147.2 161.1L2147.6 160.6L2148 160.2L2148.4 159.8L2148.8 159.6L2149.2 159.6L2149.6 159.7L2150 159.9L2150.4 160.1L2150.8 160.3L2151.2 160.4L2151.6 160.3L2152 160L2152.4 159.5L2152.8 159L2153.2 158.5L2153.6 158.1L2154 157.9L2154.4 157.8L2154.8 157.9L2155.2 158.1L2155.6 158.3L2156 158.5L2156.4 158.6L2156.8 158.6L2157.2 158.3L2157.6 157.9L2158 157.4L2158.4 156.9L2158.8 156.5L2159.2 156.2L2159.6 156.1L2160 156.1L2160.4 156.3L2160.8 156.6L2161.2 156.8L2161.6 156.9L2162 156.9L2162.4 156.7L2162.8 156.3L2163.2 155.9L2163.6 155.4L2164 154.9L2164.4 154.6L2164.8 154.4L2165.2 154.5L2165.6 154.6L2166 154.9L2166.4 155.1L2166.8 155.3L2167.2 155.3L2167.6 155.1L2168 154.8L2168.4 154.3L2168.8 153.8L2169.2 153.4L2169.6 153L2170 152.8L2170.4 152.8L2170.8 153L2171.2 153.2L2171.6 153.5L2172 153.6L2172.4 153.7L2172.8 153.5L2173.2 153.2L2173.6 152.8L2174 152.3L2174.4 151.8L2174.8 151.4L2175.2 151.2L2175.6 151.2L2176 151.4L2176.4 151.6L2176.8 151.9L2177.2 152L2177.6 152.1L2178 152L2178.4 151.7L2178.8 151.3L2179.2 150.8L2179.6 150.3L2180 149.9L2180.4 149.7L2180.8 149.7L2181.2 149.8L2181.6 150L2182 150.3L2182.4 150.5L2182.8 150.6L2183.2 150.5L2183.6 150.2L2184 149.8L2184.4 149.3L2184.8 148.8L2185.2 148.4L2185.6 148.2L2186 148.2L2186.4 148.3L2186.8 148.5L2187.2 148.8L2187.6 149L2188 149.1L2188.4 149L2188.8 148.7L2189.2 148.3L2189.6 147.8L2190 147.3L2190.4 146.9L2190.8 146.7L2191.2 146.7L2191.6 146.8L2192 147.1L2192.4 147.4L2192.8 147.6L2193.2 147.6L2193.6 147.5L2194 147.2L2194.4 146.8L2194.8 146.3L2195.2 145.9L2195.6 145.5L2196 145.3L2196.4 145.3L2196.8 145.4L2197.2 145.7L2197.6 146L2198 146.2L2198.4 146.2L2198.8 146.1L2199.2 145.8L2199.6 145.4L2200 144.9L2200.4 144.4L2200.8 144.1L2201.2 143.9L2201.6 143.9L2202 144.1L2202.4 144.4L2202.8 144.6L2203.2 144.8L2203.6 144.9L2204 144.7L2204.4 144.4L2204.8 144L2205.2 143.5L2205.6 143L2206 142.7L2206.4 142.6L2206.8 142.6L2207.2 142.8L2207.6 143.1L2208 143.4L2208.4 143.5L2208.8 143.5L2209.2 143.4L2209.6 143L2210 142.6L2210.4 142.1L2210.8 141.6L2211.2 141.4L2211.6 141.3L2212 141.3L2212.4 141.6L2212.8 141.9L2213.2 142.1L2213.6 142.3L2214 142.2L2214.4 142L2214.8 141.6L2215.2 141.2L2215.6 140.7L2216 140.3L2216.4 140.1L2216.8 140L2217.2 140.1L2217.6 140.4L2218 140.7L2218.4 140.9L2218.8 141L2219.2 141L2219.6 140.7L2220 140.3L2220.4 139.8L2220.8 139.3L2221.2 139L2221.6 138.8L2222 138.8L2222.4 139L2222.8 139.3L2223.2 139.6L2223.6 139.8L2224 139.8L2224.4 139.7L2224.8 139.4L2225.2 139L2225.6 138.5L2226 138L2226.4 137.7L2226.8 137.6L2227.2 137.7L2227.6 137.9L2228 138.2L2228.4 138.5L2228.8 138.7L2229.2 138.7L2229.6 138.5L2230 138.1L2230.4 137.6L2230.8 137.2L2231.2 136.8L2231.6 136.5L2232 136.5L2232.4 136.7L2232.8 136.9L2233.2 137.2L2233.6 137.5L2234 137.6L2234.4 137.5L2234.8 137.2L2235.2 136.8L2235.6 136.4L2236 135.9L2236.4 135.6L2236.8 135.4L2237.2 135.5L2237.6 135.7L2238 136L2238.4 136.3L2238.8 136.5L2239.2 136.5L2239.6 136.4L2240 136L2240.4 135.6L2240.8 135.1L2241.2 134.7L2241.6 134.4L2242 134.4L2242.4 134.5L2242.8 134.8L2243.2 135.1L2243.6 135.4L2244 135.5L2244.4 135.4L2244.8 135.2L2245.2 134.8L2245.6 134.3L2246 133.9L2246.4 133.5L2246.8 133.4L2247.2 133.4L2247.6 133.6L2248 134L2248.4 134.3L2248.8 134.5L2249.2 134.5L2249.6 134.4L2250 134L2250.4 133.6L2250.8 133.1L2251.2 132.7L2251.6 132.4L2252 132.5L2252.4 132.7L2252.8 132.9L2253.2 133.2L2253.6 133.4L2254 133.5L2254.4 133.4L2254.8 133.2L2255.2 133L2255.6 132.5L2256 132L2256.4 131.6L2256.8 131.3L2257.2 131.4L2257.6 131.7L2258 132.3L2258.4 132.7L2258.8 132.9L2259.2 132.7L2259.6 132.3L2260 131.8L2260.4 131.4L2260.8 131.2L2261.2 131.1L2261.6 131L2262 130.9L2262.4 130.8L2262.8 130.9L2263.2 131.1L2263.6 131.6L2264 132L2264.4 132.1L2264.8 131.8L2265.2 131.1L2265.6 130.2L2266 129.6L2266.4 129.5L2266.8 129.8L2267.2 130.4L2267.6 130.8L2268 130.9L2268.4 130.8L2268.8 130.5L2269.2 130.4L2269.6 130.5L2270 130.6L2270.4 130.4L2270.8 130L2271.2 129.3L2271.6 128.6L2272 128.5L2272.4 128.9L2272.8 129.7L2273.2 130.6L2273.6 131L2274 130.7L2274.4 129.9L2274.8 129L2275.2 128.5L2275.6 128.5L2276 128.8L2276.4 129L2276.8 129.1L2277.2 128.8L2277.6 128.4L2278 128.4L2278.4 128.9L2278.8 129.5L2279.2 130L2279.6 129.9L2280 129.1L2280.4 127.9L2280.8 127L2281.2 126.7L2281.6 127.2L2282 128.2L2282.4 129.1L2282.8 129.4L2283.2 129L2283.6 128.3L2284 127.7L2284.4 127.7L2284.8 128L2285.2 128.3L2285.6 128.2L2286 127.6L2286.4 126.7L2286.8 126.2L2287.2 126.4L2287.6 127.4L2288 128.6L2288.4 129.3L2288.8 129.2L2289.2 128.1L2289.6 126.7L2290 125.8L2290.4 125.7L2290.8 126.4L2291.2 127.3L2291.6 127.8L2292 127.6L2292.4 126.9L2292.8 126.4L2293.2 126.4L2293.6 127L2294 127.8L2294.4 128.1L2294.8 127.6L2295.2 126.3L2295.6 125L2296 124.4L2296.4 124.9L2296.8 126.3L2297.2 127.7L2297.6 128.4L2298 127.9L2298.4 126.7L2298.8 125.5L2299.2 125L2299.6 125.3L2300 126.1L2300.4 126.7L2300.8 126.5L2301.2 125.7L2301.6 124.9L2302 124.6L2302.4 125.3L2302.8 126.6L2303.2 127.7L2303.6 127.8L2304 126.8L2304.4 125.1L2304.8 123.7L2305.2 123.3L2305.6 124.1L2306 125.6L2306.4 126.7L2306.8 127L2307.2 126.3L2307.6 125.2L2308 124.5L2308.4 124.6L2308.8 125.4L2309.2 126.1L2309.6 126.1L2310 125.2L2310.4 124L2310.8 123.2L2311.2 123.4L2311.6 124.6L2312 126.2L2312.4 127.2L2312.8 127L2313.2 125.7L2313.6 124L2314 122.9L2314.4 122.9L2314.8 123.9L2315.2 125.1L2315.6 125.8L2316 125.5L2316.4 124.6L2316.8 123.8L2317.2 123.8L2317.6 124.6L2318 125.6L2318.4 126L2318.8 125.5L2319.2 124.1L2319.6 122.6L2320 122L2320.4 122.7L2320.8 124.2L2321.2 125.8L2321.6 126.5L2322 125.9L2322.4 124.5L2322.8 123.1L2323.2 122.5L2323.6 123L2324 124L2324.4 124.8L2324.8 124.8L2325.2 124L2325.6 123.1L2326 122.8L2326.4 123.4L2326.8 124.7L2327.2 125.7L2327.6 125.8L2328 124.7L2328.4 123L2328.8 121.6L2329.2 121.4L2329.6 122.5L2330 124.1L2330.4 125.5L2330.8 125.7L2331.2 124.8L2331.6 123.4L2332 122.5L2332.4 122.6L2332.8 123.4L2333.2 124.2L2333.6 124.5L2334 123.8L2334.4 122.6L2334.8 121.9L2335.2 122.1L2335.6 123.4L2336 124.9L2336.4 125.8L2336.8 125.4L2337.2 123.8L2337.6 122L2338 121L2338.4 121.3L2338.8 122.6L2339.2 124.2L2339.6 125L2340 124.7L2340.4 123.6L2340.8 122.6L2341.2 122.3L2341.6 122.9L2342 123.9L2342.4 124.4L2342.8 124L2343.2 122.8L2343.6 121.5L2344 121.2L2344.4 122L2344.8 123.7L2345.2 125.2L2345.6 125.7L2346 124.8L2346.4 123L2346.8 121.4L2347.2 120.9L2347.6 121.6L2348 123.1L2348.4 124.3L2348.8 124.5L2349.2 123.8L2349.6 122.7L2350 122.1L2350.4 122.5L2350.8 123.5L2351.2 124.4L2351.6 124.5L2352 123.4L2352.4 121.9L2352.8 120.8L2353.2 121L2353.6 122.4L2354 124.3L2354.4 125.5L2354.8 125.4L2355.2 124L2355.6 122.2L2356 121.1L2356.4 121.1L2356.8 122.3L2357.2 123.6L2357.6 124.3L2358 124L2358.4 122.9L2358.8 122.1L2359.2 122.1L2359.6 123L2360 124.3L2360.4 124.9L2360.8 124.3L2361.2 122.8L2361.6 121.2L2362 120.6L2362.4 121.3L2362.8 123.2L2363.2 125L2363.6 125.7L2364 125L2364.4 123.3L2364.8 121.7L2365.2 121.1L2365.6 121.8L2366 123.1L2366.4 124.2L2366.8 124.3L2367.2 123.4L2367.6 122.4L2368 122L2368.4 122.6L2368.8 123.9L2369.2 125L2369.6 125.1L2370 123.9L2370.4 122.1L2370.8 120.8L2371.2 120.8L2371.6 122.2L2372 124.2L2372.4 125.7L2372.8 125.7L2373.2 124.5L2373.6 122.8L2374 121.6L2374.4 121.7L2374.8 122.8L2375.2 124L2375.6 124.6L2376 124.1L2376.4 123L2376.8 122.2L2377.2 122.3L2377.6 123.5L2378 125L2378.4 125.7L2378.8 125.1L2379.2 123.5L2379.6 121.7L2380 120.9L2380.4 121.6L2380.8 123.5L2381.2 125.4L2381.6 126.3L2382 125.7L2382.4 124L2382.8 122.5L2383.2 121.9L2383.6 122.6L2384 123.9L2384.4 124.9L2384.8 125L2385.2 124L2385.6 122.9L2386 122.5L2386.4 123.3L2386.8 124.8L2387.2 126L2387.6 126.1" stroke="#00ff00"/>
<path d="M1379.2 832.5L1379.6 832.1L1380 831.7L1380.4 831.3L1380.8 830.7L1381.2 830.2L1381.6 829.6L1382 829L1382.4 828.4L1382.8 827.8L1383.2 827.2L1383.6 826.7L1384 826.1L1384.4 825.7L1384.8 825.2L1385.2 824.9L1385.6 824.6L1386 824.3L1386.4 824L1386.8 823.8L1387.2 823.6L1387.6 823.4L1388 823.2L1388.4 822.9L1388.8 822.6L1389.2 822.3L1389.6 821.9L1390 821.5L1390.4 821L1390.8 820.5L1391.2 820L1391.6 819.4L1392 818.8L1392.4 818.2L1392.8 817.6L1393.2 817L1393.6 816.4L1394 815.9L1394.4 815.5L1394.8 815.1L1395.2 814.7L1395.6 814.4L1396 814.1L1396.4 813.9L1396.8 813.7L1397.2 813.5L1397.6 813.3L1398 813L1398.4 812.8L1398.8 812.5L1399.2 812.1L1399.6 811.7L1400 811.3L1400.4 810.8L1400.8 810.3L1401.2 809.7L1401.6 809.1L1402 808.5L1402.4 807.9L1402.8 807.3L1403.2 806.7L1403.6 806.2L1404 805.7L1404.4 805.3L1404.8 804.9L1405.2 804.5L1405.6 804.2L1406 804L1406.4 803.8L1406.8 803.6L1407.2 803.4L1407.6 803.2L1408 802.9L1408.4 802.6L1408.8 802.3L1409.2 802L1409.6 801.5L1410 801.1L1410.4 800.5L1410.8 800L1411.2 799.4L1411.6 798.8L1412 798.2L1412.4 797.6L1412.8 797L1413.2 796.4L1413.6 795.9L1414 795.5L1414.4 795.1L1414.8 794.7L1415.2 794.4L1415.6 794.2L1416 793.9L1416.4 793.7L1416.8 793.5L1417.2 793.3L1417.6 793.1L1418 792.8L1418.4 792.5L1418.8 792.2L1419.2 791.8L1419.6 791.3L1420 790.8L1420.4 790.2L1420.8 789.7L1421.2 789L1421.6 788.4L1422 787.8L1422.4 787.2L1422.8 786.7L1423.2 786.2L1423.6 785.7L1424 785.3L1424.4 784.9L1424.8 784.6L1425.2 784.4L1425.6 784.2L1426 783.9L1426.4 783.7L1426.8 783.5L1427.2 783.3L1427.6 783.1L1428 782.8L1428.4 782.4L1428.8 782L1429.2 781.5L1429.6 781L1430 780.5L1430.4 779.9L1430.8 779.3L1431.2 778.6L1431.6 778L1432 777.5L1432.4 776.9L1432.8 776.4L1433.2 775.9L1433.6 775.5L1434 775.2L1434.4 774.9L1434.8 774.6L1435.2 774.4L1435.6 774.2L1436 774L1436.4 773.8L1436.8 773.6L1437.2 773.3L1437.6 773L1438 772.6L1438.4 772.2L1438.8 771.8L1439.2 771.2L1439.6 770.7L1440 770.1L1440.4 769.5L1440.8 768.8L1441.2 768.2L1441.6 767.6L1442 767.1L1442.4 766.6L1442.8 766.2L1443.2 765.8L1443.6 765.5L1444 765.2L1444.4 765L1444.8 764.7L1445.2 764.6L1445.6 764.4L1446 764.1L1446.4 763.9L1446.8 763.6L1447.2 763.3L1447.6 762.9L1448 762.5L1448.4 762L1448.8 761.4L1449.2 760.8L1449.6 760.2L1450 759.6L1450.4 759L1450.8 758.4L1451.2 757.8L1451.6 757.3L1452 756.9L1452.4 756.4L1452.8 756.1L1453.2 755.8L1453.6 755.6L1454 755.3L1454.4 755.1L1454.8 754.9L1455.2 754.7L1455.6 754.5L1456 754.3L1456.4 754L1456.8 753.6L1457.2 753.2L1457.6 752.7L1458 752.2L1458.4 751.6L1458.8 751L1459.2 750.4L1459.6 749.7L1460 749.1L1460.4 748.6L1460.8 748L1461.2 747.6L1461.6 747.1L1462 746.8L1462.4 746.5L1462.8 746.2L1463.2 746L1463.6 745.8L1464 745.6L1464.4 745.4L1464.8 745.2L1465.2 744.9L1465.6 744.6L1466 744.3L1466.4 743.9L1466.8 743.4L1467.2 742.9L1467.6 742.3L1468 741.7L1468.4 741.1L1468.8 740.5L1469.2 739.9L1469.6 739.3L1470 738.8L1470.4 738.3L1470.8 737.8L1471.2 737.5L1471.6 737.2L1472 736.9L1472.4 736.7L1472.8 736.5L1473.2 736.3L1473.6 736.1L1474 735.9L1474.4 735.7L1474.8 735.4L1475.2 735L1475.6 734.6L1476 734.1L1476.4 733.6L1476.8 733L1477.2 732.4L1477.6 731.8L1478 731.2L1478.4 730.6L1478.8 730L1479.2 729.5L1479.6 729L1480 728.6L1480.4 728.2L1480.8 727.9L1481.2 727.7L1481.6 727.5L1482 727.3L1482.4 727.1L1482.8 726.9L1483.2 726.7L1483.6 726.4L1484 726.1L1484.4 725.8L1484.8 725.3L1485.2 724.8L1485.6 724.3L1486 723.7L1486.4 723.1L1486.8 722.5L1487.2 721.9L1487.6 721.3L1488 720.7L1488.4 720.2L1488.8 719.8L1489.2 719.4L1489.6 719L1490 718.8L1490.4 718.5L1490.8 718.3L1491.2 718.2L1491.6 718L1492 717.8L1492.4 717.6L1492.8 717.3L1493.2 716.9L1493.6 716.5L1494 716.1L1494.4 715.6L1494.8 715L1495.2 714.4L1495.6 713.8L1496 713.1L1496.4 712.5L1496.8 712L1497.2 711.4L1497.6 711L1498 710.5L1498.4 710.2L1498.8 709.9L1499.2 709.7L1499.6 709.5L1500 709.3L1500.4 709.1L1500.8 708.9L1501.2 708.7L1501.6 708.4L1502 708.1L1502.4 707.8L1502.8 707.3L1503.2 706.8L1503.6 706.3L1504 705.7L1504.4 705L1504.8 704.4L1505.2 703.8L1505.6 703.2L1506 702.7L1506.4 702.2L1506.8 701.8L1507.2 701.4L1507.6 701.1L1508 700.9L1508.4 700.7L1508.8 700.5L1509.2 700.3L1509.6 700.1L1510 699.9L1510.4 699.7L1510.8 699.4L1511.2 699L1511.6 698.6L1512 698.1L1512.4 697.5L1512.8 696.9L1513.2 696.3L1513.6 695.7L1514 695.1L1514.4 694.5L1514.8 693.9L1515.2 693.5L1515.6 693L1516 692.7L1516.4 692.4L1516.8 692.1L1517.2 691.9L1517.6 691.8L1518 691.6L1518.4 691.4L1518.8 691.2L1519.2 690.9L1519.6 690.6L1520 690.3L1520.4 689.8L1520.8 689.3L1521.2 688.8L1521.6 688.2L1522 687.6L1522.4 686.9L1522.8 686.3L1523.2 685.7L1523.6 685.2L1524 684.7L1524.4 684.3L1524.8 684L1525.2 683.7L1525.6 683.5L1526 683.3L1526.4 683.1L1526.8 682.9L1527.2 682.8L1527.6 682.6L1528 682.3L1528.4 682L1528.8 681.6L1529.2 681.1L1529.6 680.6L1530 680L1530.4 679.4L1530.8 678.8L1531.2 678.2L1531.6 677.6L1532 677L1532.4 676.5L1532.8 676L1533.2 675.7L1533.6 675.3L1534 675.1L1534.4 674.9L1534.8 674.7L1535.2 674.6L1535.6 674.4L1536 674.2L1536.4 674L1536.8 673.7L1537.2 673.3L1537.6 672.9L1538 672.4L1538.4 671.9L1538.8 671.3L1539.2 670.7L1539.6 670L1540 669.4L1540.4 668.8L1540.8 668.3L1541.2 667.8L1541.6 667.4L1542 667.1L1542.4 666.8L1542.8 666.6L1543.2 666.4L1543.6 666.2L1544 666.1L1544.4 665.9L1544.8 665.7L1545.2 665.4L1545.6 665.1L1546 664.7L1546.4 664.2L1546.8 663.7L1547.2 663.1L1547.6 662.5L1548 661.9L1548.4 661.3L1548.8 660.7L1549.2 660.1L1549.6 659.6L1550 659.2L1550.4 658.9L1550.8 658.6L1551.2 658.3L1551.6 658.2L1552 658L1552.4 657.9L1552.8 657.7L1553.2 657.5L1553.6 657.2L1554 656.9L1554.4 656.5L1554.8 656.1L1555.2 655.6L1555.6 655L1556 654.4L1556.4 653.8L1556.8 653.1L1557.2 652.5L1557.6 652L1558 651.5L1558.4 651.1L1558.8 650.7L1559.2 650.4L1559.6 650.2L1560 650L1560.4 649.9L1560.8 649.7L1561.2 649.6L1561.6 649.4L1562 649.1L1562.4 648.8L1562.8 648.4L1563.2 647.9L1563.6 647.4L1564 646.8L1564.4 646.2L1564.8 645.6L1565.2 645L1565.6 644.4L1566 643.8L1566.4 643.4L1566.8 643L1567.2 642.6L1567.6 642.3L1568 642.1L1568.4 642L1568.8 641.8L1569.2 641.7L1569.6 641.5L1570 641.3L1570.4 641L1570.8 640.7L1571.2 640.3L1571.6 639.8L1572 639.3L1572.4 638.7L1572.8 638.1L1573.2 637.5L1573.6 636.8L1574 636.3L1574.4 635.7L1574.8 635.3L1575.2 634.9L1575.6 634.6L1576 634.3L1576.4 634.1L1576.8 634L1577.2 633.8L1577.6 633.7L1578 633.5L1578.4 633.3L1578.8 633L1579.2 632.7L1579.6 632.2L1580 631.7L1580.4 631.2L1580.8 630.6L1581.2 629.9L1581.6 629.3L1582 628.7L1582.4 628.2L1582.8 627.7L1583.2 627.2L1583.6 626.9L1584 626.6L1584.4 626.4L1584.8 626.3L1585.2 626.1L1585.6 626L1586 625.8L1586.4 625.6L1586.8 625.4L1587.2 625L1587.6 624.6L1588 624.2L1588.4 623.6L1588.8 623L1589.2 622.4L1589.6 621.8L1590 621.2L1590.4 620.6L1590.8 620.1L1591.2 619.7L1591.6 619.3L1592 619L1592.4 618.8L1592.8 618.6L1593.2 618.5L1593.6 618.3L1594 618.2L1594.4 618L1594.8 617.8L1595.2 617.5L1595.6 617.1L1596 616.6L1596.4 616.1L1596.8 615.5L1597.2 614.9L1597.6 614.3L1598 613.6L1598.4 613.1L1598.8 612.6L1599.2 612.1L1599.6 611.7L1600 611.5L1600.4 611.2L1600.8 611.1L1601.2 610.9L1601.6 610.8L1602 610.7L1602.4 610.5L1602.8 610.2L1603.2 609.9L1603.6 609.6L1604 609.1L1604.4 608.6L1604.8 608L1605.2 607.4L1605.6 606.7L1606 606.1L1606.4 605.6L1606.8 605L1607.2 604.6L1607.6 604.2L1608 604L1608.4 603.7L1608.8 603.6L1609.2 603.5L1609.6 603.3L1610 603.2L1610.4 603L1610.8 602.8L1611.2 602.5L1611.6 602.1L1612 601.6L1612.4 601.1L1612.8 600.5L1613.2 599.9L1613.6 599.2L1614 598.6L1614.4 598.1L1614.8 597.6L1615.2 597.1L1615.6 596.8L1616 596.5L1616.4 596.3L1616.8 596.2L1617.2 596.1L1617.6 595.9L1618 595.8L1618.4 595.6L1618.8 595.4L1619.2 595L1619.6 594.6L1620 594.1L1620.4 593.6L1620.8 593L1621.2 592.4L1621.6 591.8L1622 591.2L1622.4 590.6L1622.8 590.1L1623.2 589.7L1623.6 589.4L1624 589.2L1624.4 589L1624.8 588.9L1625.2 588.7L1625.6 588.6L1626 588.5L1626.4 588.3L1626.8 588L1627.2 587.6L1627.6 587.2L1628 586.7L1628.4 586.1L1628.8 585.5L1629.2 584.9L1629.6 584.3L1630 583.7L1630.4 583.2L1630.8 582.7L1631.2 582.4L1631.6 582.1L1632 581.9L1632.4 581.7L1632.8 581.6L1633.2 581.5L1633.6 581.4L1634 581.2L1634.4 581L1634.8 580.7L1635.2 580.3L1635.6 579.8L1636 579.3L1636.4 578.7L1636.8 578.1L1637.2 577.4L1637.6 576.8L1638 576.3L1638.4 575.8L1638.8 575.4L1639.2 575.1L1639.6 574.8L1640 574.7L1640.4 574.5L1640.8 574.4L1641.2 574.3L1641.6 574.2L1642 574L1642.4 573.7L1642.8 573.4L1643.2 572.9L1643.6 572.4L1644 571.8L1644.4 571.2L1644.8 570.6L1645.2 570L1645.6 569.4L1646 568.9L1646.4 568.5L1646.8 568.1L1647.2 567.9L1647.6 567.7L1648 567.5L1648.4 567.4L1648.8 567.3L1649.2 567.2L1649.6 567L1650 566.8L1650.4 566.5L1650.8 566.1L1651.2 565.6L1651.6 565L1652 564.4L1652.4 563.8L1652.8 563.2L1653.2 562.6L1653.6 562.1L1654 561.6L1654.4 561.3L1654.8 561L1655.2 560.8L1655.6 560.6L1656 560.5L1656.4 560.4L1656.8 560.3L1657.2 560.1L1657.6 559.9L1658 559.6L1658.4 559.2L1658.8 558.8L1659.2 558.2L1659.6 557.6L1660 557L1660.4 556.4L1660.8 555.8L1661.2 555.3L1661.6 554.8L1662 554.4L1662.4 554.1L1662.8 553.9L1663.2 553.8L1663.6 553.7L1664 553.6L1664.4 553.5L1664.8 553.3L1665.2 553.1L1665.6 552.8L1666 552.4L1666.4 552L1666.8 551.4L1667.2 550.8L1667.6 550.2L1668 549.6L1668.4 549L1668.8 548.5L1669.2 548L1669.6 547.6L1670 547.3L1670.4 547.1L1670.8 547L1671.2 546.9L1671.6 546.8L1672 546.7L1672.4 546.5L1672.8 546.3L1673.2 546L1673.6 545.7L1674 545.2L1674.4 544.7L1674.8 544.1L1675.2 543.4L1675.6 542.8L1676 542.2L1676.4 541.7L1676.8 541.3L1677.2 540.9L1677.6 540.6L1678 540.4L1678.4 540.3L1678.8 540.2L1679.2 540.1L1679.6 540L1680 539.8L1680.4 539.6L1680.8 539.3L1681.2 538.9L1681.6 538.4L1682 537.9L1682.4 537.3L1682.8 536.7L1683.2 536.1L1683.6 535.5L1684 535L1684.4 534.5L1684.8 534.2L1685.2 533.9L1685.6 533.7L1686 533.6L1686.4 533.5L1686.8 533.4L1687.2 533.3L1687.6 533.2L1688 532.9L1688.4 532.6L1688.8 532.2L1689.2 531.7L1689.6 531.2L1690 530.6L1690.4 529.9L1690.8 529.3L1691.2 528.8L1691.6 528.3L1692 527.9L1692.4 527.5L1692.8 527.3L1693.2 527.2L1693.6 527L1694 527L1694.4 526.9L1694.8 526.8L1695.2 526.6L1695.6 526.3L1696 526L1696.4 525.5L1696.8 525L1697.2 524.4L1697.6 523.8L1698 523.2L1698.4 522.6L1698.8 522.1L1699.2 521.6L1699.6 521.2L1700 521L1700.4 520.8L1700.8 520.6L1701.2 520.6L1701.6 520.5L1702 520.4L1702.4 520.2L1702.8 520L1703.2 519.7L1703.6 519.3L1704 518.8L1704.4 518.3L1704.8 517.7L1705.2 517.1L1705.6 516.5L1706 515.9L1706.4 515.4L1706.8 515L1707.2 514.7L1707.6 514.5L1708 514.3L1708.4 514.2L1708.8 514.1L1709.2 514.1L1709.6 513.9L1710 513.8L1710.4 513.5L1710.8 513.1L1711.2 512.7L1711.6 512.2L1712 511.6L1712.4 511L1712.8 510.4L1713.2 509.8L1713.6 509.3L1714 508.8L1714.4 508.5L1714.8 508.2L1715.2 508L1715.6 507.9L1716 507.9L1716.4 507.8L1716.8 507.7L1717.2 507.5L1717.6 507.3L1718 507L1718.4 506.6L1718.8 506.1L1719.2 505.5L1719.6 504.9L1720 504.3L1720.4 503.7L1720.8 503.1L1721.2 502.7L1721.6 502.3L1722 502L1722.4 501.8L1722.8 501.7L1723.2 501.6L1723.6 501.6L1724 501.5L1724.4 501.4L1724.8 501.1L1725.2 500.8L1725.6 500.5L1726 500L1726.4 499.4L1726.8 498.8L1727.2 498.2L1727.6 497.6L1728 497.1L1728.4 496.6L1728.8 496.2L1729.2 495.9L1729.6 495.7L1730 495.6L1730.4 495.5L1730.8 495.4L1731.2 495.4L1731.6 495.2L1732 495L1732.4 494.7L1732.8 494.4L1733.2 493.9L1733.6 493.3L1734 492.7L1734.4 492.1L1734.8 491.5L1735.2 491L1735.6 490.5L1736 490.1L1736.4 489.8L1736.8 489.6L1737.2 489.5L1737.6 489.4L1738 489.4L1738.4 489.3L1738.8 489.2L1739.2 489L1739.6 488.7L1740 488.3L1740.4 487.8L1740.8 487.3L1741.2 486.7L1741.6 486.1L1742 485.5L1742.4 484.9L1742.8 484.4L1743.2 484.1L1743.6 483.8L1744 483.6L1744.4 483.5L1744.8 483.4L1745.2 483.4L1745.6 483.3L1746 483.2L1746.4 483L1746.8 482.7L1747.2 482.3L1747.6 481.8L1748 481.2L1748.4 480.6L1748.8 480L1749.2 479.4L1749.6 478.9L1750 478.4L1750.4 478.1L1750.8 477.8L1751.2 477.6L1751.6 477.5L1752 477.5L1752.4 477.4L1752.8 477.3L1753.2 477.2L1753.6 477L1754 476.7L1754.4 476.3L1754.8 475.8L1755.2 475.2L1755.6 474.6L1756 474L1756.4 473.4L1756.8 472.9L1757.2 472.4L1757.6 472.1L1758 471.9L1758.4 471.7L1758.8 471.7L1759.2 471.6L1759.6 471.6L1760 471.5L1760.4 471.3L1760.8 471.1L1761.2 470.7L1761.6 470.3L1762 469.7L1762.4 469.2L1762.8 468.5L1763.2 467.9L1763.6 467.4L1764 466.9L1764.4 466.5L1764.8 466.2L1765.2 466L1765.6 465.9L1766 465.8L1766.4 465.8L1766.8 465.7L1767.2 465.6L1767.6 465.4L1768 465.2L1768.4 464.8L1768.8 464.3L1769.2 463.7L1769.6 463.1L1770 462.5L1770.4 461.9L1770.8 461.4L1771.2 461L1771.6 460.6L1772 460.4L1772.4 460.2L1772.8 460.2L1773.2 460.1L1773.6 460.1L1774 460L1774.4 459.8L1774.8 459.6L1775.2 459.3L1775.6 458.8L1776 458.3L1776.4 457.7L1776.8 457.1L1777.2 456.5L1777.6 456L1778 455.5L1778.4 455.1L1778.8 454.8L1779.2 454.6L1779.6 454.5L1780 454.5L1780.4 454.5L1780.8 454.4L1781.2 454.3L1781.6 454.1L1782 453.8L1782.4 453.4L1782.8 452.9L1783.2 452.3L1783.6 451.7L1784 451.1L1784.4 450.5L1784.8 450L1785.2 449.6L1785.6 449.3L1786 449.1L1786.4 449L1786.8 448.9L1787.2 448.9L1787.6 448.8L1788 448.8L1788.4 448.6L1788.8 448.3L1789.2 447.9L1789.6 447.5L1790 446.9L1790.4 446.3L1790.8 445.7L1791.2 445.1L1791.6 444.6L1792 444.2L1792.4 443.8L1792.8 443.6L1793.2 443.5L1793.6 443.4L1794 443.4L1794.4 443.4L1794.8 443.3L1795.2 443.1L1795.6 442.9L1796 442.5L1796.4 442.1L1796.8 441.5L1797.2 440.9L1797.6 440.3L1798 439.7L1798.4 439.2L1798.8 438.8L1799.2 438.4L1799.6 438.2L1800 438.1L1800.4 438L1800.8 438L1801.2 437.9L1801.6 437.9L1802 437.7L1802.4 437.5L1802.8 437.1L1803.2 436.7L1803.6 436.1L1804 435.5L1804.4 434.9L1804.8 434.3L1805.2 433.8L1805.6 433.4L1806 433L1806.4 432.8L1806.8 432.7L1807.2 432.6L1807.6 432.6L1808 432.6L1808.4 432.5L1808.8 432.4L1809.2 432.1L1809.6 431.8L1810 431.3L1810.4 430.8L1810.8 430.2L1811.2 429.6L1811.6 429L1812 428.5L1812.4 428L1812.8 427.7L1813.2 427.5L1813.6 427.4L1814 427.3L1814.4 427.3L1814.8 427.3L1815.2 427.2L1815.6 427L1816 426.8L1816.4 426.4L1816.8 426L1817.2 425.4L1817.6 424.8L1818 424.2L1818.4 423.6L1818.8 423.1L1819.2 422.7L1819.6 422.4L1820 422.2L1820.4 422.1L1820.8 422.1L1821.2 422.1L1821.6 422L1822 421.9L1822.4 421.8L1822.8 421.5L1823.2 421.1L1823.6 420.6L1824 420L1824.4 419.4L1824.8 418.8L1825.2 418.3L1825.6 417.8L1826 417.4L1826.4 417.1L1826.8 417L1827.2 416.9L1827.6 416.9L1828 416.9L1828.4 416.8L1828.8 416.7L1829.2 416.5L1829.6 416.2L1830 415.8L1830.4 415.3L1830.8 414.7L1831.2 414.1L1831.6 413.5L1832 413L1832.4 412.5L1832.8 412.2L1833.2 412L1833.6 411.8L1834 411.8L1834.4 411.8L1834.8 411.8L1835.2 411.7L1835.6 411.6L1836 411.3L1836.4 411L1836.8 410.5L1837.2 410L1837.6 409.4L1838 408.8L1838.4 408.2L1838.8 407.7L1839.2 407.3L1839.6 407L1840 406.8L1840.4 406.7L1840.8 406.7L1841.2 406.7L1841.6 406.7L1842 406.6L1842.4 406.4L1842.8 406.1L1843.2 405.7L1843.6 405.2L1844 404.6L1844.4 404L1844.8 403.4L1845.2 402.9L1845.6 402.5L1846 402.1L1846.4 401.9L1846.8 401.8L1847.2 401.7L1847.6 401.7L1848 401.7L1848.4 401.7L1848.8 401.5L1849.2 401.3L1849.6 400.9L1850 400.5L1850.4 399.9L1850.8 399.3L1851.2 398.7L1851.6 398.2L1852 397.7L1852.4 397.3L1852.8 397L1853.2 396.8L1853.6 396.8L1854 396.8L1854.4 396.8L1854.8 396.7L1855.2 396.6L1855.6 396.5L1856 396.2L1856.4 395.7L1856.8 395.2L1857.2 394.6L1857.6 394L1858 393.5L1858.4 392.9L1858.8 392.5L1859.2 392.2L1859.6 392L1860 391.9L1860.4 391.9L1860.8 391.9L1861.2 391.9L1861.6 391.8L1862 391.6L1862.4 391.4L1862.8 391L1863.2 390.5L1863.6 390L1864 389.4L1864.4 388.8L1864.8 388.2L1865.2 387.8L1865.6 387.4L1866 387.2L1866.4 387.1L1866.8 387L1867.2 387L1867.6 387L1868 387L1868.4 386.9L1868.8 386.6L1869.2 386.3L1869.6 385.8L1870 385.3L1870.4 384.7L1870.8 384.1L1871.2 383.5L1871.6 383L1872 382.7L1872.4 382.4L1872.8 382.3L1873.2 382.2L1873.6 382.2L1874 382.2L1874.4 382.2L1874.8 382.1L1875.2 381.9L1875.6 381.6L1876 381.2L1876.4 380.6L1876.8 380L1877.2 379.4L1877.6 378.9L1878 378.4L1878.4 378L1878.8 377.7L1879.2 377.6L1879.6 377.5L1880 377.5L1880.4 377.5L1880.8 377.5L1881.2 377.4L1881.6 377.2L1882 376.9L1882.4 376.5L1882.8 376L1883.2 375.4L1883.6 374.8L1884 374.2L1884.4 373.7L1884.8 373.3L1885.2 373L1885.6 372.9L1886 372.8L1886.4 372.8L1886.8 372.8L1887.2 372.8L1887.6 372.7L1888 372.6L1888.4 372.3L1888.8 371.9L1889.2 371.3L1889.6 370.8L1890 370.2L1890.4 369.6L1890.8 369.1L1891.2 368.7L1891.6 368.4L1892 368.2L1892.4 368.2L1892.8 368.2L1893.2 368.2L1893.6 368.2L1894 368.1L1894.4 367.9L1894.8 367.7L1895.2 367.2L1895.6 366.7L1896 366.1L1896.4 365.5L1896.8 365L1897.2 364.5L1897.6 364.1L1898 363.8L1898.4 363.6L1898.8 363.6L1899.2 363.6L1899.6 363.6L1900 363.6L1900.4 363.5L1900.8 363.4L1901.2 363.1L1901.6 362.6L1902 362.1L1902.4 361.5L1902.8 360.9L1903.2 360.4L1903.6 359.9L1904 359.5L1904.4 359.2L1904.8 359.1L1905.2 359.1L1905.6 359.1L1906 359.1L1906.4 359.1L1906.8 359L1907.2 358.8L1907.6 358.5L1908 358L1908.4 357.5L1908.8 356.9L1909.2 356.3L1909.6 355.8L1910 355.3L1910.4 354.9L1910.8 354.7L1911.2 354.6L1911.6 354.6L1912 354.6L1912.4 354.6L1912.8 354.6L1913.2 354.5L1913.6 354.3L1914 353.9L1914.4 353.5L1914.8 352.9L1915.2 352.3L1915.6 351.7L1916 351.2L1916.4 350.8L1916.8 350.4L1917.2 350.2L1917.6 350.2L1918 350.2L1918.4 350.2L1918.8 350.2L1919.2 350.2L1919.6 350L1920 349.8L1920.4 349.4L1920.8 348.9L1921.2 348.3L1921.6 347.7L1922 347.2L1922.4 346.7L1922.8 346.3L1923.2 346L1923.6 345.8L1924 345.8L1924.4 345.8L1924.8 345.8L1925.2 345.8L1925.6 345.8L1926 345.6L1926.4 345.3L1926.8 344.9L1927.2 344.4L1927.6 343.8L1928 343.2L1928.4 342.6L1928.8 342.2L1929.2 341.8L1929.6 341.6L1930 341.5L1930.4 341.5L1930.8 341.5L1931.2 341.5L1931.6 341.5L1932 341.4L1932.4 341.2L1932.8 340.8L1933.2 340.4L1933.6 339.8L1934 339.2L1934.4 338.6L1934.8 338.1L1935.2 337.7L1935.6 337.4L1936 337.2L1936.4 337.2L1936.8 337.2L1937.2 337.2L1937.6 337.3L1938 337.2L1938.4 337L1938.8 336.8L1939.2 336.3L1939.6 335.8L1940 335.3L1940.4 334.7L1940.8 334.1L1941.2 333.6L1941.6 333.3L1942 333L1942.4 332.9L1942.8 332.9L1943.2 333L1943.6 333L1944 333L1944.4 332.9L1944.8 332.7L1945.2 332.3L1945.6 331.9L1946 331.3L1946.4 330.7L1946.8 330.1L1947.2 329.6L1947.6 329.2L1948 328.9L1948.4 328.8L1948.8 328.7L1949.2 328.8L1949.6 328.8L1950 328.9L1950.4 328.8L1950.8 328.6L1951.2 328.3L1951.6 327.9L1952 327.3L1952.4 326.8L1952.8 326.2L1953.2 325.6L1953.6 325.2L1954 324.9L1954.4 324.7L1954.8 324.6L1955.2 324.6L1955.6 324.7L1956 324.7L1956.4 324.7L1956.8 324.6L1957.2 324.3L1957.6 323.9L1958 323.4L1958.4 322.8L1958.8 322.2L1959.2 321.7L1959.6 321.2L1960 320.8L1960.4 320.6L1960.8 320.5L1961.2 320.5L1961.6 320.6L1962 320.6L1962.4 320.6L1962.8 320.5L1963.2 320.3L1963.6 319.9L1964 319.5L1964.4 318.9L1964.8 318.3L1965.2 317.7L1965.6 317.2L1966 316.8L1966.4 316.6L1966.8 316.5L1967.2 316.5L1967.6 316.5L1968 316.6L1968.4 316.6L1968.8 316.5L1969.2 316.3L1969.6 316L1970 315.5L1970.4 315L1970.8 314.4L1971.2 313.8L1971.6 313.3L1972 312.9L1972.4 312.6L1972.8 312.5L1973.2 312.5L1973.6 312.5L1974 312.6L1974.4 312.6L1974.8 312.5L1975.2 312.4L1975.6 312L1976 311.6L1976.4 311.1L1976.8 310.5L1977.2 309.9L1977.6 309.4L1978 309L1978.4 308.7L1978.8 308.5L1979.2 308.5L1979.6 308.6L1980 308.6L1980.4 308.7L1980.8 308.6L1981.2 308.4L1981.6 308.1L1982 307.7L1982.4 307.1L1982.8 306.5L1983.2 306L1983.6 305.4L1984 305L1984.4 304.8L1984.8 304.6L1985.2 304.6L1985.6 304.6L1986 304.7L1986.4 304.8L1986.8 304.7L1987.2 304.5L1987.6 304.2L1988 303.8L1988.4 303.2L1988.8 302.6L1989.2 302.1L1989.6 301.5L1990 301.1L1990.4 300.9L1990.8 300.7L1991.2 300.7L1991.6 300.8L1992 300.9L1992.4 300.9L1992.8 300.8L1993.2 300.7L1993.6 300.3L1994 299.9L1994.4 299.3L1994.8 298.7L1995.2 298.2L1995.6 297.7L1996 297.3L1996.4 297L1996.8 296.9L1997.2 296.9L1997.6 297L1998 297L1998.4 297.1L1998.8 297L1999.2 296.8L1999.6 296.5L2000 296L2000.4 295.4L2000.8 294.9L2001.2 294.3L2001.6 293.8L2002 293.4L2002.4 293.2L2002.8 293.1L2003.2 293.1L2003.6 293.2L2004 293.3L2004.4 293.3L2004.8 293.2L2005.2 293L2005.6 292.6L2006 292.1L2006.4 291.6L2006.8 291L2007.2 290.4L2007.6 289.9L2008 289.6L2008.4 289.4L2008.8 289.4L2009.2 289.4L2009.6 289.5L2010 289.6L2010.4 289.5L2010.8 289.4L2011.2 289.2L2011.6 288.8L2012 288.2L2012.4 287.7L2012.8 287.1L2013.2 286.6L2013.6 286.1L2014 285.8L2014.4 285.7L2014.8 285.7L2015.2 285.7L2015.6 285.8L2016 285.9L2016.4 285.8L2016.8 285.7L2017.2 285.4L2017.6 284.9L2018 284.4L2018.4 283.8L2018.8 283.2L2019.2 282.7L2019.6 282.3L2020 282.1L2020.4 282L2020.8 282L2021.2 282.1L2021.6 282.2L2022 282.2L2022.4 282.1L2022.8 281.9L2023.2 281.6L2023.6 281.1L2024 280.5L2024.4 279.9L2024.8 279.4L2025.2 278.9L2025.6 278.6L2026 278.4L2026.4 278.4L2026.8 278.4L2027.2 278.5L2027.6 278.6L2028 278.6L2028.4 278.5L2028.8 278.2L2029.2 277.7L2029.6 277.2L2030 276.6L2030.4 276.1L2030.8 275.5L2031.2 275.2L2031.6 274.9L2032 274.8L2032.4 274.8L2032.8 274.9L2033.2 275L2033.6 275L2034 275L2034.4 274.8L2034.8 274.4L2035.2 273.9L2035.6 273.4L2036 272.8L2036.4 272.2L2036.8 271.8L2037.2 271.5L2037.6 271.3L2038 271.3L2038.4 271.3L2038.8 271.4L2039.2 271.5L2039.6 271.5L2040 271.3L2040.4 271L2040.8 270.6L2041.2 270.1L2041.6 269.5L2042 268.9L2042.4 268.4L2042.8 268L2043.2 267.8L2043.6 267.8L2044 267.8L2044.4 267.9L2044.8 268L2045.2 268L2045.6 267.9L2046 267.7L2046.4 267.3L2046.8 266.8L2047.2 266.2L2047.6 265.6L2048 265.1L2048.4 264.7L2048.8 264.4L2049.2 264.3L2049.6 264.3L2050 264.4L2050.4 264.5L2050.8 264.6L2051.2 264.5L2051.6 264.3L2052 264L2052.4 263.5L2052.8 262.9L2053.2 262.4L2053.6 261.8L2054 261.4L2054.4 261L2054.8 260.9L2055.2 260.9L2055.6 261L2056 261.1L2056.4 261.1L2056.8 261.1L2057.2 261L2057.6 260.7L2058 260.2L2058.4 259.7L2058.8 259.1L2059.2 258.5L2059.6 258L2060 257.7L2060.4 257.5L2060.8 257.5L2061.2 257.6L2061.6 257.7L2062 257.8L2062.4 257.8L2062.8 257.6L2063.2 257.4L2063.6 256.9L2064 256.4L2064.4 255.8L2064.8 255.2L2065.2 254.8L2065.6 254.4L2066 254.2L2066.4 254.1L2066.8 254.2L2067.2 254.3L2067.6 254.4L2068 254.4L2068.4 254.3L2068.8 254.1L2069.2 253.7L2069.6 253.1L2070 252.5L2070.4 252L2070.8 251.5L2071.2 251.1L2071.6 250.9L2072 250.8L2072.4 250.9L2072.8 251L2073.2 251.1L2073.6 251.1L2074 251L2074.4 250.8L2074.8 250.4L2075.2 249.9L2075.6 249.3L2076 248.7L2076.4 248.2L2076.8 247.8L2077.2 247.6L2077.6 247.5L2078 247.6L2078.4 247.7L2078.8 247.8L2079.2 247.9L2079.6 247.8L2080 247.5L2080.4 247.1L2080.8 246.6L2081.2 246L2081.6 245.4L2082 244.9L2082.4 244.6L2082.8 244.4L2083.2 244.3L2083.6 244.4L2084 244.5L2084.4 244.6L2084.8 244.6L2085.2 244.5L2085.6 244.3L2086 243.9L2086.4 243.3L2086.8 242.8L2087.2 242.2L2087.6 241.7L2088 241.3L2088.4 241.1L2088.8 241.1L2089.2 241.2L2089.6 241.3L2090 241.4L2090.4 241.4L2090.8 241.3L2091.2 241L2091.6 240.6L2092 240.1L2092.4 239.5L2092.8 238.9L2093.2 238.5L2093.6 238.1L2094 238L2094.4 237.9L2094.8 238L2095.2 238.2L2095.6 238.3L2096 238.3L2096.4 238.1L2096.8 237.8L2097.2 237.4L2097.6 236.8L2098 236.2L2098.4 235.7L2098.8 235.2L2099.2 234.9L2099.6 234.8L2100 234.8L2100.4 234.9L2100.8 235.1L2101.2 235.2L2101.6 235.1L2102 235L2102.4 234.6L2102.8 234.1L2103.2 233.6L2103.6 233L2104 232.4L2104.4 232L2104.8 231.8L2105.2 231.7L2105.6 231.8L2106 231.9L2106.4 232L2106.8 232.1L2107.2 232L2107.6 231.8L2108 231.4L2108.4 230.9L2108.8 230.3L2109.2 229.7L2109.6 229.2L2110 228.9L2110.4 228.7L2110.8 228.6L2111.2 228.7L2111.6 228.9L2112 229L2112.4 229L2112.8 228.9L2113.2 228.6L2113.6 228.2L2114 227.6L2114.4 227L2114.8 226.5L2115.2 226L2115.6 225.7L2116 225.6L2116.4 225.6L2116.8 225.7L2117.2 225.9L2117.6 226L2118 226L2118.4 225.8L2118.8 225.4L2119.2 225L2119.6 224.4L2120 223.8L2120.4 223.3L2120.8 222.9L2121.2 222.7L2121.6 222.6L2122 222.7L2122.4 222.8L2122.8 222.9L2123.2 223L2123.6 222.9L2124 222.7L2124.4 222.3L2124.8 221.7L2125.2 221.1L2125.6 220.6L2126 220.1L2126.4 219.8L2126.8 219.6L2127.2 219.6L2127.6 219.8L2128 219.9L2128.4 220L2128.8 220L2129.2 219.9L2129.6 219.5L2130 219.1L2130.4 218.5L2130.8 217.9L2131.2 217.4L2131.6 217L2132 216.8L2132.4 216.7L2132.8 216.8L2133.2 216.9L2133.6 217L2134 217.1L2134.4 217L2134.8 216.8L2135.2 216.4L2135.6 215.8L2136 215.2L2136.4 214.7L2136.8 214.2L2137.2 213.9L2137.6 213.8L2138 213.8L2138.4 213.9L2138.8 214.1L2139.2 214.2L2139.6 214.2L2140 214L2140.4 213.7L2140.8 213.2L2141.2 212.6L2141.6 212L2142 211.5L2142.4 211.1L2142.8 210.9L2143.2 210.9L2143.6 211L2144 211.2L2144.4 211.3L2144.8 211.3L2145.2 211.2L2145.6 210.9L2146 210.5L2146.4 210L2146.8 209.4L2147.2 208.8L2147.6 208.4L2148 208.1L2148.4 208.1L2148.8 208.1L2149.2 208.3L2149.6 208.4L2150 208.5L2150.4 208.5L2150.8 208.2L2151.2 207.8L2151.6 207.3L2152 206.7L2152.4 206.2L2152.8 205.7L2153.2 205.4L2153.6 205.3L2154 205.3L2154.4 205.4L2154.8 205.6L2155.2 205.7L2155.6 205.7L2156 205.5L2156.4 205.2L2156.8 204.7L2157.2 204.1L2157.6 203.5L2158 203L2158.4 202.7L2158.8 202.5L2159.2 202.5L2159.6 202.6L2160 202.8L2160.4 202.9L2160.8 202.9L2161.2 202.8L2161.6 202.5L2162 202L2162.4 201.5L2162.8 200.9L2163.2 200.4L2163.6 200L2164 199.8L2164.4 199.7L2164.8 199.8L2165.2 200L2165.6 200.1L2166 200.2L2166.4 200.1L2166.8 199.8L2167.2 199.4L2167.6 198.9L2168 198.3L2168.4 197.7L2168.8 197.3L2169.2 197.1L2169.6 197L2170 197.1L2170.4 197.2L2170.8 197.4L2171.2 197.5L2171.6 197.4L2172 197.2L2172.4 196.8L2172.8 196.2L2173.2 195.7L2173.6 195.1L2174 194.7L2174.4 194.4L2174.8 194.3L2175.2 194.4L2175.6 194.5L2176 194.7L2176.4 194.8L2176.8 194.8L2177.2 194.6L2177.6 194.2L2178 193.6L2178.4 193.1L2178.8 192.5L2179.2 192.1L2179.6 191.8L2180 191.7L2180.4 191.7L2180.8 191.9L2181.2 192.1L2181.6 192.2L2182 192.1L2182.4 191.9L2182.8 191.6L2183.2 191L2183.6 190.5L2184 189.9L2184.4 189.5L2184.8 189.2L2185.2 189.1L2185.6 189.1L2186 189.3L2186.4 189.5L2186.8 189.6L2187.2 189.5L2187.6 189.3L2188 189L2188.4 188.4L2188.8 187.9L2189.2 187.3L2189.6 186.9L2190 186.6L2190.4 186.5L2190.8 186.5L2191.2 186.7L2191.6 186.9L2192 187L2192.4 187L2192.8 186.8L2193.2 186.4L2193.6 185.9L2194 185.3L2194.4 184.7L2194.8 184.3L2195.2 184L2195.6 183.9L2196 184L2196.4 184.2L2196.8 184.4L2197.2 184.5L2197.6 184.4L2198 184.2L2198.4 183.8L2198.8 183.3L2199.2 182.7L2199.6 182.2L2200 181.7L2200.4 181.5L2200.8 181.4L2201.2 181.5L2201.6 181.7L2202 181.9L2202.4 182L2202.8 181.9L2203.2 181.7L2203.6 181.2L2204 180.7L2204.4 180.1L2204.8 179.6L2205.2 179.2L2205.6 179L2206 178.9L2206.4 179.1L2206.8 179.2L2207.2 179.4L2207.6 179.5L2208 179.4L2208.4 179.1L2208.8 178.7L2209.2 178.1L2209.6 177.6L2210 177.1L2210.4 176.7L2210.8 176.5L2211.2 176.5L2211.6 176.6L2212 176.8L2212.4 177L2212.8 177.1L2213.2 176.9L2213.6 176.6L2214 176.2L2214.4 175.6L2214.8 175L2215.2 174.5L2215.6 174.2L2216 174.1L2216.4 174.1L2216.8 174.3L2217.2 174.5L2217.6 174.6L2218 174.6L2218.4 174.5L2218.8 174.1L2219.2 173.6L2219.6 173L2220 172.5L2220.4 172L2220.8 171.8L2221.2 171.7L2221.6 171.8L2222 172L2222.4 172.2L2222.8 172.3L2223.2 172.2L2223.6 172L2224 171.6L2224.4 171.1L2224.8 170.5L2225.2 170L2225.6 169.6L2226 169.4L2226.4 169.4L2226.8 169.5L2227.2 169.7L2227.6 169.9L2228 170L2228.4 169.9L2228.8 169.6L2229.2 169.1L2229.6 168.5L2230 168L2230.4 167.5L2230.8 167.2L2231.2 167L2231.6 167.1L2232 167.3L2232.4 167.5L2232.8 167.6L2233.2 167.6L2233.6 167.5L2234 167.1L2234.4 166.6L2234.8 166L2235.2 165.5L2235.6 165L2236 164.8L2236.4 164.8L2236.8 164.9L2237.2 165.1L2237.6 165.3L2238 165.4L2238.4 165.3L2238.8 165.1L2239.2 164.6L2239.6 164.1L2240 163.5L2240.4 163L2240.8 162.7L2241.2 162.5L2241.6 162.5L2242 162.7L2242.4 162.9L2242.8 163.1L2243.2 163.1L2243.6 163L2244 162.6L2244.4 162.1L2244.8 161.6L2245.2 161L2245.6 160.6L2246 160.3L2246.4 160.3L2246.8 160.4L2247.2 160.6L2247.6 160.8L2248 160.9L2248.4 160.9L2248.8 160.6L2249.2 160.2L2249.6 159.6L2250 159.1L2250.4 158.6L2250.8 158.2L2251.2 158.1L2251.6 158.2L2252 158.3L2252.4 158.6L2252.8 158.7L2253.2 158.8L2253.6 158.6L2254 158.2L2254.4 157.7L2254.8 157.1L2255.2 156.6L2255.6 156.2L2256 156L2256.4 156L2256.8 156.1L2257.2 156.3L2257.6 156.5L2258 156.6L2258.4 156.5L2258.8 156.3L2259.2 155.8L2259.6 155.2L2260 154.7L2260.4 154.2L2260.8 153.9L2261.2 153.8L2261.6 153.9L2262 154.1L2262.4 154.4L2262.8 154.5L2263.2 154.5L2263.6 154.3L2264 153.9L2264.4 153.3L2264.8 152.8L2265.2 152.3L2265.6 151.9L2266 151.7L2266.4 151.8L2266.8 152L2267.2 152.2L2267.6 152.4L2268 152.4L2268.4 152.3L2268.8 151.9L2269.2 151.4L2269.6 150.9L2270 150.3L2270.4 149.9L2270.8 149.7L2271.2 149.7L2271.6 149.9L2272 150.1L2272.4 150.3L2272.8 150.4L2273.2 150.3L2273.6 150L2274 149.5L2274.4 149L2274.8 148.4L2275.2 148L2275.6 147.7L2276 147.7L2276.4 147.8L2276.8 148L2277.2 148.3L2277.6 148.4L2278 148.3L2278.4 148.1L2278.8 147.6L2279.2 147.1L2279.6 146.5L2280 146.1L2280.4 145.8L2280.8 145.7L2281.2 145.8L2281.6 146L2282 146.2L2282.4 146.4L2282.8 146.4L2283.2 146.2L2283.6 145.8L2284 145.2L2284.4 144.6L2284.8 144.2L2285.2 143.8L2285.6 143.7L2286 143.8L2286.4 144L2286.8 144.2L2287.2 144.4L2287.6 144.4L2288 144.3L2288.4 143.9L2288.8 143.3L2289.2 142.8L2289.6 142.3L2290 141.9L2290.4 141.8L2290.8 141.8L2291.2 142.1L2291.6 142.3L2292 142.5L2292.4 142.5L2292.8 142.4L2293.2 142L2293.6 141.5L2294 140.9L2294.4 140.4L2294.8 140L2295.2 139.9L2295.6 139.9L2296 140.1L2296.4 140.4L2296.8 140.6L2297.2 140.7L2297.6 140.5L2298 140.1L2298.4 139.6L2298.8 139.1L2299.2 138.5L2299.6 138.2L2300 138L2300.4 138.1L2300.8 138.3L2301.2 138.5L2301.6 138.7L2302 138.8L2302.4 138.7L2302.8 138.3L2303.2 137.8L2303.6 137.2L2304 136.7L2304.4 136.3L2304.8 136.2L2305.2 136.2L2305.6 136.4L2306 136.7L2306.4 136.9L2306.8 137L2307.2 136.8L2307.6 136.5L2308 135.9L2308.4 135.4L2308.8 134.9L2309.2 134.5L2309.6 134.4L2310 134.4L2310.4 134.7L2310.8 134.9L2311.2 135.1L2311.6 135.2L2312 135L2312.4 134.6L2312.8 134.1L2313.2 133.5L2313.6 133L2314 132.7L2314.4 132.6L2314.8 132.7L2315.2 132.9L2315.6 133.2L2316 133.4L2316.4 133.4L2316.8 133.2L2317.2 132.8L2317.6 132.3L2318 131.7L2318.4 131.2L2318.8 130.9L2319.2 130.9L2319.6 131L2320 131.2L2320.4 131.5L2320.8 131.7L2321.2 131.7L2321.6 131.4L2322 131L2322.4 130.5L2322.8 129.9L2323.2 129.5L2323.6 129.2L2324 129.2L2324.4 129.3L2324.8 129.6L2325.2 129.8L2325.6 130L2326 129.9L2326.4 129.7L2326.8 129.2L2327.2 128.7L2327.6 128.1L2328 127.7L2328.4 127.5L2328.8 127.5L2329.2 127.7L2329.6 128L2330 128.2L2330.4 128.3L2330.8 128.2L2331.2 127.9L2331.6 127.4L2332 126.8L2332.4 126.3L2332.8 126L2333.2 125.8L2333.6 125.9L2334 126.1L2334.4 126.4L2334.8 126.6L2335.2 126.7L2335.6 126.5L2336 126.1L2336.4 125.6L2336.8 125.1L2337.2 124.6L2337.6 124.3L2338 124.2L2338.4 124.3L2338.8 124.6L2339.2 124.9L2339.6 125L2340 125L2340.4 124.8L2340.8 124.4L2341.2 123.8L2341.6 123.3L2342 122.8L2342.4 122.6L2342.8 122.6L2343.2 122.8L2343.6 123.1L2344 123.3L2344.4 123.5L2344.8 123.4L2345.2 123.1L2345.6 122.6L2346 122L2346.4 121.5L2346.8 121.2L2347.2 121L2347.6 121.1L2348 121.3L2348.4 121.6L2348.8 121.9L2349.2 121.9L2349.6 121.7L2350 121.4L2350.4 120.8L2350.8 120.3L2351.2 119.8L2351.6 119.5L2352 119.5L2352.4 119.7L2352.8 119.9L2353.2 120.2L2353.6 120.4L2354 120.3L2354.4 120.1L2354.8 119.6L2355.2 119.1L2355.6 118.5L2356 118.1L2356.4 118L2356.8 118L2357.2 118.3L2357.6 118.6L2358 118.8L2358.4 118.9L2358.8 118.7L2359.2 118.4L2359.6 117.9L2360 117.3L2360.4 116.8L2360.8 116.6L2361.2 116.5L2361.6 116.7L2362 117L2362.4 117.3L2362.8 117.4L2363.2 117.4L2363.6 117.1L2364 116.6L2364.4 116.1L2364.8 115.6L2365.2 115.2L2365.6 115.1L2366 115.1L2366.4 115.4L2366.8 115.7L2367.2 115.9L2367.6 116L2368 115.8L2368.4 115.4L2368.8 114.9L2369.2 114.4L2369.6 113.9L2370 113.7L2370.4 113.7L2370.8 113.9L2371.2 114.2L2371.6 114.4L2372 114.6L2372.4 114.5L2372.8 114.2L2373.2 113.7L2373.6 113.2L2374 112.7L2374.4 112.3L2374.8 112.2L2375.2 112.4L2375.6 112.7L2376 113L2376.4 113.2L2376.8 113.2L2377.2 113L2377.6 112.5L2378 112L2378.4 111.4L2378.8 111.1L2379.2 110.9L2379.6 110.9L2380 111.2L2380.4 111.5L2380.8 111.8L2381.2 111.9L2381.6 111.7L2382 111.3L2382.4 110.8L2382.8 110.3L2383.2 109.8L2383.6 109.6L2384 109.6L2384.4 109.8L2384.8 110.1L2385.2 110.4L2385.6 110.5L2386 110.5L2386.4 110.1L2386.8 109.6L2387.2 109.1L2387.6 108.6" stroke="#0000ff"/>
</g>
<g fill="#262626" font-size="72" text-anchor="end">
<text x="1361.3" y="78.1">4</text>
<text x="1361.3" y="227.3">2</text>
<text x="1361.3" y="376.5">0</text>
<text x="1361.3" y="525.7">2</text>
<text x="1361.3" y="674.9">4</text>
<text x="1361.3" y="824.1">6</text>
</g>
<text x="0" y="0" font-size="70" fill="#262626" transform="translate(1300.7 529.6) scale(1.28 1)" text-anchor="middle">&#8722;</text>
<text x="0" y="0" font-size="70" fill="#262626" transform="translate(1300.7 678.8) scale(1.28 1)" text-anchor="middle">&#8722;</text>
<text x="0" y="0" font-size="70" fill="#262626" transform="translate(1300.7 828) scale(1.28 1)" text-anchor="middle">&#8722;</text>
<g fill="#262626" font-size="72" text-anchor="middle">
<text x="1716.4" y="920">50</text>
<text x="2112.1" y="920" textLength="100.5" lengthAdjust="spacingAndGlyphs">100</text>
<text x="2343.5" y="920" textLength="100.5" lengthAdjust="spacingAndGlyphs">150</text>
</g>
<rect x="1499.7" y="98.7" width="240" height="150.4" fill="#fff" stroke="#3a3a3a" stroke-width="1.6"/>
<text x="1555.9" y="158.8" font-size="44" fill="#0aa5c2" text-anchor="middle" textLength="20.5" lengthAdjust="spacingAndGlyphs">X</text>
<text x="1577.3" y="158.8" font-size="44" fill="#0aa5c2" text-anchor="middle">:</text>
<text x="1599.1" y="158.8" font-size="44" fill="#0aa5c2" text-anchor="middle">4</text>
<text x="1620" y="158.8" font-size="44" fill="#0aa5c2" text-anchor="middle">8</text>
<text x="1636.5" y="158.8" font-size="44" fill="#0aa5c2" text-anchor="middle">.</text>
<text x="1664.2" y="158.8" font-size="44" fill="#0aa5c2" text-anchor="middle">7</text>
<text x="1683.5" y="158.8" font-size="44" fill="#0aa5c2" text-anchor="middle">1</text>
<text x="1542.9" y="213.4" font-size="44" fill="#0aa5c2" text-anchor="middle" textLength="20.5" lengthAdjust="spacingAndGlyphs">Y</text>
<text x="1563.8" y="213.4" font-size="44" fill="#0aa5c2" text-anchor="middle">:</text>
<text x="1587.3" y="215.4" font-size="44" fill="#0aa5c2" text-anchor="middle">&#8722;</text>
<text x="1613.4" y="213.4" font-size="44" fill="#0aa5c2" text-anchor="middle">0</text>
<text x="1629.3" y="213.4" font-size="44" fill="#0aa5c2" text-anchor="middle">.</text>
<text x="1656.2" y="213.4" font-size="44" fill="#0aa5c2" text-anchor="middle">0</text>
<text x="1677.2" y="213.4" font-size="44" fill="#0aa5c2" text-anchor="middle">0</text>
<text x="1697.7" y="213.4" font-size="44" fill="#0aa5c2" text-anchor="middle">3</text>
<rect x="1709.7" y="485.1" width="240" height="150.4" fill="#fff" stroke="#3a3a3a" stroke-width="1.6"/>
<text x="1765.9" y="545.2" font-size="44" fill="#0aa5c2" text-anchor="middle" textLength="20.5" lengthAdjust="spacingAndGlyphs">X</text>
<text x="1787.3" y="545.2" font-size="44" fill="#0aa5c2" text-anchor="middle">:</text>
<text x="1809.1" y="545.2" font-size="44" fill="#0aa5c2" text-anchor="middle">5</text>
<text x="1830" y="545.2" font-size="44" fill="#0aa5c2" text-anchor="middle">7</text>
<text x="1846.5" y="545.2" font-size="44" fill="#0aa5c2" text-anchor="middle">.</text>
<text x="1874.2" y="545.2" font-size="44" fill="#0aa5c2" text-anchor="middle">4</text>
<text x="1893.5" y="545.2" font-size="44" fill="#0aa5c2" text-anchor="middle">9</text>
<text x="1752.9" y="599.8" font-size="44" fill="#0aa5c2" text-anchor="middle" textLength="20.5" lengthAdjust="spacingAndGlyphs">Y</text>
<text x="1773.8" y="599.8" font-size="44" fill="#0aa5c2" text-anchor="middle">:</text>
<text x="1797.3" y="601.8" font-size="44" fill="#0aa5c2" text-anchor="middle">&#8722;</text>
<text x="1823.4" y="599.8" font-size="44" fill="#0aa5c2" text-anchor="middle">0</text>
<text x="1839.3" y="599.8" font-size="44" fill="#0aa5c2" text-anchor="middle">.</text>
<text x="1866.2" y="599.8" font-size="44" fill="#0aa5c2" text-anchor="middle">0</text>
<text x="1887.2" y="599.8" font-size="44" fill="#0aa5c2" text-anchor="middle">0</text>
<text x="1907.7" y="599.8" font-size="44" fill="#0aa5c2" text-anchor="middle">2</text>
<rect x="2047" y="463.1" width="240" height="150.4" fill="#fff" stroke="#3a3a3a" stroke-width="1.6"/>
<text x="2103.2" y="523.2" font-size="44" fill="#0aa5c2" text-anchor="middle" textLength="20.5" lengthAdjust="spacingAndGlyphs">X</text>
<text x="2124.6" y="523.2" font-size="44" fill="#0aa5c2" text-anchor="middle">:</text>
<text x="2146.4" y="523.2" font-size="44" fill="#0aa5c2" text-anchor="middle">6</text>
<text x="2167.3" y="523.2" font-size="44" fill="#0aa5c2" text-anchor="middle">9</text>
<text x="2183.8" y="523.2" font-size="44" fill="#0aa5c2" text-anchor="middle">.</text>
<text x="2211.5" y="523.2" font-size="44" fill="#0aa5c2" text-anchor="middle">5</text>
<text x="2230.8" y="523.2" font-size="44" fill="#0aa5c2" text-anchor="middle">8</text>
<text x="2090.2" y="577.8" font-size="44" fill="#0aa5c2" text-anchor="middle" textLength="20.5" lengthAdjust="spacingAndGlyphs">Y</text>
<text x="2111.1" y="577.8" font-size="44" fill="#0aa5c2" text-anchor="middle">:</text>
<text x="2134.6" y="579.8" font-size="44" fill="#0aa5c2" text-anchor="middle">&#8722;</text>
<text x="2160.7" y="577.8" font-size="44" fill="#0aa5c2" text-anchor="middle">0</text>
<text x="2176.6" y="577.8" font-size="44" fill="#0aa5c2" text-anchor="middle">.</text>
<text x="2203.5" y="577.8" font-size="44" fill="#0aa5c2" text-anchor="middle">0</text>
<text x="2224.5" y="577.8" font-size="44" fill="#0aa5c2" text-anchor="middle">0</text>
<text x="2245" y="577.8" font-size="44" fill="#0aa5c2" text-anchor="middle">7</text>
<path d="M1619 248.9L1678.8 343.4" stroke="#000" stroke-width="3"/>
<path d="M1690.8 362.4L1665.6 347L1678.8 343.4L1687.6 333.1Z" fill="#000"/>
<path d="M1829.6 485.2L1801.2 383.6" stroke="#000" stroke-width="3"/>
<path d="M1795.2 361.9L1814.8 383.9L1801.2 383.6L1789.8 390.9Z" fill="#000"/>
<path d="M2167.6 463.3L1931.8 367.4" stroke="#000" stroke-width="3"/>
<path d="M1911 358.9L1940.4 356.8L1931.8 367.4L1930.6 380.9Z" fill="#000"/>
<path d="M1381.3 49.6L1123.7 171.4" stroke="#000" stroke-width="3.6" stroke-dasharray="24.4 13.9" fill="none"/>
<path d="M1123.5 352L1358.8 814.7" stroke="#000" stroke-width="3.6" stroke-dasharray="24.4 13.9" fill="none"/>
</svg></body></html>
